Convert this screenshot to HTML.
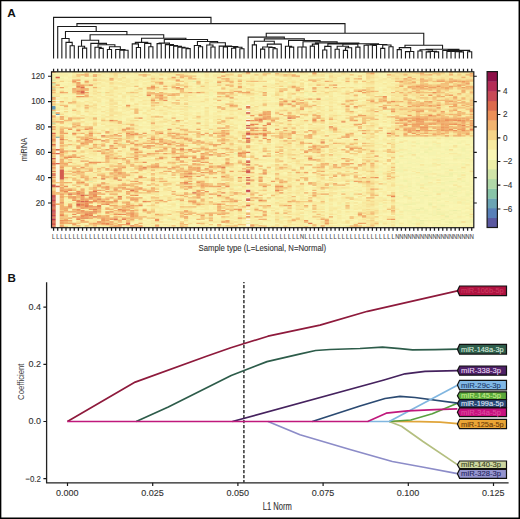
<!DOCTYPE html>
<html><head><meta charset="utf-8"><style>html,body{margin:0;padding:0;background:#fff;width:520px;height:519px;overflow:hidden}</style></head>
<body><svg width="520" height="519" viewBox="0 0 520 519" style="display:block"><rect x="0" y="0" width="520" height="519" fill="#fff"/><defs><filter id="bl" x="0" y="0" width="1" height="1"><feGaussianBlur stdDeviation="0.65" edgeMode="duplicate"/></filter></defs><g filter="url(#bl)"><g transform="translate(51.5 71.8) scale(4.14020 1.26748)"><rect x="0" y="0" width="102" height="123" fill="#f9eda5"/><path fill="#fcf9de" d="M1 20h1v1h-1zM1 22h1v1h-1zM1 24h1v1h-1zM47 26h1v1h-1zM47 29h1v1h-1zM1 31h1v1h-1zM47 31h1v1h-1zM1 34h1v1h-1zM47 35h1v1h-1zM47 37h1v1h-1zM47 39h1v1h-1zM47 40h1v1h-1zM47 45h1v1h-1zM47 50h1v1h-1zM47 51h1v1h-1zM1 52h1v1h-1zM1 53h1v1h-1zM1 54h1v1h-1zM1 55h1v1h-1zM1 56h1v1h-1zM1 57h1v1h-1zM1 58h1v1h-1zM1 59h1v1h-1zM1 60h1v1h-1zM1 62h1v1h-1zM1 63h1v1h-1zM1 65h1v1h-1zM47 65h1v1h-1zM1 66h1v1h-1zM1 67h1v1h-1zM1 68h1v1h-1zM47 68h1v1h-1zM1 69h1v1h-1zM47 69h1v1h-1zM1 70h1v1h-1zM1 71h1v1h-1zM1 73h1v1h-1zM1 74h1v1h-1zM1 75h1v1h-1zM1 76h1v1h-1zM1 77h1v1h-1zM1 78h1v1h-1zM1 79h1v1h-1zM1 80h1v1h-1zM47 80h1v1h-1zM1 81h1v1h-1zM1 82h1v1h-1zM1 83h1v1h-1zM1 84h1v1h-1zM1 85h1v1h-1zM1 86h1v1h-1zM1 88h1v1h-1zM1 89h1v1h-1zM1 91h1v1h-1zM1 92h1v1h-1zM47 92h1v1h-1zM1 93h1v1h-1zM1 94h1v1h-1zM47 95h1v1h-1zM1 97h1v1h-1zM1 98h1v1h-1zM1 99h1v1h-1zM47 99h1v1h-1zM1 100h1v1h-1zM1 101h1v1h-1zM1 102h1v1h-1zM47 102h1v1h-1zM1 103h1v1h-1zM1 105h1v1h-1zM1 106h1v1h-1zM1 107h1v1h-1zM47 107h1v1h-1zM1 108h1v1h-1zM1 109h1v1h-1zM47 109h1v1h-1zM1 110h1v1h-1zM47 110h1v1h-1zM1 111h1v1h-1zM1 112h1v1h-1zM1 113h1v1h-1zM47 113h1v1h-1zM1 114h1v1h-1zM1 115h1v1h-1zM1 116h1v1h-1zM47 116h1v1h-1zM1 117h1v1h-1zM1 118h1v1h-1zM47 118h1v1h-1zM1 119h1v1h-1zM1 120h1v1h-1zM47 120h1v1h-1zM1 121h1v1h-1zM47 121h1v1h-1zM1 122h1v1h-1z"/><path fill="#6497b5" d="M0 27h1v1h-1zM0 28h1v1h-1zM0 29h1v1h-1z"/><path fill="#6da8b3" d="M1 33h1v1h-1zM1 51h1v1h-1z"/><path fill="#a6d3a8" d="M0 40h1v1h-1z"/><path fill="#afd8a8" d="M0 9h1v1h-1zM0 13h1v1h-1z"/><path fill="#b7dba8" d="M0 32h1v1h-1z"/><path fill="#c6e0a8" d="M0 6h1v1h-1z"/><path fill="#dce9a8" d="M0 2h1v1h-1zM0 10h1v1h-1zM0 19h1v1h-1zM0 31h1v1h-1z"/><path fill="#e3eca8" d="M34 7h1v1h-1zM9 86h1v1h-1zM8 96h1v1h-1zM95 114h1v1h-1zM71 121h1v1h-1z"/><path fill="#eaeea8" d="M0 4h1v1h-1zM62 17h1v1h-1zM50 20h1v1h-1zM66 21h1v1h-1zM0 22h1v1h-1zM33 27h1v1h-1zM67 47h1v1h-1zM95 51h1v1h-1zM17 56h1v1h-1zM35 58h1v1h-1zM44 64h1v1h-1zM77 70h1v1h-1zM71 74h1v1h-1zM51 76h1v1h-1zM89 77h1v1h-1zM96 80h1v1h-1zM93 81h1v1h-1zM90 82h1v1h-1zM72 86h1v1h-1zM67 90h1v1h-1zM70 94h1v1h-1zM25 95h1v1h-1zM85 97h1v1h-1zM90 97h1v1h-1zM52 100h1v1h-1zM91 104h1v1h-1zM89 107h1v1h-1zM88 108h1v1h-1zM93 108h1v1h-1zM97 109h1v1h-1zM38 114h1v1h-1zM55 115h1v1h-1zM28 116h1v1h-1zM89 117h1v1h-1zM96 118h1v1h-1zM47 119h1v1h-1zM94 122h1v1h-1z"/><path fill="#eff1a9" d="M49 0h1v1h-1zM2 5h1v1h-1zM57 8h1v1h-1zM35 11h1v1h-1zM56 11h1v1h-1zM14 13h1v1h-1zM12 16h1v1h-1zM61 16h1v1h-1zM4 17h1v1h-1zM79 18h1v1h-1zM43 21h1v1h-1zM58 25h1v1h-1zM10 35h1v1h-1zM5 39h1v1h-1zM27 44h1v1h-1zM38 47h1v1h-1zM17 51h1v1h-1zM36 51h1v1h-1zM84 51h1v1h-1zM82 54h1v1h-1zM88 56h1v1h-1zM62 60h1v1h-1zM91 61h1v1h-1zM22 62h1v1h-1zM84 63h1v1h-1zM90 63h1v1h-1zM86 64h1v1h-1zM44 65h1v1h-1zM69 66h1v1h-1zM97 68h1v1h-1zM100 68h1v1h-1zM35 71h1v1h-1zM83 71h1v1h-1zM94 72h1v1h-1zM10 73h1v1h-1zM92 73h1v1h-1zM11 74h1v1h-1zM31 74h1v1h-1zM42 75h1v1h-1zM87 76h1v1h-1zM95 76h1v1h-1zM27 77h1v1h-1zM58 79h1v1h-1zM99 79h1v1h-1zM96 81h1v1h-1zM94 82h2v1h-2zM85 85h1v1h-1zM85 86h1v1h-1zM96 86h2v1h-2zM99 86h1v1h-1zM33 87h1v1h-1zM53 88h1v1h-1zM44 90h1v1h-1zM86 90h1v1h-1zM51 91h1v1h-1zM94 92h1v1h-1zM97 92h1v1h-1zM94 93h1v1h-1zM86 94h1v1h-1zM89 94h1v1h-1zM97 94h1v1h-1zM100 96h1v1h-1zM96 97h1v1h-1zM72 98h1v1h-1zM97 98h1v1h-1zM92 99h1v1h-1zM93 101h1v1h-1zM4 102h1v1h-1zM83 103h1v1h-1zM91 103h1v1h-1zM79 104h1v1h-1zM85 104h2v1h-2zM94 105h1v1h-1zM101 106h1v1h-1zM62 110h1v1h-1zM93 110h1v1h-1zM50 111h1v1h-1zM93 112h2v1h-2zM6 113h1v1h-1zM94 116h1v1h-1zM20 117h1v1h-1zM79 118h1v1h-1zM49 119h1v1h-1zM89 119h1v1h-1zM92 121h1v1h-1zM89 122h1v1h-1zM101 122h1v1h-1z"/><path fill="#f2f2ac" d="M59 0h1v1h-1zM36 1h1v1h-1zM56 1h1v1h-1zM2 3h1v1h-1zM10 4h1v1h-1zM39 5h1v1h-1zM36 6h1v1h-1zM0 7h1v1h-1zM46 9h1v1h-1zM73 10h1v1h-1zM8 12h1v1h-1zM79 14h1v1h-1zM38 16h1v1h-1zM38 18h1v1h-1zM41 18h1v1h-1zM62 18h2v1h-2zM22 19h1v1h-1zM49 19h1v1h-1zM61 19h1v1h-1zM39 20h1v1h-1zM41 24h1v1h-1zM47 24h1v1h-1zM66 29h1v1h-1zM72 30h1v1h-1zM81 30h1v1h-1zM3 32h1v1h-1zM69 33h1v1h-1zM81 34h1v1h-1zM12 35h1v1h-1zM30 36h1v1h-1zM56 36h1v1h-1zM16 37h1v1h-1zM62 37h1v1h-1zM71 37h1v1h-1zM35 38h1v1h-1zM35 39h2v1h-2zM17 40h1v1h-1zM4 41h1v1h-1zM70 45h1v1h-1zM38 46h1v1h-1zM43 48h1v1h-1zM4 49h1v1h-1zM37 51h1v1h-1zM58 51h1v1h-1zM85 51h1v1h-1zM87 51h1v1h-1zM90 51h1v1h-1zM66 52h1v1h-1zM75 52h1v1h-1zM91 52h1v1h-1zM96 52h1v1h-1zM61 53h1v1h-1zM96 53h1v1h-1zM62 54h1v1h-1zM76 54h1v1h-1zM99 54h1v1h-1zM4 55h1v1h-1zM90 55h1v1h-1zM78 56h1v1h-1zM90 56h1v1h-1zM98 56h1v1h-1zM47 57h1v1h-1zM92 57h2v1h-2zM13 58h1v1h-1zM83 58h1v1h-1zM89 59h1v1h-1zM91 59h1v1h-1zM93 59h1v1h-1zM84 60h1v1h-1zM91 60h1v1h-1zM99 60h1v1h-1zM95 61h1v1h-1zM99 61h1v1h-1zM13 62h1v1h-1zM32 62h1v1h-1zM86 62h1v1h-1zM90 62h1v1h-1zM96 62h1v1h-1zM99 62h1v1h-1zM52 63h1v1h-1zM94 64h1v1h-1zM85 65h1v1h-1zM97 66h2v1h-2zM40 67h1v1h-1zM53 67h1v1h-1zM88 67h1v1h-1zM84 68h2v1h-2zM88 68h1v1h-1zM93 68h1v1h-1zM98 68h1v1h-1zM34 69h1v1h-1zM3 70h1v1h-1zM83 70h1v1h-1zM30 72h1v1h-1zM86 72h1v1h-1zM99 72h1v1h-1zM84 73h1v1h-1zM95 73h1v1h-1zM99 73h1v1h-1zM91 74h1v1h-1zM79 75h1v1h-1zM84 75h1v1h-1zM86 75h1v1h-1zM98 76h1v1h-1zM7 77h1v1h-1zM83 77h2v1h-2zM93 77h1v1h-1zM19 78h1v1h-1zM53 78h1v1h-1zM72 78h1v1h-1zM79 78h1v1h-1zM83 78h2v1h-2zM91 78h1v1h-1zM95 78h1v1h-1zM42 79h1v1h-1zM79 79h1v1h-1zM89 79h2v1h-2zM96 79h2v1h-2zM87 80h1v1h-1zM89 80h1v1h-1zM79 81h1v1h-1zM85 81h1v1h-1zM90 81h1v1h-1zM94 81h1v1h-1zM98 81h1v1h-1zM44 82h1v1h-1zM96 82h1v1h-1zM98 82h1v1h-1zM88 83h1v1h-1zM90 83h3v1h-3zM63 84h1v1h-1zM90 84h1v1h-1zM95 84h1v1h-1zM98 85h1v1h-1zM61 86h1v1h-1zM80 87h1v1h-1zM94 87h1v1h-1zM86 88h1v1h-1zM88 88h1v1h-1zM90 88h1v1h-1zM92 88h1v1h-1zM94 88h1v1h-1zM88 89h1v1h-1zM90 89h2v1h-2zM100 89h1v1h-1zM84 90h1v1h-1zM89 90h1v1h-1zM74 91h1v1h-1zM93 91h1v1h-1zM98 91h1v1h-1zM96 92h1v1h-1zM99 92h1v1h-1zM85 93h1v1h-1zM88 93h1v1h-1zM96 93h1v1h-1zM98 93h1v1h-1zM101 93h1v1h-1zM74 94h1v1h-1zM84 94h1v1h-1zM92 94h3v1h-3zM85 95h1v1h-1zM93 95h1v1h-1zM97 95h1v1h-1zM23 96h1v1h-1zM89 96h1v1h-1zM101 96h1v1h-1zM66 97h1v1h-1zM69 97h1v1h-1zM86 97h1v1h-1zM91 97h1v1h-1zM100 97h1v1h-1zM66 98h1v1h-1zM83 98h1v1h-1zM86 98h1v1h-1zM80 99h1v1h-1zM84 99h1v1h-1zM88 99h1v1h-1zM96 99h1v1h-1zM101 99h1v1h-1zM39 100h1v1h-1zM83 100h1v1h-1zM94 100h1v1h-1zM98 100h2v1h-2zM54 101h1v1h-1zM100 101h1v1h-1zM30 102h1v1h-1zM101 102h1v1h-1zM31 103h1v1h-1zM87 103h2v1h-2zM99 103h1v1h-1zM70 104h1v1h-1zM87 104h1v1h-1zM22 105h1v1h-1zM91 105h1v1h-1zM35 106h1v1h-1zM56 107h1v1h-1zM87 108h1v1h-1zM89 108h1v1h-1zM85 109h2v1h-2zM90 109h1v1h-1zM96 109h1v1h-1zM98 109h1v1h-1zM87 110h2v1h-2zM95 110h1v1h-1zM101 110h1v1h-1zM79 111h1v1h-1zM93 111h2v1h-2zM97 111h1v1h-1zM100 111h1v1h-1zM83 112h1v1h-1zM87 112h1v1h-1zM91 112h1v1h-1zM96 112h1v1h-1zM4 113h1v1h-1zM61 113h1v1h-1zM83 113h1v1h-1zM92 113h1v1h-1zM95 113h1v1h-1zM100 113h2v1h-2zM84 114h1v1h-1zM84 115h1v1h-1zM90 115h1v1h-1zM88 116h1v1h-1zM96 116h1v1h-1zM101 116h1v1h-1zM83 117h1v1h-1zM88 117h1v1h-1zM90 117h4v1h-4zM101 117h1v1h-1zM38 118h1v1h-1zM86 118h1v1h-1zM89 118h1v1h-1zM95 118h1v1h-1zM98 118h1v1h-1zM100 118h2v1h-2zM87 119h1v1h-1zM92 119h2v1h-2zM96 119h1v1h-1zM95 120h1v1h-1zM3 121h1v1h-1zM84 121h1v1h-1zM89 121h1v1h-1zM33 122h1v1h-1zM90 122h1v1h-1zM100 122h1v1h-1z"/><path fill="#f5f3af" d="M3 0h1v1h-1zM52 0h1v1h-1zM40 1h1v1h-1zM45 1h1v1h-1zM75 1h1v1h-1zM79 1h1v1h-1zM16 2h1v1h-1zM38 2h1v1h-1zM47 3h1v1h-1zM66 3h1v1h-1zM81 3h1v1h-1zM7 4h1v1h-1zM44 4h1v1h-1zM70 4h1v1h-1zM5 5h1v1h-1zM63 5h1v1h-1zM52 6h1v1h-1zM23 7h1v1h-1zM46 7h1v1h-1zM33 8h1v1h-1zM38 8h2v1h-2zM40 9h1v1h-1zM53 9h1v1h-1zM4 10h1v1h-1zM11 10h1v1h-1zM51 10h1v1h-1zM4 13h1v1h-1zM35 13h1v1h-1zM22 14h1v1h-1zM39 14h1v1h-1zM61 14h1v1h-1zM63 14h1v1h-1zM4 15h1v1h-1zM18 15h1v1h-1zM51 15h1v1h-1zM70 15h1v1h-1zM21 16h1v1h-1zM19 17h1v1h-1zM38 17h1v1h-1zM53 17h1v1h-1zM56 17h1v1h-1zM2 18h1v1h-1zM58 18h1v1h-1zM4 19h1v1h-1zM18 19h1v1h-1zM35 19h1v1h-1zM52 20h1v1h-1zM40 21h1v1h-1zM72 21h1v1h-1zM33 22h1v1h-1zM39 22h1v1h-1zM61 22h1v1h-1zM78 22h1v1h-1zM25 23h1v1h-1zM74 23h1v1h-1zM12 24h1v1h-1zM12 25h1v1h-1zM36 25h1v1h-1zM5 26h1v1h-1zM54 26h1v1h-1zM73 26h1v1h-1zM38 27h1v1h-1zM2 28h1v1h-1zM74 28h1v1h-1zM22 29h1v1h-1zM33 29h1v1h-1zM51 29h1v1h-1zM61 29h1v1h-1zM73 29h1v1h-1zM4 31h1v1h-1zM13 31h1v1h-1zM33 31h1v1h-1zM53 31h1v1h-1zM80 31h2v1h-2zM28 32h1v1h-1zM79 34h1v1h-1zM22 35h1v1h-1zM49 35h1v1h-1zM78 35h1v1h-1zM28 36h1v1h-1zM46 37h1v1h-1zM23 38h1v1h-1zM51 38h1v1h-1zM4 39h1v1h-1zM8 39h1v1h-1zM74 39h1v1h-1zM81 39h1v1h-1zM21 40h1v1h-1zM51 40h1v1h-1zM0 42h1v1h-1zM40 42h1v1h-1zM66 42h1v1h-1zM11 43h1v1h-1zM19 43h1v1h-1zM38 43h1v1h-1zM81 43h1v1h-1zM38 44h1v1h-1zM53 44h1v1h-1zM30 45h1v1h-1zM52 45h1v1h-1zM66 45h1v1h-1zM4 47h1v1h-1zM66 47h1v1h-1zM21 48h1v1h-1zM23 48h1v1h-1zM62 48h1v1h-1zM10 49h1v1h-1zM70 49h1v1h-1zM50 50h1v1h-1zM75 50h1v1h-1zM86 51h1v1h-1zM92 51h1v1h-1zM96 51h2v1h-2zM101 51h1v1h-1zM83 52h1v1h-1zM87 52h1v1h-1zM90 52h1v1h-1zM92 52h1v1h-1zM94 52h1v1h-1zM98 52h1v1h-1zM100 52h1v1h-1zM53 53h1v1h-1zM58 53h1v1h-1zM84 53h1v1h-1zM93 53h1v1h-1zM95 53h1v1h-1zM84 54h1v1h-1zM88 54h1v1h-1zM86 55h1v1h-1zM91 55h1v1h-1zM95 55h1v1h-1zM98 55h1v1h-1zM52 56h1v1h-1zM66 56h1v1h-1zM79 56h1v1h-1zM86 56h2v1h-2zM92 56h1v1h-1zM96 56h1v1h-1zM13 57h1v1h-1zM84 57h1v1h-1zM88 57h1v1h-1zM90 57h1v1h-1zM4 58h1v1h-1zM50 58h1v1h-1zM70 58h1v1h-1zM72 58h1v1h-1zM84 58h1v1h-1zM86 58h1v1h-1zM4 59h1v1h-1zM83 59h1v1h-1zM92 59h1v1h-1zM94 59h2v1h-2zM98 59h2v1h-2zM101 59h1v1h-1zM22 60h1v1h-1zM50 60h1v1h-1zM59 60h1v1h-1zM83 60h1v1h-1zM86 60h1v1h-1zM89 60h1v1h-1zM92 60h2v1h-2zM95 60h1v1h-1zM100 60h1v1h-1zM40 61h1v1h-1zM78 61h1v1h-1zM88 61h1v1h-1zM90 61h1v1h-1zM98 61h1v1h-1zM85 62h1v1h-1zM88 62h1v1h-1zM92 62h2v1h-2zM100 62h1v1h-1zM19 63h1v1h-1zM86 63h3v1h-3zM91 63h2v1h-2zM95 63h1v1h-1zM97 63h1v1h-1zM100 63h1v1h-1zM80 64h1v1h-1zM83 64h1v1h-1zM87 64h1v1h-1zM89 64h1v1h-1zM91 64h2v1h-2zM98 64h1v1h-1zM100 64h1v1h-1zM17 65h1v1h-1zM83 65h1v1h-1zM89 65h1v1h-1zM91 65h3v1h-3zM99 65h1v1h-1zM58 66h1v1h-1zM83 66h1v1h-1zM87 66h1v1h-1zM99 66h2v1h-2zM51 67h1v1h-1zM70 67h1v1h-1zM84 67h1v1h-1zM94 67h1v1h-1zM97 67h3v1h-3zM86 68h1v1h-1zM89 68h1v1h-1zM92 68h1v1h-1zM99 68h1v1h-1zM83 69h1v1h-1zM87 69h1v1h-1zM89 69h1v1h-1zM94 69h2v1h-2zM86 70h1v1h-1zM88 70h1v1h-1zM93 70h2v1h-2zM99 70h3v1h-3zM63 71h1v1h-1zM86 71h2v1h-2zM89 71h1v1h-1zM92 71h2v1h-2zM85 72h1v1h-1zM88 72h1v1h-1zM95 72h3v1h-3zM52 73h1v1h-1zM63 73h1v1h-1zM73 73h1v1h-1zM87 73h2v1h-2zM90 73h2v1h-2zM101 73h1v1h-1zM32 74h1v1h-1zM83 74h2v1h-2zM94 74h1v1h-1zM97 74h2v1h-2zM100 74h1v1h-1zM13 75h1v1h-1zM61 75h1v1h-1zM85 75h1v1h-1zM89 75h2v1h-2zM94 75h1v1h-1zM96 75h2v1h-2zM61 76h1v1h-1zM83 76h3v1h-3zM88 76h1v1h-1zM94 76h1v1h-1zM96 76h2v1h-2zM101 76h1v1h-1zM5 77h1v1h-1zM72 77h1v1h-1zM86 77h1v1h-1zM88 77h1v1h-1zM90 77h1v1h-1zM92 77h1v1h-1zM97 77h3v1h-3zM101 77h1v1h-1zM85 78h1v1h-1zM90 78h1v1h-1zM78 79h1v1h-1zM84 79h1v1h-1zM91 79h1v1h-1zM98 79h1v1h-1zM101 79h1v1h-1zM85 80h2v1h-2zM95 80h1v1h-1zM98 80h1v1h-1zM100 80h1v1h-1zM84 81h1v1h-1zM88 81h2v1h-2zM91 82h1v1h-1zM93 82h1v1h-1zM99 82h1v1h-1zM30 83h1v1h-1zM35 83h1v1h-1zM93 83h1v1h-1zM22 84h1v1h-1zM35 84h1v1h-1zM79 84h1v1h-1zM83 84h1v1h-1zM91 84h2v1h-2zM94 84h1v1h-1zM96 84h1v1h-1zM84 85h1v1h-1zM89 85h2v1h-2zM94 85h1v1h-1zM99 85h1v1h-1zM12 86h1v1h-1zM63 86h1v1h-1zM83 86h2v1h-2zM86 86h1v1h-1zM89 86h2v1h-2zM95 86h1v1h-1zM73 87h1v1h-1zM83 87h1v1h-1zM86 87h1v1h-1zM88 87h3v1h-3zM95 87h2v1h-2zM98 87h1v1h-1zM100 87h1v1h-1zM5 88h1v1h-1zM74 88h1v1h-1zM91 88h1v1h-1zM95 88h2v1h-2zM100 88h1v1h-1zM86 89h1v1h-1zM93 89h2v1h-2zM7 90h1v1h-1zM24 90h1v1h-1zM41 90h1v1h-1zM61 90h1v1h-1zM95 90h1v1h-1zM101 90h1v1h-1zM83 91h1v1h-1zM85 91h1v1h-1zM87 91h1v1h-1zM91 91h1v1h-1zM95 91h3v1h-3zM99 91h2v1h-2zM11 92h1v1h-1zM50 92h1v1h-1zM70 92h1v1h-1zM73 92h1v1h-1zM83 92h2v1h-2zM86 92h1v1h-1zM92 92h1v1h-1zM100 92h2v1h-2zM38 93h1v1h-1zM92 93h1v1h-1zM95 93h1v1h-1zM52 94h1v1h-1zM90 94h1v1h-1zM95 94h1v1h-1zM100 94h1v1h-1zM72 95h1v1h-1zM83 95h1v1h-1zM87 95h1v1h-1zM100 95h2v1h-2zM13 96h1v1h-1zM72 96h1v1h-1zM85 96h1v1h-1zM88 96h1v1h-1zM90 96h1v1h-1zM95 96h3v1h-3zM46 97h1v1h-1zM72 97h1v1h-1zM87 97h2v1h-2zM93 97h1v1h-1zM89 98h2v1h-2zM93 98h1v1h-1zM96 98h1v1h-1zM99 98h2v1h-2zM53 99h1v1h-1zM81 99h1v1h-1zM91 99h1v1h-1zM95 99h1v1h-1zM3 100h1v1h-1zM51 100h1v1h-1zM89 100h1v1h-1zM93 100h1v1h-1zM95 100h1v1h-1zM97 100h1v1h-1zM35 101h1v1h-1zM66 101h1v1h-1zM87 101h1v1h-1zM89 101h1v1h-1zM91 101h1v1h-1zM96 101h3v1h-3zM49 102h1v1h-1zM72 102h1v1h-1zM89 102h1v1h-1zM97 102h1v1h-1zM99 102h1v1h-1zM19 103h1v1h-1zM30 103h1v1h-1zM40 103h1v1h-1zM50 103h1v1h-1zM86 103h1v1h-1zM89 103h1v1h-1zM97 103h1v1h-1zM100 103h1v1h-1zM80 104h1v1h-1zM84 104h1v1h-1zM93 104h2v1h-2zM99 104h1v1h-1zM30 105h1v1h-1zM53 105h1v1h-1zM62 105h1v1h-1zM66 105h1v1h-1zM69 105h1v1h-1zM83 105h3v1h-3zM93 105h1v1h-1zM95 105h1v1h-1zM101 105h1v1h-1zM23 106h1v1h-1zM50 106h1v1h-1zM79 106h1v1h-1zM85 106h1v1h-1zM94 106h1v1h-1zM79 107h1v1h-1zM83 107h1v1h-1zM86 107h1v1h-1zM92 107h2v1h-2zM62 108h1v1h-1zM72 108h1v1h-1zM85 108h1v1h-1zM90 108h1v1h-1zM99 108h1v1h-1zM36 109h1v1h-1zM84 109h1v1h-1zM88 109h1v1h-1zM92 109h1v1h-1zM101 109h1v1h-1zM46 110h1v1h-1zM86 110h1v1h-1zM90 110h1v1h-1zM92 110h1v1h-1zM94 110h1v1h-1zM52 111h1v1h-1zM73 111h1v1h-1zM87 111h1v1h-1zM89 111h2v1h-2zM92 111h1v1h-1zM95 111h1v1h-1zM99 111h1v1h-1zM86 112h1v1h-1zM92 112h1v1h-1zM98 112h1v1h-1zM50 113h1v1h-1zM89 113h1v1h-1zM98 113h1v1h-1zM30 114h1v1h-1zM68 114h1v1h-1zM93 114h1v1h-1zM83 115h1v1h-1zM87 115h1v1h-1zM97 115h2v1h-2zM5 116h1v1h-1zM23 116h1v1h-1zM55 116h1v1h-1zM62 116h1v1h-1zM87 116h1v1h-1zM33 117h1v1h-1zM53 117h1v1h-1zM86 117h2v1h-2zM100 117h1v1h-1zM83 118h1v1h-1zM88 118h1v1h-1zM61 119h1v1h-1zM83 119h1v1h-1zM86 119h1v1h-1zM98 119h1v1h-1zM4 120h1v1h-1zM33 120h1v1h-1zM61 120h1v1h-1zM69 120h1v1h-1zM87 120h1v1h-1zM89 120h2v1h-2zM93 120h1v1h-1zM97 120h1v1h-1zM17 121h1v1h-1zM62 121h1v1h-1zM81 121h1v1h-1zM86 121h1v1h-1zM94 121h1v1h-1zM97 121h1v1h-1zM101 121h1v1h-1zM4 122h1v1h-1zM93 122h1v1h-1zM97 122h1v1h-1zM99 122h1v1h-1z"/><path fill="#f8f5b2" d="M36 0h1v1h-1zM4 1h1v1h-1zM21 1h1v1h-1zM35 1h1v1h-1zM44 1h1v1h-1zM74 1h1v1h-1zM4 2h1v1h-1zM12 2h1v1h-1zM47 2h1v1h-1zM4 3h1v1h-1zM13 3h1v1h-1zM17 3h1v1h-1zM29 3h1v1h-1zM40 3h1v1h-1zM49 3h1v1h-1zM60 3h1v1h-1zM80 3h1v1h-1zM2 4h1v1h-1zM16 4h1v1h-1zM18 4h1v1h-1zM35 4h1v1h-1zM4 5h1v1h-1zM8 5h1v1h-1zM37 5h2v1h-2zM51 5h1v1h-1zM70 5h1v1h-1zM2 6h1v1h-1zM7 6h1v1h-1zM21 6h1v1h-1zM34 6h1v1h-1zM49 6h1v1h-1zM66 6h1v1h-1zM7 7h1v1h-1zM29 7h1v1h-1zM39 7h1v1h-1zM52 7h1v1h-1zM4 8h1v1h-1zM34 8h1v1h-1zM49 8h1v1h-1zM51 8h1v1h-1zM53 8h1v1h-1zM80 8h1v1h-1zM38 9h1v1h-1zM2 10h1v1h-1zM39 10h1v1h-1zM61 10h1v1h-1zM71 10h1v1h-1zM21 11h1v1h-1zM49 11h1v1h-1zM63 11h2v1h-2zM4 12h1v1h-1zM31 12h1v1h-1zM40 12h1v1h-1zM49 13h1v1h-1zM53 13h1v1h-1zM57 13h1v1h-1zM62 13h1v1h-1zM75 13h1v1h-1zM79 13h1v1h-1zM11 14h1v1h-1zM18 14h2v1h-2zM53 14h1v1h-1zM67 14h1v1h-1zM22 15h1v1h-1zM24 15h1v1h-1zM56 15h1v1h-1zM79 15h1v1h-1zM4 16h1v1h-1zM22 16h1v1h-1zM35 17h2v1h-2zM45 17h1v1h-1zM61 17h1v1h-1zM63 17h1v1h-1zM68 17h1v1h-1zM3 18h1v1h-1zM12 18h1v1h-1zM36 18h1v1h-1zM61 18h1v1h-1zM80 18h1v1h-1zM3 19h1v1h-1zM38 19h1v1h-1zM36 20h1v1h-1zM38 20h1v1h-1zM53 20h1v1h-1zM55 20h1v1h-1zM61 20h1v1h-1zM74 20h1v1h-1zM8 21h1v1h-1zM16 21h1v1h-1zM18 21h1v1h-1zM23 21h1v1h-1zM30 21h1v1h-1zM52 21h1v1h-1zM69 21h1v1h-1zM4 22h1v1h-1zM6 22h2v1h-2zM28 22h1v1h-1zM47 22h1v1h-1zM12 23h1v1h-1zM16 23h1v1h-1zM41 23h2v1h-2zM53 23h2v1h-2zM62 23h1v1h-1zM36 24h1v1h-1zM42 24h1v1h-1zM46 24h1v1h-1zM50 24h1v1h-1zM62 24h1v1h-1zM8 25h1v1h-1zM63 25h1v1h-1zM68 25h1v1h-1zM39 26h2v1h-2zM46 26h1v1h-1zM41 27h1v1h-1zM48 27h1v1h-1zM56 27h1v1h-1zM19 28h1v1h-1zM21 28h1v1h-1zM31 28h1v1h-1zM36 28h1v1h-1zM54 28h1v1h-1zM81 28h1v1h-1zM4 29h1v1h-1zM25 29h1v1h-1zM35 29h1v1h-1zM38 29h1v1h-1zM4 30h1v1h-1zM7 30h1v1h-1zM61 30h1v1h-1zM78 30h1v1h-1zM80 30h1v1h-1zM22 31h1v1h-1zM35 31h1v1h-1zM38 31h2v1h-2zM69 31h2v1h-2zM11 32h2v1h-2zM17 32h1v1h-1zM21 32h1v1h-1zM36 32h1v1h-1zM44 32h1v1h-1zM63 32h1v1h-1zM5 33h1v1h-1zM21 33h1v1h-1zM41 33h1v1h-1zM81 33h1v1h-1zM4 34h1v1h-1zM11 34h1v1h-1zM22 34h1v1h-1zM28 35h1v1h-1zM33 36h1v1h-1zM40 36h1v1h-1zM45 36h1v1h-1zM59 36h1v1h-1zM61 36h1v1h-1zM73 36h2v1h-2zM7 37h1v1h-1zM30 37h1v1h-1zM38 37h1v1h-1zM31 39h1v1h-1zM62 39h1v1h-1zM44 40h1v1h-1zM7 41h1v1h-1zM36 41h1v1h-1zM38 41h2v1h-2zM47 41h1v1h-1zM53 41h1v1h-1zM79 41h1v1h-1zM23 42h1v1h-1zM33 42h1v1h-1zM35 42h1v1h-1zM80 42h1v1h-1zM10 43h1v1h-1zM27 43h1v1h-1zM32 43h1v1h-1zM22 44h1v1h-1zM33 44h1v1h-1zM66 44h1v1h-1zM70 44h1v1h-1zM53 45h1v1h-1zM71 45h1v1h-1zM4 46h1v1h-1zM11 46h1v1h-1zM23 46h1v1h-1zM55 46h1v1h-1zM36 47h1v1h-1zM50 47h1v1h-1zM74 47h1v1h-1zM77 47h1v1h-1zM79 47h1v1h-1zM34 48h1v1h-1zM38 48h1v1h-1zM59 48h1v1h-1zM74 48h1v1h-1zM53 49h1v1h-1zM66 49h1v1h-1zM79 50h2v1h-2zM23 51h1v1h-1zM51 51h1v1h-1zM64 51h1v1h-1zM74 51h1v1h-1zM79 51h1v1h-1zM88 51h1v1h-1zM94 51h1v1h-1zM98 51h3v1h-3zM12 52h1v1h-1zM35 52h1v1h-1zM45 52h1v1h-1zM50 52h1v1h-1zM52 52h1v1h-1zM73 52h1v1h-1zM79 52h1v1h-1zM85 52h2v1h-2zM88 52h2v1h-2zM99 52h1v1h-1zM101 52h1v1h-1zM4 53h1v1h-1zM62 53h1v1h-1zM79 53h1v1h-1zM86 53h6v1h-6zM101 53h1v1h-1zM19 54h1v1h-1zM38 54h2v1h-2zM90 54h1v1h-1zM95 54h1v1h-1zM97 54h2v1h-2zM100 54h2v1h-2zM33 55h1v1h-1zM51 55h1v1h-1zM79 55h1v1h-1zM81 55h1v1h-1zM83 55h1v1h-1zM85 55h1v1h-1zM88 55h1v1h-1zM100 55h2v1h-2zM51 56h1v1h-1zM53 56h1v1h-1zM84 56h2v1h-2zM89 56h1v1h-1zM94 56h2v1h-2zM97 56h1v1h-1zM100 56h2v1h-2zM9 57h1v1h-1zM33 57h1v1h-1zM62 57h1v1h-1zM74 57h1v1h-1zM83 57h1v1h-1zM85 57h1v1h-1zM95 57h1v1h-1zM97 57h1v1h-1zM34 58h1v1h-1zM85 58h1v1h-1zM92 58h1v1h-1zM95 58h2v1h-2zM98 58h3v1h-3zM84 59h1v1h-1zM86 59h1v1h-1zM88 59h1v1h-1zM100 59h1v1h-1zM4 60h1v1h-1zM7 60h1v1h-1zM13 60h1v1h-1zM38 60h1v1h-1zM66 60h1v1h-1zM69 60h1v1h-1zM79 60h1v1h-1zM85 60h1v1h-1zM87 60h2v1h-2zM90 60h1v1h-1zM94 60h1v1h-1zM97 60h2v1h-2zM101 60h1v1h-1zM3 61h1v1h-1zM52 61h1v1h-1zM56 61h1v1h-1zM66 61h1v1h-1zM86 61h1v1h-1zM89 61h1v1h-1zM92 61h3v1h-3zM36 62h1v1h-1zM39 62h1v1h-1zM47 62h1v1h-1zM84 62h1v1h-1zM94 62h2v1h-2zM97 62h2v1h-2zM26 63h1v1h-1zM36 63h1v1h-1zM44 63h1v1h-1zM66 63h1v1h-1zM73 63h1v1h-1zM83 63h1v1h-1zM85 63h1v1h-1zM93 63h1v1h-1zM96 63h1v1h-1zM99 63h1v1h-1zM101 63h1v1h-1zM53 64h1v1h-1zM71 64h1v1h-1zM84 64h2v1h-2zM90 64h1v1h-1zM93 64h1v1h-1zM95 64h1v1h-1zM99 64h1v1h-1zM6 65h1v1h-1zM11 65h1v1h-1zM30 65h1v1h-1zM41 65h1v1h-1zM84 65h1v1h-1zM88 65h1v1h-1zM90 65h1v1h-1zM94 65h1v1h-1zM97 65h1v1h-1zM12 66h1v1h-1zM70 66h1v1h-1zM85 66h2v1h-2zM88 66h1v1h-1zM90 66h3v1h-3zM96 66h1v1h-1zM101 66h1v1h-1zM50 67h1v1h-1zM64 67h1v1h-1zM68 67h1v1h-1zM73 67h1v1h-1zM86 67h1v1h-1zM91 67h2v1h-2zM95 67h2v1h-2zM100 67h2v1h-2zM5 68h1v1h-1zM24 68h1v1h-1zM33 68h1v1h-1zM46 68h1v1h-1zM83 68h1v1h-1zM91 68h1v1h-1zM94 68h1v1h-1zM101 68h1v1h-1zM11 69h1v1h-1zM56 69h1v1h-1zM86 69h1v1h-1zM90 69h1v1h-1zM96 69h1v1h-1zM98 69h1v1h-1zM26 70h1v1h-1zM50 70h1v1h-1zM62 70h1v1h-1zM66 70h1v1h-1zM84 70h2v1h-2zM87 70h1v1h-1zM90 70h2v1h-2zM95 70h1v1h-1zM97 70h1v1h-1zM16 71h1v1h-1zM52 71h1v1h-1zM61 71h1v1h-1zM64 71h1v1h-1zM85 71h1v1h-1zM90 71h1v1h-1zM94 71h2v1h-2zM100 71h1v1h-1zM7 72h1v1h-1zM31 72h1v1h-1zM51 72h2v1h-2zM57 72h1v1h-1zM74 72h1v1h-1zM84 72h1v1h-1zM87 72h1v1h-1zM89 72h3v1h-3zM93 72h1v1h-1zM100 72h2v1h-2zM11 73h1v1h-1zM40 73h1v1h-1zM45 73h1v1h-1zM81 73h1v1h-1zM83 73h1v1h-1zM85 73h1v1h-1zM98 73h1v1h-1zM46 74h1v1h-1zM51 74h1v1h-1zM58 74h1v1h-1zM62 74h1v1h-1zM86 74h2v1h-2zM89 74h2v1h-2zM96 74h1v1h-1zM53 75h1v1h-1zM62 75h1v1h-1zM88 75h1v1h-1zM91 75h2v1h-2zM95 75h1v1h-1zM98 75h1v1h-1zM101 75h1v1h-1zM42 76h1v1h-1zM86 76h1v1h-1zM89 76h1v1h-1zM91 76h2v1h-2zM100 76h1v1h-1zM20 77h1v1h-1zM40 77h1v1h-1zM46 77h1v1h-1zM91 77h1v1h-1zM94 77h1v1h-1zM13 78h1v1h-1zM39 78h1v1h-1zM88 78h2v1h-2zM92 78h3v1h-3zM98 78h1v1h-1zM22 79h1v1h-1zM35 79h1v1h-1zM50 79h1v1h-1zM66 79h1v1h-1zM85 79h3v1h-3zM92 79h3v1h-3zM100 79h1v1h-1zM58 80h1v1h-1zM74 80h1v1h-1zM83 80h2v1h-2zM99 80h1v1h-1zM20 81h1v1h-1zM39 81h1v1h-1zM50 81h2v1h-2zM75 81h1v1h-1zM86 81h1v1h-1zM91 81h1v1h-1zM100 81h2v1h-2zM49 82h1v1h-1zM53 82h1v1h-1zM85 82h2v1h-2zM89 82h1v1h-1zM100 82h1v1h-1zM23 83h1v1h-1zM66 83h1v1h-1zM83 83h1v1h-1zM85 83h1v1h-1zM94 83h1v1h-1zM96 83h3v1h-3zM100 83h1v1h-1zM7 84h1v1h-1zM53 84h1v1h-1zM66 84h1v1h-1zM87 84h3v1h-3zM97 84h1v1h-1zM99 84h2v1h-2zM4 85h1v1h-1zM30 85h1v1h-1zM51 85h1v1h-1zM60 85h1v1h-1zM83 85h1v1h-1zM86 85h2v1h-2zM91 85h1v1h-1zM95 85h2v1h-2zM100 85h1v1h-1zM3 86h1v1h-1zM22 86h1v1h-1zM34 86h1v1h-1zM41 86h1v1h-1zM49 86h1v1h-1zM87 86h1v1h-1zM91 86h1v1h-1zM98 86h1v1h-1zM100 86h1v1h-1zM23 87h1v1h-1zM30 87h1v1h-1zM38 87h1v1h-1zM41 87h1v1h-1zM72 87h1v1h-1zM79 87h1v1h-1zM84 87h2v1h-2zM92 87h1v1h-1zM99 87h1v1h-1zM101 87h1v1h-1zM4 88h1v1h-1zM23 88h1v1h-1zM72 88h1v1h-1zM84 88h2v1h-2zM87 88h1v1h-1zM98 88h2v1h-2zM101 88h1v1h-1zM53 89h1v1h-1zM74 89h1v1h-1zM85 89h1v1h-1zM87 89h1v1h-1zM92 89h1v1h-1zM98 89h2v1h-2zM23 90h1v1h-1zM72 90h1v1h-1zM79 90h1v1h-1zM83 90h1v1h-1zM87 90h2v1h-2zM90 90h5v1h-5zM97 90h1v1h-1zM22 91h1v1h-1zM26 91h1v1h-1zM35 91h1v1h-1zM37 91h1v1h-1zM79 91h1v1h-1zM86 91h1v1h-1zM88 91h1v1h-1zM101 91h1v1h-1zM16 92h1v1h-1zM26 92h1v1h-1zM58 92h1v1h-1zM66 92h1v1h-1zM72 92h1v1h-1zM87 92h3v1h-3zM93 92h1v1h-1zM95 92h1v1h-1zM98 92h1v1h-1zM75 93h1v1h-1zM83 93h1v1h-1zM86 93h2v1h-2zM4 94h2v1h-2zM68 94h1v1h-1zM83 94h1v1h-1zM88 94h1v1h-1zM91 94h1v1h-1zM96 94h1v1h-1zM98 94h1v1h-1zM38 95h1v1h-1zM51 95h1v1h-1zM88 95h1v1h-1zM92 95h1v1h-1zM96 95h1v1h-1zM99 95h1v1h-1zM27 96h1v1h-1zM86 96h2v1h-2zM91 96h2v1h-2zM94 96h1v1h-1zM98 96h2v1h-2zM5 97h1v1h-1zM49 97h1v1h-1zM51 97h1v1h-1zM68 97h1v1h-1zM74 97h1v1h-1zM79 97h1v1h-1zM83 97h1v1h-1zM89 97h1v1h-1zM94 97h2v1h-2zM97 97h3v1h-3zM50 98h1v1h-1zM59 98h1v1h-1zM87 98h2v1h-2zM92 98h1v1h-1zM94 98h1v1h-1zM98 98h1v1h-1zM12 99h1v1h-1zM32 99h1v1h-1zM58 99h1v1h-1zM61 99h1v1h-1zM63 99h1v1h-1zM83 99h1v1h-1zM85 99h1v1h-1zM87 99h1v1h-1zM90 99h1v1h-1zM94 99h1v1h-1zM99 99h1v1h-1zM45 100h1v1h-1zM66 100h1v1h-1zM69 100h1v1h-1zM87 100h1v1h-1zM91 100h1v1h-1zM96 100h1v1h-1zM100 100h2v1h-2zM3 101h1v1h-1zM46 101h1v1h-1zM61 101h1v1h-1zM84 101h1v1h-1zM86 101h1v1h-1zM90 101h1v1h-1zM95 101h1v1h-1zM101 101h1v1h-1zM5 102h1v1h-1zM66 102h1v1h-1zM87 102h1v1h-1zM90 102h1v1h-1zM92 102h1v1h-1zM96 102h1v1h-1zM100 102h1v1h-1zM74 103h1v1h-1zM84 103h1v1h-1zM90 103h1v1h-1zM93 103h3v1h-3zM101 103h1v1h-1zM62 104h1v1h-1zM68 104h1v1h-1zM83 104h1v1h-1zM88 104h3v1h-3zM96 104h2v1h-2zM101 104h1v1h-1zM68 105h1v1h-1zM72 105h1v1h-1zM88 105h3v1h-3zM92 105h1v1h-1zM97 105h3v1h-3zM13 106h1v1h-1zM30 106h1v1h-1zM44 106h1v1h-1zM66 106h1v1h-1zM81 106h1v1h-1zM83 106h1v1h-1zM88 106h2v1h-2zM91 106h1v1h-1zM93 106h1v1h-1zM95 106h1v1h-1zM97 106h1v1h-1zM100 106h1v1h-1zM12 107h1v1h-1zM27 107h1v1h-1zM35 107h1v1h-1zM55 107h1v1h-1zM70 107h1v1h-1zM85 107h1v1h-1zM87 107h1v1h-1zM91 107h1v1h-1zM98 107h2v1h-2zM101 107h1v1h-1zM4 108h1v1h-1zM58 108h1v1h-1zM61 108h1v1h-1zM66 108h1v1h-1zM79 108h1v1h-1zM94 108h2v1h-2zM97 108h1v1h-1zM13 109h1v1h-1zM46 109h1v1h-1zM65 109h1v1h-1zM74 109h1v1h-1zM83 109h1v1h-1zM89 109h1v1h-1zM95 109h1v1h-1zM28 110h1v1h-1zM44 110h1v1h-1zM61 110h1v1h-1zM83 110h1v1h-1zM85 110h1v1h-1zM91 110h1v1h-1zM96 110h3v1h-3zM3 111h1v1h-1zM17 111h1v1h-1zM68 111h1v1h-1zM84 111h2v1h-2zM91 111h1v1h-1zM96 111h1v1h-1zM98 111h1v1h-1zM101 111h1v1h-1zM60 112h1v1h-1zM70 112h1v1h-1zM81 112h1v1h-1zM85 112h1v1h-1zM89 112h2v1h-2zM95 112h1v1h-1zM97 112h1v1h-1zM99 112h2v1h-2zM10 113h1v1h-1zM53 113h1v1h-1zM85 113h3v1h-3zM90 113h2v1h-2zM97 113h1v1h-1zM58 114h1v1h-1zM61 114h1v1h-1zM88 114h4v1h-4zM96 114h2v1h-2zM35 115h1v1h-1zM40 115h1v1h-1zM52 115h2v1h-2zM71 115h1v1h-1zM85 115h1v1h-1zM89 115h1v1h-1zM92 115h3v1h-3zM101 115h1v1h-1zM4 116h1v1h-1zM20 116h1v1h-1zM34 116h1v1h-1zM42 116h1v1h-1zM52 116h1v1h-1zM86 116h1v1h-1zM91 116h1v1h-1zM95 116h1v1h-1zM97 116h4v1h-4zM27 117h2v1h-2zM46 117h1v1h-1zM78 117h1v1h-1zM80 117h1v1h-1zM85 117h1v1h-1zM94 117h6v1h-6zM22 118h1v1h-1zM35 118h1v1h-1zM52 118h2v1h-2zM62 118h3v1h-3zM85 118h1v1h-1zM90 118h1v1h-1zM93 118h1v1h-1zM97 118h1v1h-1zM8 119h1v1h-1zM27 119h1v1h-1zM29 119h1v1h-1zM38 119h1v1h-1zM79 119h1v1h-1zM85 119h1v1h-1zM90 119h1v1h-1zM97 119h1v1h-1zM99 119h2v1h-2zM34 120h2v1h-2zM50 120h1v1h-1zM53 120h1v1h-1zM79 120h1v1h-1zM83 120h1v1h-1zM92 120h1v1h-1zM34 121h1v1h-1zM61 121h1v1h-1zM83 121h1v1h-1zM85 121h1v1h-1zM88 121h1v1h-1zM90 121h1v1h-1zM93 121h1v1h-1zM99 121h1v1h-1zM27 122h1v1h-1zM62 122h1v1h-1zM80 122h2v1h-2zM84 122h1v1h-1zM86 122h2v1h-2zM92 122h1v1h-1zM98 122h1v1h-1z"/><path fill="#faf6b3" d="M4 0h1v1h-1zM25 0h2v1h-2zM31 0h1v1h-1zM46 0h1v1h-1zM54 0h1v1h-1zM68 0h1v1h-1zM71 0h2v1h-2zM10 1h1v1h-1zM23 1h1v1h-1zM39 1h1v1h-1zM53 1h1v1h-1zM62 1h1v1h-1zM73 1h1v1h-1zM34 2h3v1h-3zM62 2h1v1h-1zM66 2h1v1h-1zM80 2h1v1h-1zM7 3h1v1h-1zM18 3h2v1h-2zM23 3h1v1h-1zM30 3h1v1h-1zM52 3h2v1h-2zM61 3h1v1h-1zM72 3h1v1h-1zM79 3h1v1h-1zM3 4h1v1h-1zM8 4h1v1h-1zM27 4h1v1h-1zM36 4h1v1h-1zM47 4h1v1h-1zM63 4h1v1h-1zM65 4h2v1h-2zM69 4h1v1h-1zM80 4h1v1h-1zM3 5h1v1h-1zM9 5h1v1h-1zM13 5h1v1h-1zM36 5h1v1h-1zM61 5h1v1h-1zM75 5h1v1h-1zM81 5h1v1h-1zM4 6h1v1h-1zM15 6h1v1h-1zM51 6h1v1h-1zM53 6h1v1h-1zM61 6h1v1h-1zM73 6h1v1h-1zM16 7h1v1h-1zM22 7h1v1h-1zM28 7h1v1h-1zM53 7h1v1h-1zM56 7h1v1h-1zM60 7h1v1h-1zM3 8h1v1h-1zM36 8h1v1h-1zM52 8h1v1h-1zM61 8h1v1h-1zM74 8h1v1h-1zM21 9h1v1h-1zM61 9h1v1h-1zM15 10h1v1h-1zM21 10h1v1h-1zM34 10h1v1h-1zM46 10h1v1h-1zM59 10h1v1h-1zM74 10h1v1h-1zM2 11h1v1h-1zM5 11h1v1h-1zM16 11h1v1h-1zM30 11h1v1h-1zM61 11h1v1h-1zM69 11h2v1h-2zM12 12h1v1h-1zM19 12h1v1h-1zM28 12h1v1h-1zM34 12h1v1h-1zM47 12h1v1h-1zM55 12h1v1h-1zM61 12h1v1h-1zM79 12h1v1h-1zM18 13h1v1h-1zM22 13h1v1h-1zM38 13h1v1h-1zM68 13h1v1h-1zM72 13h1v1h-1zM12 14h1v1h-1zM28 14h1v1h-1zM40 14h1v1h-1zM44 14h3v1h-3zM50 14h1v1h-1zM52 14h1v1h-1zM62 14h1v1h-1zM66 14h1v1h-1zM72 14h1v1h-1zM78 14h1v1h-1zM26 15h1v1h-1zM34 15h1v1h-1zM60 15h1v1h-1zM72 15h1v1h-1zM28 16h2v1h-2zM52 16h2v1h-2zM56 16h1v1h-1zM22 17h1v1h-1zM50 17h1v1h-1zM74 17h1v1h-1zM7 18h1v1h-1zM16 18h1v1h-1zM35 18h1v1h-1zM39 18h1v1h-1zM45 18h1v1h-1zM52 18h1v1h-1zM56 18h1v1h-1zM78 18h1v1h-1zM2 19h1v1h-1zM16 19h1v1h-1zM21 19h1v1h-1zM28 19h1v1h-1zM30 19h2v1h-2zM52 19h1v1h-1zM62 19h1v1h-1zM66 19h1v1h-1zM75 19h1v1h-1zM81 19h1v1h-1zM4 20h1v1h-1zM11 20h1v1h-1zM18 20h1v1h-1zM20 20h1v1h-1zM37 20h1v1h-1zM46 20h2v1h-2zM56 20h1v1h-1zM58 20h1v1h-1zM63 20h1v1h-1zM81 20h1v1h-1zM12 21h1v1h-1zM15 21h1v1h-1zM35 21h1v1h-1zM50 21h1v1h-1zM70 21h1v1h-1zM21 22h1v1h-1zM74 22h2v1h-2zM89 22h1v1h-1zM7 23h1v1h-1zM18 23h1v1h-1zM29 23h1v1h-1zM32 23h1v1h-1zM39 23h1v1h-1zM44 23h1v1h-1zM46 23h1v1h-1zM52 23h1v1h-1zM69 23h1v1h-1zM10 24h1v1h-1zM16 24h1v1h-1zM19 24h1v1h-1zM33 24h1v1h-1zM38 24h1v1h-1zM40 24h1v1h-1zM80 24h1v1h-1zM3 25h1v1h-1zM9 25h1v1h-1zM16 25h1v1h-1zM18 25h2v1h-2zM34 25h2v1h-2zM39 25h1v1h-1zM45 25h1v1h-1zM66 25h1v1h-1zM4 26h1v1h-1zM12 26h1v1h-1zM15 26h1v1h-1zM17 26h1v1h-1zM21 26h3v1h-3zM28 26h1v1h-1zM65 26h1v1h-1zM13 27h1v1h-1zM16 27h1v1h-1zM26 27h1v1h-1zM34 27h1v1h-1zM36 27h1v1h-1zM11 28h1v1h-1zM39 28h1v1h-1zM51 28h2v1h-2zM55 28h1v1h-1zM66 28h1v1h-1zM69 28h1v1h-1zM7 29h1v1h-1zM16 29h1v1h-1zM50 29h1v1h-1zM53 29h1v1h-1zM72 29h1v1h-1zM74 29h1v1h-1zM2 30h2v1h-2zM16 30h1v1h-1zM19 30h1v1h-1zM30 30h1v1h-1zM36 30h1v1h-1zM49 30h1v1h-1zM69 30h1v1h-1zM73 30h1v1h-1zM7 31h1v1h-1zM21 31h1v1h-1zM34 31h1v1h-1zM50 31h1v1h-1zM74 31h1v1h-1zM4 32h1v1h-1zM10 32h1v1h-1zM23 32h1v1h-1zM31 32h1v1h-1zM38 32h1v1h-1zM55 32h1v1h-1zM69 32h1v1h-1zM74 32h1v1h-1zM78 32h1v1h-1zM20 33h1v1h-1zM25 33h1v1h-1zM30 33h1v1h-1zM34 33h1v1h-1zM56 33h1v1h-1zM73 33h1v1h-1zM6 34h1v1h-1zM15 34h1v1h-1zM19 34h1v1h-1zM28 34h1v1h-1zM30 34h2v1h-2zM53 34h1v1h-1zM59 34h1v1h-1zM82 34h1v1h-1zM18 35h2v1h-2zM21 35h1v1h-1zM45 35h1v1h-1zM62 35h1v1h-1zM70 35h2v1h-2zM3 36h1v1h-1zM11 36h1v1h-1zM13 36h1v1h-1zM17 36h1v1h-1zM25 36h1v1h-1zM31 36h1v1h-1zM21 37h1v1h-1zM33 37h2v1h-2zM64 37h1v1h-1zM11 38h1v1h-1zM17 38h1v1h-1zM32 38h1v1h-1zM38 38h1v1h-1zM54 38h1v1h-1zM66 38h1v1h-1zM80 38h1v1h-1zM9 39h1v1h-1zM11 39h1v1h-1zM22 39h1v1h-1zM32 39h1v1h-1zM38 39h1v1h-1zM45 39h2v1h-2zM52 39h1v1h-1zM55 39h1v1h-1zM72 39h1v1h-1zM83 39h1v1h-1zM22 40h1v1h-1zM27 40h1v1h-1zM50 40h1v1h-1zM58 40h1v1h-1zM62 40h1v1h-1zM66 40h1v1h-1zM73 40h1v1h-1zM79 40h2v1h-2zM11 41h1v1h-1zM27 41h1v1h-1zM32 41h1v1h-1zM63 41h1v1h-1zM76 41h1v1h-1zM2 42h1v1h-1zM4 42h1v1h-1zM12 42h1v1h-1zM21 42h1v1h-1zM43 42h1v1h-1zM45 42h1v1h-1zM55 42h1v1h-1zM58 42h1v1h-1zM79 42h1v1h-1zM81 42h1v1h-1zM4 43h1v1h-1zM36 43h1v1h-1zM41 43h1v1h-1zM45 43h1v1h-1zM61 43h1v1h-1zM32 44h1v1h-1zM45 44h2v1h-2zM72 44h2v1h-2zM78 44h1v1h-1zM13 45h1v1h-1zM23 45h1v1h-1zM27 45h1v1h-1zM36 45h2v1h-2zM61 45h1v1h-1zM73 45h1v1h-1zM78 45h1v1h-1zM29 46h1v1h-1zM35 46h1v1h-1zM46 46h1v1h-1zM53 46h1v1h-1zM61 46h1v1h-1zM65 46h1v1h-1zM80 46h1v1h-1zM53 47h1v1h-1zM62 47h1v1h-1zM71 47h1v1h-1zM80 47h1v1h-1zM4 48h1v1h-1zM12 48h1v1h-1zM7 49h1v1h-1zM12 49h1v1h-1zM16 49h1v1h-1zM78 49h1v1h-1zM4 50h1v1h-1zM7 50h1v1h-1zM10 50h1v1h-1zM44 50h1v1h-1zM58 50h1v1h-1zM64 50h1v1h-1zM69 50h1v1h-1zM11 51h1v1h-1zM52 51h1v1h-1zM83 51h1v1h-1zM89 51h1v1h-1zM91 51h1v1h-1zM5 52h1v1h-1zM20 52h1v1h-1zM22 52h1v1h-1zM36 52h1v1h-1zM38 52h1v1h-1zM56 52h1v1h-1zM70 52h1v1h-1zM72 52h1v1h-1zM81 52h1v1h-1zM84 52h1v1h-1zM97 52h1v1h-1zM20 53h1v1h-1zM36 53h1v1h-1zM45 53h1v1h-1zM68 53h1v1h-1zM83 53h1v1h-1zM85 53h1v1h-1zM92 53h1v1h-1zM94 53h1v1h-1zM98 53h3v1h-3zM7 54h1v1h-1zM17 54h1v1h-1zM51 54h1v1h-1zM61 54h1v1h-1zM66 54h1v1h-1zM72 54h1v1h-1zM83 54h1v1h-1zM86 54h2v1h-2zM89 54h1v1h-1zM91 54h1v1h-1zM93 54h2v1h-2zM96 54h1v1h-1zM48 55h1v1h-1zM53 55h1v1h-1zM58 55h1v1h-1zM63 55h1v1h-1zM67 55h1v1h-1zM76 55h1v1h-1zM89 55h1v1h-1zM93 55h2v1h-2zM96 55h2v1h-2zM6 56h1v1h-1zM13 56h1v1h-1zM44 56h1v1h-1zM74 56h1v1h-1zM80 56h1v1h-1zM99 56h1v1h-1zM34 57h1v1h-1zM48 57h1v1h-1zM61 57h1v1h-1zM80 57h1v1h-1zM87 57h1v1h-1zM89 57h1v1h-1zM91 57h1v1h-1zM94 57h1v1h-1zM96 57h1v1h-1zM98 57h2v1h-2zM101 57h1v1h-1zM19 58h1v1h-1zM27 58h1v1h-1zM58 58h1v1h-1zM61 58h1v1h-1zM78 58h1v1h-1zM81 58h1v1h-1zM88 58h1v1h-1zM90 58h2v1h-2zM94 58h1v1h-1zM101 58h1v1h-1zM7 59h1v1h-1zM13 59h1v1h-1zM34 59h2v1h-2zM38 59h1v1h-1zM50 59h1v1h-1zM61 59h1v1h-1zM85 59h1v1h-1zM87 59h1v1h-1zM80 60h1v1h-1zM96 60h1v1h-1zM5 61h1v1h-1zM16 61h1v1h-1zM24 61h1v1h-1zM47 61h1v1h-1zM79 61h1v1h-1zM97 61h1v1h-1zM100 61h2v1h-2zM15 62h1v1h-1zM41 62h2v1h-2zM48 62h2v1h-2zM69 62h1v1h-1zM87 62h1v1h-1zM89 62h1v1h-1zM91 62h1v1h-1zM40 63h1v1h-1zM55 63h1v1h-1zM60 63h1v1h-1zM80 63h1v1h-1zM89 63h1v1h-1zM98 63h1v1h-1zM8 64h1v1h-1zM22 64h1v1h-1zM34 64h1v1h-1zM47 64h1v1h-1zM51 64h1v1h-1zM54 64h1v1h-1zM67 64h1v1h-1zM70 64h1v1h-1zM75 64h1v1h-1zM88 64h1v1h-1zM101 64h1v1h-1zM16 65h1v1h-1zM33 65h1v1h-1zM50 65h1v1h-1zM53 65h1v1h-1zM61 65h1v1h-1zM72 65h1v1h-1zM79 65h1v1h-1zM96 65h1v1h-1zM100 65h1v1h-1zM8 66h1v1h-1zM44 66h1v1h-1zM49 66h1v1h-1zM72 66h1v1h-1zM79 66h1v1h-1zM89 66h1v1h-1zM94 66h1v1h-1zM9 67h1v1h-1zM35 67h1v1h-1zM38 67h1v1h-1zM71 67h1v1h-1zM80 67h1v1h-1zM83 67h1v1h-1zM85 67h1v1h-1zM87 67h1v1h-1zM89 67h2v1h-2zM93 67h1v1h-1zM51 68h1v1h-1zM74 68h1v1h-1zM81 68h1v1h-1zM87 68h1v1h-1zM90 68h1v1h-1zM95 68h2v1h-2zM9 69h1v1h-1zM74 69h1v1h-1zM79 69h2v1h-2zM84 69h2v1h-2zM88 69h1v1h-1zM91 69h1v1h-1zM99 69h1v1h-1zM4 70h1v1h-1zM11 70h2v1h-2zM38 70h1v1h-1zM41 70h1v1h-1zM44 70h1v1h-1zM69 70h2v1h-2zM74 70h1v1h-1zM82 70h1v1h-1zM92 70h1v1h-1zM96 70h1v1h-1zM98 70h1v1h-1zM27 71h1v1h-1zM34 71h1v1h-1zM56 71h1v1h-1zM72 71h1v1h-1zM80 71h2v1h-2zM84 71h1v1h-1zM91 71h1v1h-1zM96 71h4v1h-4zM12 72h1v1h-1zM36 72h1v1h-1zM50 72h1v1h-1zM53 72h1v1h-1zM62 72h1v1h-1zM79 72h1v1h-1zM81 72h1v1h-1zM83 72h1v1h-1zM23 73h1v1h-1zM51 73h1v1h-1zM72 73h1v1h-1zM79 73h1v1h-1zM86 73h1v1h-1zM94 73h1v1h-1zM96 73h1v1h-1zM12 74h1v1h-1zM45 74h1v1h-1zM49 74h1v1h-1zM66 74h1v1h-1zM80 74h1v1h-1zM85 74h1v1h-1zM88 74h1v1h-1zM93 74h1v1h-1zM95 74h1v1h-1zM99 74h1v1h-1zM101 74h1v1h-1zM19 75h1v1h-1zM83 75h1v1h-1zM87 75h1v1h-1zM93 75h1v1h-1zM3 76h2v1h-2zM36 76h1v1h-1zM38 76h1v1h-1zM53 76h1v1h-1zM59 76h1v1h-1zM62 76h1v1h-1zM66 76h1v1h-1zM90 76h1v1h-1zM93 76h1v1h-1zM50 77h1v1h-1zM60 77h2v1h-2zM63 77h1v1h-1zM67 77h1v1h-1zM78 77h1v1h-1zM80 77h1v1h-1zM87 77h1v1h-1zM95 77h1v1h-1zM100 77h1v1h-1zM18 78h1v1h-1zM29 78h1v1h-1zM86 78h1v1h-1zM97 78h1v1h-1zM99 78h1v1h-1zM49 79h1v1h-1zM56 79h1v1h-1zM83 79h1v1h-1zM23 80h1v1h-1zM56 80h1v1h-1zM62 80h1v1h-1zM88 80h1v1h-1zM94 80h1v1h-1zM101 80h1v1h-1zM35 81h1v1h-1zM52 81h2v1h-2zM61 81h3v1h-3zM69 81h1v1h-1zM87 81h1v1h-1zM92 81h1v1h-1zM97 81h1v1h-1zM5 82h1v1h-1zM23 82h1v1h-1zM29 82h2v1h-2zM52 82h1v1h-1zM66 82h1v1h-1zM74 82h2v1h-2zM79 82h1v1h-1zM84 82h1v1h-1zM87 82h2v1h-2zM92 82h1v1h-1zM97 82h1v1h-1zM101 82h1v1h-1zM27 83h1v1h-1zM53 83h1v1h-1zM68 83h1v1h-1zM72 83h1v1h-1zM79 83h1v1h-1zM84 83h1v1h-1zM86 83h1v1h-1zM89 83h1v1h-1zM95 83h1v1h-1zM101 83h1v1h-1zM13 84h1v1h-1zM17 84h1v1h-1zM28 84h1v1h-1zM30 84h1v1h-1zM38 84h1v1h-1zM46 84h1v1h-1zM51 84h2v1h-2zM62 84h1v1h-1zM72 84h1v1h-1zM84 84h1v1h-1zM93 84h1v1h-1zM101 84h1v1h-1zM19 85h1v1h-1zM29 85h1v1h-1zM38 85h1v1h-1zM56 85h1v1h-1zM62 85h2v1h-2zM78 85h1v1h-1zM81 85h1v1h-1zM88 85h1v1h-1zM97 85h1v1h-1zM101 85h1v1h-1zM4 86h2v1h-2zM38 86h1v1h-1zM42 86h1v1h-1zM44 86h1v1h-1zM52 86h1v1h-1zM62 86h1v1h-1zM92 86h3v1h-3zM46 87h1v1h-1zM51 87h1v1h-1zM54 87h1v1h-1zM61 87h1v1h-1zM69 87h2v1h-2zM87 87h1v1h-1zM83 88h1v1h-1zM89 88h1v1h-1zM93 88h1v1h-1zM97 88h1v1h-1zM6 89h1v1h-1zM20 89h1v1h-1zM22 89h1v1h-1zM26 89h1v1h-1zM34 89h1v1h-1zM47 89h1v1h-1zM67 89h1v1h-1zM72 89h2v1h-2zM79 89h1v1h-1zM95 89h2v1h-2zM101 89h1v1h-1zM4 90h1v1h-1zM28 90h1v1h-1zM62 90h2v1h-2zM96 90h1v1h-1zM99 90h2v1h-2zM38 91h1v1h-1zM40 91h1v1h-1zM42 91h1v1h-1zM45 91h1v1h-1zM53 91h1v1h-1zM61 91h1v1h-1zM73 91h1v1h-1zM75 91h1v1h-1zM82 91h1v1h-1zM90 91h1v1h-1zM94 91h1v1h-1zM6 92h1v1h-1zM33 92h1v1h-1zM85 92h1v1h-1zM91 92h1v1h-1zM25 93h1v1h-1zM30 93h1v1h-1zM46 93h1v1h-1zM53 93h1v1h-1zM56 93h1v1h-1zM62 93h1v1h-1zM66 93h1v1h-1zM70 93h1v1h-1zM72 93h1v1h-1zM89 93h2v1h-2zM100 93h1v1h-1zM30 94h1v1h-1zM33 94h1v1h-1zM36 94h1v1h-1zM45 94h1v1h-1zM49 94h1v1h-1zM61 94h2v1h-2zM81 94h1v1h-1zM85 94h1v1h-1zM87 94h1v1h-1zM99 94h1v1h-1zM101 94h1v1h-1zM8 95h1v1h-1zM66 95h1v1h-1zM74 95h1v1h-1zM79 95h1v1h-1zM86 95h1v1h-1zM89 95h1v1h-1zM16 96h1v1h-1zM28 96h1v1h-1zM41 96h1v1h-1zM49 96h1v1h-1zM52 96h1v1h-1zM69 96h1v1h-1zM79 96h1v1h-1zM83 96h1v1h-1zM12 97h2v1h-2zM24 97h1v1h-1zM26 97h1v1h-1zM52 97h1v1h-1zM61 97h1v1h-1zM84 97h1v1h-1zM92 97h1v1h-1zM101 97h1v1h-1zM20 98h2v1h-2zM38 98h1v1h-1zM51 98h2v1h-2zM69 98h1v1h-1zM73 98h1v1h-1zM76 98h1v1h-1zM80 98h1v1h-1zM84 98h1v1h-1zM91 98h1v1h-1zM95 98h1v1h-1zM101 98h1v1h-1zM22 99h1v1h-1zM30 99h1v1h-1zM46 99h1v1h-1zM73 99h1v1h-1zM75 99h1v1h-1zM93 99h1v1h-1zM97 99h1v1h-1zM100 99h1v1h-1zM23 100h1v1h-1zM35 100h1v1h-1zM38 100h1v1h-1zM46 100h1v1h-1zM53 100h1v1h-1zM81 100h1v1h-1zM84 100h2v1h-2zM88 100h1v1h-1zM90 100h1v1h-1zM4 101h1v1h-1zM32 101h1v1h-1zM52 101h1v1h-1zM63 101h1v1h-1zM72 101h1v1h-1zM83 101h1v1h-1zM85 101h1v1h-1zM88 101h1v1h-1zM94 101h1v1h-1zM29 102h1v1h-1zM45 102h1v1h-1zM52 102h1v1h-1zM71 102h1v1h-1zM73 102h2v1h-2zM83 102h3v1h-3zM91 102h1v1h-1zM93 102h2v1h-2zM4 103h1v1h-1zM21 103h1v1h-1zM23 103h1v1h-1zM32 103h1v1h-1zM68 103h1v1h-1zM79 103h1v1h-1zM85 103h1v1h-1zM96 103h1v1h-1zM10 104h1v1h-1zM22 104h2v1h-2zM27 104h1v1h-1zM30 104h1v1h-1zM52 104h1v1h-1zM61 104h1v1h-1zM73 104h1v1h-1zM92 104h1v1h-1zM95 104h1v1h-1zM98 104h1v1h-1zM12 105h2v1h-2zM26 105h1v1h-1zM28 105h1v1h-1zM79 105h1v1h-1zM86 105h2v1h-2zM96 105h1v1h-1zM100 105h1v1h-1zM5 106h1v1h-1zM22 106h1v1h-1zM53 106h2v1h-2zM58 106h1v1h-1zM62 106h1v1h-1zM84 106h1v1h-1zM87 106h1v1h-1zM90 106h1v1h-1zM96 106h1v1h-1zM98 106h2v1h-2zM21 107h3v1h-3zM30 107h1v1h-1zM36 107h1v1h-1zM38 107h1v1h-1zM50 107h1v1h-1zM62 107h1v1h-1zM76 107h1v1h-1zM84 107h1v1h-1zM88 107h1v1h-1zM90 107h1v1h-1zM94 107h4v1h-4zM28 108h1v1h-1zM84 108h1v1h-1zM86 108h1v1h-1zM91 108h1v1h-1zM98 108h1v1h-1zM100 108h1v1h-1zM30 109h1v1h-1zM35 109h1v1h-1zM39 109h1v1h-1zM52 109h1v1h-1zM55 109h1v1h-1zM60 109h1v1h-1zM70 109h1v1h-1zM73 109h1v1h-1zM91 109h1v1h-1zM99 109h2v1h-2zM21 110h1v1h-1zM27 110h1v1h-1zM49 110h2v1h-2zM52 110h1v1h-1zM68 110h1v1h-1zM99 110h1v1h-1zM5 111h1v1h-1zM72 111h1v1h-1zM81 111h1v1h-1zM83 111h1v1h-1zM86 111h1v1h-1zM6 112h1v1h-1zM34 112h1v1h-1zM46 112h1v1h-1zM49 112h1v1h-1zM52 112h1v1h-1zM61 112h1v1h-1zM80 112h1v1h-1zM88 112h1v1h-1zM28 113h1v1h-1zM44 113h1v1h-1zM57 113h1v1h-1zM71 113h3v1h-3zM78 113h1v1h-1zM82 113h1v1h-1zM88 113h1v1h-1zM93 113h1v1h-1zM99 113h1v1h-1zM4 114h1v1h-1zM39 114h2v1h-2zM62 114h1v1h-1zM70 114h1v1h-1zM83 114h1v1h-1zM85 114h2v1h-2zM92 114h1v1h-1zM100 114h1v1h-1zM49 115h2v1h-2zM61 115h1v1h-1zM68 115h1v1h-1zM86 115h1v1h-1zM91 115h1v1h-1zM96 115h1v1h-1zM99 115h2v1h-2zM22 116h1v1h-1zM24 116h1v1h-1zM27 116h1v1h-1zM56 116h1v1h-1zM70 116h1v1h-1zM79 116h1v1h-1zM84 116h2v1h-2zM89 116h2v1h-2zM92 116h2v1h-2zM5 117h1v1h-1zM23 117h1v1h-1zM31 117h1v1h-1zM36 117h1v1h-1zM50 117h1v1h-1zM63 117h1v1h-1zM70 117h1v1h-1zM73 117h1v1h-1zM81 117h1v1h-1zM84 117h1v1h-1zM5 118h1v1h-1zM30 118h1v1h-1zM46 118h1v1h-1zM51 118h1v1h-1zM72 118h1v1h-1zM84 118h1v1h-1zM87 118h1v1h-1zM92 118h1v1h-1zM94 118h1v1h-1zM32 119h1v1h-1zM41 119h1v1h-1zM51 119h1v1h-1zM91 119h1v1h-1zM94 119h2v1h-2zM101 119h1v1h-1zM19 120h1v1h-1zM39 120h1v1h-1zM41 120h1v1h-1zM52 120h1v1h-1zM68 120h1v1h-1zM70 120h3v1h-3zM75 120h1v1h-1zM91 120h1v1h-1zM96 120h1v1h-1zM98 120h2v1h-2zM101 120h1v1h-1zM4 121h1v1h-1zM11 121h1v1h-1zM23 121h1v1h-1zM33 121h1v1h-1zM45 121h1v1h-1zM79 121h2v1h-2zM87 121h1v1h-1zM91 121h1v1h-1zM95 121h1v1h-1zM98 121h1v1h-1zM7 122h1v1h-1zM39 122h1v1h-1zM42 122h1v1h-1zM64 122h1v1h-1zM66 122h1v1h-1zM79 122h1v1h-1zM82 122h2v1h-2zM91 122h1v1h-1z"/><path fill="#f9f3af" d="M9 0h1v1h-1zM13 0h1v1h-1zM38 0h1v1h-1zM48 0h1v1h-1zM50 0h1v1h-1zM53 0h1v1h-1zM58 0h1v1h-1zM62 0h1v1h-1zM66 0h2v1h-2zM73 0h1v1h-1zM95 0h1v1h-1zM1 1h1v1h-1zM3 1h1v1h-1zM7 1h1v1h-1zM11 1h1v1h-1zM38 1h1v1h-1zM41 1h1v1h-1zM48 1h1v1h-1zM58 1h2v1h-2zM64 1h1v1h-1zM68 1h1v1h-1zM72 1h1v1h-1zM80 1h1v1h-1zM97 1h1v1h-1zM9 2h1v1h-1zM20 2h1v1h-1zM24 2h1v1h-1zM44 2h1v1h-1zM74 2h1v1h-1zM79 2h1v1h-1zM87 2h1v1h-1zM3 3h1v1h-1zM35 3h2v1h-2zM38 3h1v1h-1zM70 3h1v1h-1zM75 3h1v1h-1zM9 4h1v1h-1zM21 4h3v1h-3zM45 4h2v1h-2zM51 4h2v1h-2zM54 4h3v1h-3zM60 4h1v1h-1zM64 4h1v1h-1zM75 4h1v1h-1zM12 5h1v1h-1zM19 5h1v1h-1zM22 5h1v1h-1zM27 5h1v1h-1zM31 5h1v1h-1zM46 5h1v1h-1zM55 5h1v1h-1zM58 5h1v1h-1zM60 5h1v1h-1zM66 5h1v1h-1zM69 5h1v1h-1zM78 5h1v1h-1zM1 6h1v1h-1zM3 6h1v1h-1zM17 6h1v1h-1zM26 6h1v1h-1zM31 6h1v1h-1zM33 6h1v1h-1zM35 6h1v1h-1zM39 6h1v1h-1zM44 6h1v1h-1zM59 6h1v1h-1zM65 6h1v1h-1zM69 6h1v1h-1zM72 6h1v1h-1zM74 6h2v1h-2zM78 6h1v1h-1zM11 7h1v1h-1zM27 7h1v1h-1zM36 7h1v1h-1zM68 7h3v1h-3zM2 8h1v1h-1zM7 8h1v1h-1zM12 8h1v1h-1zM19 8h1v1h-1zM21 8h1v1h-1zM30 8h2v1h-2zM44 8h1v1h-1zM50 8h1v1h-1zM62 8h1v1h-1zM72 8h1v1h-1zM82 8h1v1h-1zM2 9h2v1h-2zM13 9h1v1h-1zM18 9h1v1h-1zM24 9h1v1h-1zM31 9h1v1h-1zM33 9h1v1h-1zM36 9h1v1h-1zM57 9h1v1h-1zM59 9h1v1h-1zM68 9h1v1h-1zM70 9h1v1h-1zM72 9h1v1h-1zM79 9h1v1h-1zM3 10h1v1h-1zM16 10h1v1h-1zM19 10h2v1h-2zM22 10h1v1h-1zM25 10h1v1h-1zM33 10h1v1h-1zM38 10h1v1h-1zM45 10h1v1h-1zM49 10h2v1h-2zM66 10h1v1h-1zM69 10h1v1h-1zM72 10h1v1h-1zM78 10h1v1h-1zM80 10h1v1h-1zM82 10h1v1h-1zM50 11h1v1h-1zM62 11h1v1h-1zM65 11h1v1h-1zM68 11h1v1h-1zM72 11h3v1h-3zM5 12h1v1h-1zM18 12h1v1h-1zM20 12h1v1h-1zM26 12h1v1h-1zM38 12h2v1h-2zM54 12h1v1h-1zM56 12h1v1h-1zM74 12h1v1h-1zM80 12h1v1h-1zM2 13h2v1h-2zM12 13h1v1h-1zM19 13h2v1h-2zM32 13h1v1h-1zM39 13h1v1h-1zM52 13h1v1h-1zM61 13h1v1h-1zM64 13h1v1h-1zM70 13h2v1h-2zM78 13h1v1h-1zM81 13h1v1h-1zM3 14h2v1h-2zM15 14h1v1h-1zM21 14h1v1h-1zM23 14h1v1h-1zM29 14h1v1h-1zM36 14h1v1h-1zM41 14h1v1h-1zM47 14h1v1h-1zM49 14h1v1h-1zM58 14h1v1h-1zM70 14h1v1h-1zM12 15h1v1h-1zM27 15h2v1h-2zM30 15h1v1h-1zM80 15h1v1h-1zM82 15h1v1h-1zM17 16h1v1h-1zM25 16h1v1h-1zM30 16h1v1h-1zM49 16h1v1h-1zM68 16h1v1h-1zM73 16h1v1h-1zM79 16h1v1h-1zM11 17h2v1h-2zM17 17h1v1h-1zM33 17h1v1h-1zM39 17h1v1h-1zM52 17h1v1h-1zM59 17h1v1h-1zM72 17h1v1h-1zM80 17h1v1h-1zM82 17h1v1h-1zM4 18h2v1h-2zM9 18h1v1h-1zM20 18h1v1h-1zM22 18h1v1h-1zM31 18h1v1h-1zM37 18h1v1h-1zM59 18h1v1h-1zM68 18h3v1h-3zM75 18h1v1h-1zM13 19h1v1h-1zM33 19h1v1h-1zM39 19h1v1h-1zM44 19h1v1h-1zM48 19h1v1h-1zM51 19h1v1h-1zM56 19h1v1h-1zM68 19h1v1h-1zM74 19h1v1h-1zM7 20h1v1h-1zM16 20h1v1h-1zM19 20h1v1h-1zM44 20h2v1h-2zM49 20h1v1h-1zM65 20h1v1h-1zM69 20h1v1h-1zM72 20h2v1h-2zM76 20h1v1h-1zM2 21h1v1h-1zM4 21h1v1h-1zM6 21h1v1h-1zM17 21h1v1h-1zM20 21h3v1h-3zM25 21h1v1h-1zM34 21h1v1h-1zM36 21h1v1h-1zM38 21h1v1h-1zM42 21h1v1h-1zM47 21h1v1h-1zM49 21h1v1h-1zM51 21h1v1h-1zM53 21h1v1h-1zM57 21h2v1h-2zM2 22h1v1h-1zM8 22h1v1h-1zM12 22h2v1h-2zM18 22h1v1h-1zM20 22h1v1h-1zM38 22h1v1h-1zM44 22h1v1h-1zM46 22h1v1h-1zM53 22h1v1h-1zM63 22h1v1h-1zM10 23h1v1h-1zM20 23h1v1h-1zM30 23h1v1h-1zM38 23h1v1h-1zM45 23h1v1h-1zM49 23h1v1h-1zM73 23h1v1h-1zM3 24h1v1h-1zM8 24h1v1h-1zM18 24h1v1h-1zM20 24h1v1h-1zM27 24h1v1h-1zM31 24h1v1h-1zM48 24h1v1h-1zM69 24h2v1h-2zM13 25h1v1h-1zM17 25h1v1h-1zM21 25h1v1h-1zM37 25h2v1h-2zM47 25h1v1h-1zM74 25h1v1h-1zM80 25h1v1h-1zM30 26h1v1h-1zM32 26h1v1h-1zM37 26h1v1h-1zM49 26h1v1h-1zM52 26h1v1h-1zM59 26h1v1h-1zM64 26h1v1h-1zM72 26h1v1h-1zM79 26h1v1h-1zM1 27h2v1h-2zM4 27h2v1h-2zM11 27h1v1h-1zM23 27h1v1h-1zM37 27h1v1h-1zM46 27h1v1h-1zM66 27h1v1h-1zM69 27h1v1h-1zM72 27h1v1h-1zM81 27h1v1h-1zM3 28h3v1h-3zM7 28h1v1h-1zM12 28h1v1h-1zM27 28h1v1h-1zM29 28h2v1h-2zM38 28h1v1h-1zM46 28h1v1h-1zM50 28h1v1h-1zM53 28h1v1h-1zM63 28h1v1h-1zM68 28h1v1h-1zM78 28h1v1h-1zM95 28h1v1h-1zM12 29h2v1h-2zM36 29h1v1h-1zM39 29h2v1h-2zM44 29h1v1h-1zM46 29h1v1h-1zM52 29h1v1h-1zM58 29h1v1h-1zM63 29h1v1h-1zM75 29h1v1h-1zM12 30h1v1h-1zM22 30h1v1h-1zM24 30h1v1h-1zM28 30h2v1h-2zM31 30h1v1h-1zM33 30h3v1h-3zM38 30h1v1h-1zM53 30h1v1h-1zM64 30h1v1h-1zM66 30h1v1h-1zM68 30h1v1h-1zM70 30h1v1h-1zM2 31h1v1h-1zM11 31h1v1h-1zM18 31h2v1h-2zM29 31h2v1h-2zM36 31h1v1h-1zM64 31h1v1h-1zM90 31h1v1h-1zM7 32h2v1h-2zM18 32h1v1h-1zM25 32h1v1h-1zM34 32h1v1h-1zM42 32h1v1h-1zM53 32h1v1h-1zM56 32h1v1h-1zM67 32h1v1h-1zM0 33h1v1h-1zM3 33h2v1h-2zM7 33h2v1h-2zM24 33h1v1h-1zM36 33h1v1h-1zM38 33h1v1h-1zM40 33h1v1h-1zM42 33h1v1h-1zM53 33h1v1h-1zM66 33h1v1h-1zM70 33h1v1h-1zM79 33h1v1h-1zM2 34h1v1h-1zM8 34h1v1h-1zM10 34h1v1h-1zM13 34h1v1h-1zM20 34h2v1h-2zM26 34h2v1h-2zM45 34h1v1h-1zM47 34h1v1h-1zM49 34h1v1h-1zM62 34h1v1h-1zM66 34h1v1h-1zM4 35h1v1h-1zM7 35h1v1h-1zM17 35h1v1h-1zM27 35h1v1h-1zM32 35h2v1h-2zM46 35h1v1h-1zM53 35h1v1h-1zM56 35h1v1h-1zM61 35h1v1h-1zM65 35h1v1h-1zM69 35h1v1h-1zM15 36h1v1h-1zM36 36h2v1h-2zM39 36h1v1h-1zM41 36h1v1h-1zM46 36h1v1h-1zM78 36h2v1h-2zM17 37h1v1h-1zM20 37h1v1h-1zM26 37h1v1h-1zM60 37h1v1h-1zM81 37h1v1h-1zM2 38h1v1h-1zM5 38h1v1h-1zM7 38h1v1h-1zM25 38h1v1h-1zM29 38h1v1h-1zM36 38h1v1h-1zM40 38h1v1h-1zM43 38h1v1h-1zM56 38h1v1h-1zM68 38h1v1h-1zM71 38h1v1h-1zM18 39h1v1h-1zM20 39h1v1h-1zM28 39h1v1h-1zM44 39h1v1h-1zM49 39h1v1h-1zM51 39h1v1h-1zM58 39h1v1h-1zM66 39h1v1h-1zM68 39h1v1h-1zM73 39h1v1h-1zM77 39h1v1h-1zM23 40h1v1h-1zM30 40h1v1h-1zM36 40h1v1h-1zM45 40h2v1h-2zM53 40h1v1h-1zM72 40h1v1h-1zM74 40h1v1h-1zM1 41h1v1h-1zM9 41h1v1h-1zM21 41h1v1h-1zM28 41h1v1h-1zM31 41h1v1h-1zM42 41h1v1h-1zM61 41h1v1h-1zM65 41h1v1h-1zM68 41h1v1h-1zM71 41h1v1h-1zM75 41h1v1h-1zM81 41h2v1h-2zM7 42h1v1h-1zM11 42h1v1h-1zM18 42h1v1h-1zM22 42h1v1h-1zM38 42h1v1h-1zM41 42h1v1h-1zM49 42h2v1h-2zM60 42h2v1h-2zM67 42h1v1h-1zM69 42h1v1h-1zM72 42h1v1h-1zM44 43h1v1h-1zM50 43h2v1h-2zM59 43h1v1h-1zM63 43h1v1h-1zM73 43h1v1h-1zM7 44h1v1h-1zM10 44h1v1h-1zM13 44h1v1h-1zM20 44h1v1h-1zM26 44h1v1h-1zM28 44h1v1h-1zM54 44h1v1h-1zM69 44h1v1h-1zM3 45h1v1h-1zM5 45h1v1h-1zM15 45h1v1h-1zM21 45h2v1h-2zM41 45h1v1h-1zM44 45h2v1h-2zM50 45h1v1h-1zM60 45h1v1h-1zM75 45h1v1h-1zM80 45h1v1h-1zM13 46h1v1h-1zM22 46h1v1h-1zM47 46h1v1h-1zM52 46h1v1h-1zM59 46h1v1h-1zM20 47h1v1h-1zM23 47h1v1h-1zM27 47h1v1h-1zM72 47h1v1h-1zM27 48h1v1h-1zM33 48h1v1h-1zM36 48h1v1h-1zM61 48h1v1h-1zM68 48h2v1h-2zM73 48h1v1h-1zM78 48h1v1h-1zM13 49h1v1h-1zM33 49h1v1h-1zM61 49h1v1h-1zM74 49h1v1h-1zM79 49h2v1h-2zM17 50h1v1h-1zM26 50h1v1h-1zM39 50h1v1h-1zM63 50h1v1h-1zM15 51h2v1h-2zM38 51h1v1h-1zM50 51h1v1h-1zM63 51h1v1h-1zM66 51h1v1h-1zM68 51h1v1h-1zM72 51h1v1h-1zM80 51h1v1h-1zM93 51h1v1h-1zM3 52h1v1h-1zM13 52h1v1h-1zM27 52h1v1h-1zM34 52h1v1h-1zM40 52h1v1h-1zM65 52h1v1h-1zM71 52h1v1h-1zM74 52h1v1h-1zM5 53h1v1h-1zM55 53h1v1h-1zM69 53h1v1h-1zM74 53h1v1h-1zM77 53h1v1h-1zM81 53h1v1h-1zM97 53h1v1h-1zM3 54h1v1h-1zM5 54h1v1h-1zM11 54h1v1h-1zM22 54h1v1h-1zM46 54h1v1h-1zM63 54h1v1h-1zM69 54h2v1h-2zM78 54h1v1h-1zM92 54h1v1h-1zM14 55h1v1h-1zM20 55h1v1h-1zM25 55h1v1h-1zM30 55h1v1h-1zM49 55h2v1h-2zM62 55h1v1h-1zM72 55h1v1h-1zM99 55h1v1h-1zM3 56h1v1h-1zM18 56h1v1h-1zM40 56h1v1h-1zM45 56h1v1h-1zM48 56h1v1h-1zM64 56h1v1h-1zM91 56h1v1h-1zM22 57h1v1h-1zM27 57h1v1h-1zM36 57h1v1h-1zM49 57h1v1h-1zM66 57h1v1h-1zM86 57h1v1h-1zM33 58h1v1h-1zM44 58h1v1h-1zM53 58h1v1h-1zM55 58h1v1h-1zM79 58h1v1h-1zM89 58h1v1h-1zM5 59h1v1h-1zM18 59h1v1h-1zM32 59h1v1h-1zM70 59h1v1h-1zM81 59h1v1h-1zM96 59h1v1h-1zM18 60h1v1h-1zM32 60h1v1h-1zM44 60h1v1h-1zM54 60h1v1h-1zM70 60h2v1h-2zM81 60h1v1h-1zM7 61h1v1h-1zM11 61h1v1h-1zM15 61h1v1h-1zM18 61h1v1h-1zM22 61h1v1h-1zM25 61h1v1h-1zM28 61h1v1h-1zM34 61h1v1h-1zM53 61h1v1h-1zM61 61h1v1h-1zM71 61h1v1h-1zM73 61h1v1h-1zM83 61h1v1h-1zM87 61h1v1h-1zM6 62h1v1h-1zM30 62h1v1h-1zM45 62h1v1h-1zM66 62h1v1h-1zM70 62h1v1h-1zM72 62h1v1h-1zM11 63h1v1h-1zM27 63h1v1h-1zM35 63h1v1h-1zM41 63h1v1h-1zM49 63h1v1h-1zM53 63h1v1h-1zM62 63h1v1h-1zM72 63h1v1h-1zM94 63h1v1h-1zM4 64h1v1h-1zM17 64h1v1h-1zM38 64h1v1h-1zM42 64h1v1h-1zM49 64h1v1h-1zM62 64h1v1h-1zM81 64h1v1h-1zM34 65h1v1h-1zM51 65h1v1h-1zM60 65h1v1h-1zM62 65h3v1h-3zM71 65h1v1h-1zM77 65h2v1h-2zM80 65h1v1h-1zM86 65h1v1h-1zM95 65h1v1h-1zM101 65h1v1h-1zM17 66h1v1h-1zM39 66h1v1h-1zM43 66h1v1h-1zM50 66h1v1h-1zM56 66h1v1h-1zM74 66h1v1h-1zM80 66h1v1h-1zM93 66h1v1h-1zM95 66h1v1h-1zM11 67h1v1h-1zM24 67h1v1h-1zM41 67h2v1h-2zM52 67h1v1h-1zM56 67h1v1h-1zM61 67h1v1h-1zM81 67h1v1h-1zM11 68h1v1h-1zM18 68h1v1h-1zM21 68h3v1h-3zM38 68h1v1h-1zM40 68h1v1h-1zM45 68h1v1h-1zM50 68h1v1h-1zM53 68h1v1h-1zM59 68h2v1h-2zM73 68h1v1h-1zM79 68h1v1h-1zM3 69h1v1h-1zM7 69h1v1h-1zM28 69h1v1h-1zM31 69h1v1h-1zM44 69h1v1h-1zM46 69h1v1h-1zM68 69h1v1h-1zM73 69h1v1h-1zM100 69h1v1h-1zM5 70h1v1h-1zM19 70h1v1h-1zM30 70h1v1h-1zM36 70h1v1h-1zM56 70h1v1h-1zM63 70h1v1h-1zM72 70h1v1h-1zM89 70h1v1h-1zM8 71h1v1h-1zM24 71h1v1h-1zM33 71h1v1h-1zM43 71h1v1h-1zM53 71h1v1h-1zM58 71h1v1h-1zM74 71h1v1h-1zM88 71h1v1h-1zM101 71h1v1h-1zM22 72h1v1h-1zM32 72h1v1h-1zM54 72h2v1h-2zM63 72h1v1h-1zM68 72h1v1h-1zM98 72h1v1h-1zM4 73h1v1h-1zM27 73h2v1h-2zM39 73h1v1h-1zM58 73h1v1h-1zM97 73h1v1h-1zM56 74h1v1h-1zM61 74h1v1h-1zM73 74h1v1h-1zM4 75h1v1h-1zM6 75h1v1h-1zM50 75h2v1h-2zM59 75h1v1h-1zM66 75h1v1h-1zM74 75h1v1h-1zM80 75h1v1h-1zM100 75h1v1h-1zM43 76h1v1h-1zM45 76h1v1h-1zM49 76h1v1h-1zM72 76h1v1h-1zM79 76h1v1h-1zM99 76h1v1h-1zM3 77h1v1h-1zM29 77h1v1h-1zM39 77h1v1h-1zM49 77h1v1h-1zM52 77h1v1h-1zM55 77h1v1h-1zM57 77h1v1h-1zM68 77h1v1h-1zM71 77h1v1h-1zM73 77h1v1h-1zM79 77h1v1h-1zM81 77h1v1h-1zM10 78h1v1h-1zM12 78h1v1h-1zM36 78h1v1h-1zM49 78h2v1h-2zM62 78h2v1h-2zM70 78h1v1h-1zM73 78h1v1h-1zM82 78h1v1h-1zM96 78h1v1h-1zM100 78h1v1h-1zM8 79h2v1h-2zM24 79h1v1h-1zM28 79h1v1h-1zM53 79h1v1h-1zM62 79h1v1h-1zM74 79h1v1h-1zM10 80h1v1h-1zM20 80h1v1h-1zM28 80h1v1h-1zM36 80h1v1h-1zM52 80h1v1h-1zM55 80h1v1h-1zM73 80h1v1h-1zM76 80h1v1h-1zM79 80h1v1h-1zM90 80h1v1h-1zM93 80h1v1h-1zM97 80h1v1h-1zM13 81h1v1h-1zM26 81h2v1h-2zM37 81h1v1h-1zM40 81h1v1h-1zM56 81h1v1h-1zM72 81h1v1h-1zM80 81h1v1h-1zM82 81h2v1h-2zM95 81h1v1h-1zM20 82h1v1h-1zM22 82h1v1h-1zM39 82h1v1h-1zM46 82h2v1h-2zM60 82h1v1h-1zM69 82h1v1h-1zM72 82h1v1h-1zM11 83h1v1h-1zM18 83h1v1h-1zM25 83h1v1h-1zM34 83h1v1h-1zM36 83h1v1h-1zM40 83h1v1h-1zM44 83h1v1h-1zM63 83h1v1h-1zM69 83h1v1h-1zM87 83h1v1h-1zM4 84h1v1h-1zM19 84h1v1h-1zM29 84h1v1h-1zM32 84h1v1h-1zM39 84h1v1h-1zM56 84h1v1h-1zM78 84h1v1h-1zM85 84h2v1h-2zM7 85h1v1h-1zM11 85h2v1h-2zM28 85h1v1h-1zM35 85h1v1h-1zM39 85h1v1h-1zM53 85h1v1h-1zM79 85h1v1h-1zM92 85h1v1h-1zM11 86h1v1h-1zM23 86h1v1h-1zM51 86h1v1h-1zM58 86h1v1h-1zM66 86h2v1h-2zM80 86h1v1h-1zM88 86h1v1h-1zM101 86h1v1h-1zM10 87h2v1h-2zM18 87h1v1h-1zM34 87h1v1h-1zM45 87h1v1h-1zM66 87h1v1h-1zM68 87h1v1h-1zM71 87h1v1h-1zM97 87h1v1h-1zM9 88h1v1h-1zM30 88h1v1h-1zM59 88h1v1h-1zM69 88h1v1h-1zM73 88h1v1h-1zM81 88h1v1h-1zM4 89h1v1h-1zM9 89h1v1h-1zM12 89h1v1h-1zM21 89h1v1h-1zM46 89h1v1h-1zM49 89h1v1h-1zM62 89h1v1h-1zM71 89h1v1h-1zM78 89h1v1h-1zM5 90h1v1h-1zM21 90h1v1h-1zM30 90h1v1h-1zM45 90h1v1h-1zM49 90h1v1h-1zM70 90h1v1h-1zM74 90h1v1h-1zM80 90h1v1h-1zM3 91h1v1h-1zM6 91h1v1h-1zM30 91h1v1h-1zM34 91h1v1h-1zM44 91h1v1h-1zM50 91h1v1h-1zM58 91h1v1h-1zM62 91h1v1h-1zM80 91h1v1h-1zM92 91h1v1h-1zM35 92h1v1h-1zM52 92h2v1h-2zM61 92h3v1h-3zM71 92h1v1h-1zM74 92h2v1h-2zM80 92h1v1h-1zM18 93h1v1h-1zM26 93h1v1h-1zM31 93h2v1h-2zM37 93h1v1h-1zM42 93h1v1h-1zM65 93h1v1h-1zM69 93h1v1h-1zM71 93h1v1h-1zM78 93h3v1h-3zM84 93h1v1h-1zM91 93h1v1h-1zM93 93h1v1h-1zM97 93h1v1h-1zM99 93h1v1h-1zM11 94h1v1h-1zM21 94h1v1h-1zM28 94h1v1h-1zM31 94h2v1h-2zM38 94h2v1h-2zM42 94h1v1h-1zM55 94h1v1h-1zM63 94h1v1h-1zM73 94h1v1h-1zM78 94h1v1h-1zM50 95h1v1h-1zM65 95h1v1h-1zM81 95h1v1h-1zM84 95h1v1h-1zM90 95h2v1h-2zM94 95h2v1h-2zM98 95h1v1h-1zM17 96h1v1h-1zM21 96h1v1h-1zM26 96h1v1h-1zM57 96h2v1h-2zM61 96h2v1h-2zM75 96h1v1h-1zM81 96h1v1h-1zM84 96h1v1h-1zM3 97h1v1h-1zM11 97h1v1h-1zM18 97h1v1h-1zM21 97h1v1h-1zM23 97h1v1h-1zM34 97h1v1h-1zM38 97h1v1h-1zM55 97h2v1h-2zM58 97h1v1h-1zM65 97h1v1h-1zM70 97h1v1h-1zM76 97h1v1h-1zM80 97h1v1h-1zM22 98h1v1h-1zM30 98h1v1h-1zM33 98h1v1h-1zM43 98h2v1h-2zM46 98h1v1h-1zM49 98h1v1h-1zM62 98h1v1h-1zM68 98h1v1h-1zM79 98h1v1h-1zM29 99h1v1h-1zM39 99h1v1h-1zM59 99h1v1h-1zM66 99h3v1h-3zM82 99h1v1h-1zM89 99h1v1h-1zM98 99h1v1h-1zM33 100h1v1h-1zM55 100h1v1h-1zM59 100h1v1h-1zM63 100h1v1h-1zM92 100h1v1h-1zM9 101h1v1h-1zM14 101h1v1h-1zM16 101h1v1h-1zM27 101h1v1h-1zM38 101h1v1h-1zM40 101h1v1h-1zM49 101h1v1h-1zM64 101h1v1h-1zM92 101h1v1h-1zM3 102h1v1h-1zM28 102h1v1h-1zM39 102h1v1h-1zM64 102h1v1h-1zM80 102h2v1h-2zM86 102h1v1h-1zM88 102h1v1h-1zM16 103h1v1h-1zM24 103h1v1h-1zM28 103h1v1h-1zM42 103h1v1h-1zM51 103h1v1h-1zM58 103h1v1h-1zM62 103h1v1h-1zM67 103h1v1h-1zM70 103h1v1h-1zM92 103h1v1h-1zM9 104h1v1h-1zM26 104h1v1h-1zM42 104h1v1h-1zM46 104h1v1h-1zM66 104h1v1h-1zM72 104h1v1h-1zM81 104h1v1h-1zM27 105h1v1h-1zM32 105h1v1h-1zM38 105h2v1h-2zM58 105h1v1h-1zM65 105h1v1h-1zM81 105h1v1h-1zM12 106h1v1h-1zM21 106h1v1h-1zM26 106h1v1h-1zM38 106h1v1h-1zM47 106h2v1h-2zM56 106h1v1h-1zM68 106h1v1h-1zM70 106h1v1h-1zM72 106h1v1h-1zM78 106h1v1h-1zM86 106h1v1h-1zM5 107h2v1h-2zM29 107h1v1h-1zM66 107h1v1h-1zM80 107h1v1h-1zM15 108h1v1h-1zM25 108h1v1h-1zM34 108h1v1h-1zM41 108h1v1h-1zM51 108h3v1h-3zM55 108h1v1h-1zM69 108h1v1h-1zM80 108h1v1h-1zM92 108h1v1h-1zM96 108h1v1h-1zM4 109h1v1h-1zM12 109h1v1h-1zM25 109h1v1h-1zM34 109h1v1h-1zM42 109h1v1h-1zM54 109h1v1h-1zM58 109h1v1h-1zM63 109h1v1h-1zM66 109h1v1h-1zM71 109h2v1h-2zM81 109h1v1h-1zM87 109h1v1h-1zM93 109h2v1h-2zM35 110h4v1h-4zM53 110h1v1h-1zM55 110h1v1h-1zM58 110h1v1h-1zM66 110h1v1h-1zM70 110h1v1h-1zM89 110h1v1h-1zM100 110h1v1h-1zM4 111h1v1h-1zM12 111h1v1h-1zM22 111h1v1h-1zM55 111h1v1h-1zM57 111h1v1h-1zM61 111h1v1h-1zM65 111h1v1h-1zM70 111h2v1h-2zM80 111h1v1h-1zM88 111h1v1h-1zM12 112h1v1h-1zM50 112h1v1h-1zM66 112h1v1h-1zM69 112h1v1h-1zM72 112h1v1h-1zM79 112h1v1h-1zM17 113h1v1h-1zM39 113h1v1h-1zM41 113h2v1h-2zM56 113h1v1h-1zM62 113h1v1h-1zM66 113h3v1h-3zM70 113h1v1h-1zM81 113h1v1h-1zM84 113h1v1h-1zM96 113h1v1h-1zM14 114h1v1h-1zM33 114h1v1h-1zM59 114h1v1h-1zM65 114h2v1h-2zM71 114h1v1h-1zM79 114h1v1h-1zM94 114h1v1h-1zM99 114h1v1h-1zM5 115h1v1h-1zM22 115h1v1h-1zM58 115h1v1h-1zM64 115h1v1h-1zM74 115h1v1h-1zM79 115h1v1h-1zM95 115h1v1h-1zM31 116h1v1h-1zM33 116h1v1h-1zM37 116h1v1h-1zM53 116h1v1h-1zM61 116h1v1h-1zM67 116h2v1h-2zM71 116h3v1h-3zM83 116h1v1h-1zM11 117h1v1h-1zM14 117h1v1h-1zM26 117h1v1h-1zM34 117h2v1h-2zM37 117h1v1h-1zM44 117h1v1h-1zM62 117h1v1h-1zM64 117h1v1h-1zM68 117h1v1h-1zM20 118h1v1h-1zM33 118h1v1h-1zM56 118h1v1h-1zM58 118h1v1h-1zM73 118h1v1h-1zM81 118h1v1h-1zM91 118h1v1h-1zM17 119h1v1h-1zM19 119h1v1h-1zM22 119h1v1h-1zM26 119h1v1h-1zM28 119h1v1h-1zM34 119h1v1h-1zM39 119h2v1h-2zM44 119h1v1h-1zM46 119h1v1h-1zM52 119h3v1h-3zM58 119h1v1h-1zM69 119h1v1h-1zM29 120h1v1h-1zM37 120h1v1h-1zM42 120h1v1h-1zM51 120h1v1h-1zM55 120h2v1h-2zM67 120h1v1h-1zM81 120h1v1h-1zM84 120h3v1h-3zM94 120h1v1h-1zM100 120h1v1h-1zM26 121h1v1h-1zM38 121h2v1h-2zM52 121h1v1h-1zM58 121h1v1h-1zM64 121h1v1h-1zM66 121h1v1h-1zM78 121h1v1h-1zM96 121h1v1h-1zM100 121h1v1h-1zM6 122h1v1h-1zM18 122h1v1h-1zM29 122h1v1h-1zM34 122h1v1h-1zM38 122h1v1h-1zM50 122h1v1h-1zM58 122h1v1h-1zM63 122h1v1h-1zM68 122h1v1h-1zM78 122h1v1h-1zM85 122h1v1h-1zM95 122h2v1h-2z"/><path fill="#f9f0aa" d="M2 0h1v1h-1zM6 0h2v1h-2zM19 0h2v1h-2zM27 0h1v1h-1zM35 0h1v1h-1zM42 0h1v1h-1zM44 0h2v1h-2zM51 0h1v1h-1zM56 0h1v1h-1zM78 0h3v1h-3zM0 1h1v1h-1zM2 1h1v1h-1zM6 1h1v1h-1zM17 1h1v1h-1zM19 1h1v1h-1zM22 1h1v1h-1zM30 1h1v1h-1zM37 1h1v1h-1zM49 1h2v1h-2zM69 1h1v1h-1zM1 2h2v1h-2zM19 2h1v1h-1zM25 2h1v1h-1zM28 2h1v1h-1zM33 2h1v1h-1zM41 2h1v1h-1zM46 2h1v1h-1zM53 2h1v1h-1zM60 2h1v1h-1zM78 2h1v1h-1zM99 2h1v1h-1zM1 3h1v1h-1zM14 3h1v1h-1zM20 3h1v1h-1zM26 3h1v1h-1zM43 3h1v1h-1zM46 3h1v1h-1zM54 3h1v1h-1zM71 3h1v1h-1zM73 3h1v1h-1zM4 4h1v1h-1zM12 4h1v1h-1zM19 4h2v1h-2zM26 4h1v1h-1zM38 4h2v1h-2zM49 4h1v1h-1zM58 4h1v1h-1zM61 4h2v1h-2zM73 4h1v1h-1zM79 4h1v1h-1zM85 4h1v1h-1zM92 4h1v1h-1zM7 5h1v1h-1zM18 5h1v1h-1zM20 5h1v1h-1zM30 5h1v1h-1zM47 5h1v1h-1zM49 5h1v1h-1zM52 5h2v1h-2zM56 5h1v1h-1zM59 5h1v1h-1zM72 5h1v1h-1zM79 5h1v1h-1zM19 6h1v1h-1zM23 6h1v1h-1zM25 6h1v1h-1zM38 6h1v1h-1zM40 6h1v1h-1zM50 6h1v1h-1zM57 6h1v1h-1zM77 6h1v1h-1zM82 6h1v1h-1zM3 7h1v1h-1zM14 7h1v1h-1zM19 7h1v1h-1zM21 7h1v1h-1zM64 7h1v1h-1zM74 7h1v1h-1zM80 7h1v1h-1zM17 8h1v1h-1zM41 8h1v1h-1zM46 8h2v1h-2zM54 8h1v1h-1zM65 8h2v1h-2zM70 8h1v1h-1zM78 8h1v1h-1zM83 8h1v1h-1zM101 8h1v1h-1zM4 9h2v1h-2zM9 9h1v1h-1zM12 9h1v1h-1zM23 9h1v1h-1zM28 9h1v1h-1zM34 9h1v1h-1zM39 9h1v1h-1zM42 9h3v1h-3zM49 9h1v1h-1zM58 9h1v1h-1zM67 9h1v1h-1zM74 9h1v1h-1zM78 9h1v1h-1zM81 9h1v1h-1zM13 10h2v1h-2zM23 10h1v1h-1zM26 10h1v1h-1zM35 10h1v1h-1zM41 10h1v1h-1zM44 10h1v1h-1zM47 10h1v1h-1zM52 10h1v1h-1zM54 10h1v1h-1zM56 10h1v1h-1zM70 10h1v1h-1zM75 10h1v1h-1zM79 10h1v1h-1zM81 10h1v1h-1zM1 11h1v1h-1zM4 11h1v1h-1zM11 11h1v1h-1zM13 11h1v1h-1zM17 11h1v1h-1zM26 11h1v1h-1zM34 11h1v1h-1zM40 11h1v1h-1zM42 11h1v1h-1zM44 11h1v1h-1zM47 11h1v1h-1zM53 11h1v1h-1zM71 11h1v1h-1zM78 11h3v1h-3zM9 12h1v1h-1zM13 12h1v1h-1zM33 12h1v1h-1zM42 12h1v1h-1zM44 12h1v1h-1zM48 12h3v1h-3zM62 12h1v1h-1zM78 12h1v1h-1zM1 13h1v1h-1zM13 13h1v1h-1zM17 13h1v1h-1zM34 13h1v1h-1zM40 13h1v1h-1zM45 13h1v1h-1zM58 13h1v1h-1zM66 13h1v1h-1zM74 13h1v1h-1zM80 13h1v1h-1zM1 14h2v1h-2zM9 14h1v1h-1zM16 14h2v1h-2zM27 14h1v1h-1zM32 14h1v1h-1zM34 14h2v1h-2zM37 14h1v1h-1zM42 14h1v1h-1zM57 14h1v1h-1zM65 14h1v1h-1zM69 14h1v1h-1zM81 14h1v1h-1zM96 14h2v1h-2zM1 15h1v1h-1zM3 15h1v1h-1zM8 15h2v1h-2zM11 15h1v1h-1zM13 15h1v1h-1zM16 15h1v1h-1zM33 15h1v1h-1zM38 15h1v1h-1zM42 15h1v1h-1zM46 15h1v1h-1zM52 15h2v1h-2zM58 15h1v1h-1zM81 15h1v1h-1zM91 15h1v1h-1zM1 16h1v1h-1zM16 16h1v1h-1zM44 16h1v1h-1zM62 16h1v1h-1zM64 16h2v1h-2zM74 16h1v1h-1zM81 16h1v1h-1zM100 16h1v1h-1zM2 17h2v1h-2zM13 17h1v1h-1zM15 17h1v1h-1zM21 17h1v1h-1zM34 17h1v1h-1zM42 17h1v1h-1zM55 17h1v1h-1zM69 17h1v1h-1zM73 17h1v1h-1zM79 17h1v1h-1zM99 17h1v1h-1zM6 18h1v1h-1zM10 18h1v1h-1zM15 18h1v1h-1zM18 18h1v1h-1zM40 18h1v1h-1zM46 18h1v1h-1zM49 18h1v1h-1zM60 18h1v1h-1zM66 18h1v1h-1zM71 18h1v1h-1zM74 18h1v1h-1zM81 18h1v1h-1zM14 19h1v1h-1zM36 19h1v1h-1zM46 19h1v1h-1zM50 19h1v1h-1zM54 19h2v1h-2zM58 19h1v1h-1zM60 19h1v1h-1zM64 19h1v1h-1zM70 19h1v1h-1zM91 19h1v1h-1zM12 20h1v1h-1zM14 20h1v1h-1zM28 20h1v1h-1zM35 20h1v1h-1zM62 20h1v1h-1zM66 20h2v1h-2zM70 20h1v1h-1zM78 20h2v1h-2zM86 20h2v1h-2zM1 21h1v1h-1zM9 21h1v1h-1zM28 21h1v1h-1zM33 21h1v1h-1zM45 21h2v1h-2zM54 21h1v1h-1zM60 21h1v1h-1zM65 21h1v1h-1zM68 21h1v1h-1zM75 21h1v1h-1zM81 21h1v1h-1zM3 22h1v1h-1zM29 22h1v1h-1zM34 22h3v1h-3zM41 22h1v1h-1zM45 22h1v1h-1zM50 22h1v1h-1zM54 22h1v1h-1zM62 22h1v1h-1zM69 22h2v1h-2zM81 22h1v1h-1zM4 23h1v1h-1zM13 23h1v1h-1zM23 23h1v1h-1zM31 23h1v1h-1zM37 23h1v1h-1zM40 23h1v1h-1zM50 23h2v1h-2zM60 23h1v1h-1zM65 23h2v1h-2zM68 23h1v1h-1zM94 23h1v1h-1zM98 23h1v1h-1zM11 24h1v1h-1zM21 24h3v1h-3zM34 24h1v1h-1zM37 24h1v1h-1zM49 24h1v1h-1zM53 24h1v1h-1zM65 24h2v1h-2zM72 24h1v1h-1zM74 24h1v1h-1zM11 25h1v1h-1zM33 25h1v1h-1zM41 25h1v1h-1zM46 25h1v1h-1zM49 25h2v1h-2zM62 25h1v1h-1zM71 25h1v1h-1zM73 25h1v1h-1zM81 25h1v1h-1zM84 25h1v1h-1zM11 26h1v1h-1zM20 26h1v1h-1zM33 26h4v1h-4zM53 26h1v1h-1zM56 26h1v1h-1zM68 26h1v1h-1zM78 26h1v1h-1zM21 27h2v1h-2zM25 27h1v1h-1zM45 27h1v1h-1zM50 27h1v1h-1zM52 27h1v1h-1zM54 27h1v1h-1zM59 27h1v1h-1zM68 27h1v1h-1zM76 27h1v1h-1zM16 28h1v1h-1zM24 28h1v1h-1zM34 28h2v1h-2zM45 28h1v1h-1zM58 28h2v1h-2zM70 28h1v1h-1zM72 28h1v1h-1zM79 28h1v1h-1zM2 29h1v1h-1zM6 29h1v1h-1zM21 29h1v1h-1zM23 29h1v1h-1zM27 29h1v1h-1zM34 29h1v1h-1zM37 29h1v1h-1zM43 29h1v1h-1zM55 29h1v1h-1zM57 29h1v1h-1zM65 29h1v1h-1zM9 30h1v1h-1zM11 30h1v1h-1zM15 30h1v1h-1zM17 30h1v1h-1zM39 30h1v1h-1zM41 30h1v1h-1zM45 30h1v1h-1zM62 30h1v1h-1zM16 31h1v1h-1zM24 31h2v1h-2zM27 31h1v1h-1zM32 31h1v1h-1zM41 31h1v1h-1zM68 31h1v1h-1zM95 31h1v1h-1zM100 31h1v1h-1zM33 32h1v1h-1zM41 32h1v1h-1zM46 32h1v1h-1zM49 32h1v1h-1zM60 32h2v1h-2zM66 32h1v1h-1zM80 32h2v1h-2zM100 32h1v1h-1zM11 33h1v1h-1zM13 33h1v1h-1zM18 33h2v1h-2zM22 33h1v1h-1zM26 33h1v1h-1zM28 33h2v1h-2zM35 33h1v1h-1zM44 33h1v1h-1zM71 33h1v1h-1zM78 33h1v1h-1zM5 34h1v1h-1zM9 34h1v1h-1zM17 34h1v1h-1zM33 34h1v1h-1zM36 34h1v1h-1zM38 34h2v1h-2zM41 34h4v1h-4zM54 34h2v1h-2zM85 34h1v1h-1zM11 35h1v1h-1zM16 35h1v1h-1zM20 35h1v1h-1zM29 35h3v1h-3zM34 35h1v1h-1zM38 35h1v1h-1zM41 35h1v1h-1zM48 35h1v1h-1zM60 35h1v1h-1zM66 35h1v1h-1zM79 35h1v1h-1zM22 36h1v1h-1zM26 36h2v1h-2zM38 36h1v1h-1zM62 36h1v1h-1zM66 36h1v1h-1zM68 36h3v1h-3zM80 36h2v1h-2zM11 37h1v1h-1zM13 37h1v1h-1zM22 37h1v1h-1zM29 37h1v1h-1zM31 37h1v1h-1zM36 37h1v1h-1zM41 37h1v1h-1zM43 37h1v1h-1zM55 37h1v1h-1zM57 37h2v1h-2zM61 37h1v1h-1zM69 37h2v1h-2zM79 37h1v1h-1zM21 38h1v1h-1zM44 38h1v1h-1zM59 38h1v1h-1zM79 38h1v1h-1zM12 39h1v1h-1zM34 39h1v1h-1zM69 39h1v1h-1zM76 39h1v1h-1zM79 39h1v1h-1zM1 40h1v1h-1zM3 40h1v1h-1zM7 40h1v1h-1zM11 40h1v1h-1zM13 40h1v1h-1zM19 40h2v1h-2zM33 40h1v1h-1zM38 40h1v1h-1zM41 40h1v1h-1zM48 40h1v1h-1zM61 40h1v1h-1zM70 40h1v1h-1zM81 40h1v1h-1zM86 40h1v1h-1zM2 41h2v1h-2zM13 41h1v1h-1zM22 41h2v1h-2zM25 41h2v1h-2zM34 41h1v1h-1zM40 41h1v1h-1zM45 41h1v1h-1zM51 41h1v1h-1zM64 41h1v1h-1zM66 41h1v1h-1zM70 41h1v1h-1zM80 41h1v1h-1zM3 42h1v1h-1zM9 42h1v1h-1zM17 42h1v1h-1zM29 42h2v1h-2zM46 42h1v1h-1zM56 42h1v1h-1zM70 42h1v1h-1zM92 42h1v1h-1zM14 43h1v1h-1zM17 43h2v1h-2zM22 43h2v1h-2zM30 43h1v1h-1zM33 43h1v1h-1zM35 43h1v1h-1zM37 43h1v1h-1zM40 43h1v1h-1zM48 43h1v1h-1zM52 43h2v1h-2zM66 43h1v1h-1zM75 43h1v1h-1zM78 43h2v1h-2zM11 44h2v1h-2zM31 44h1v1h-1zM34 44h1v1h-1zM39 44h1v1h-1zM59 44h1v1h-1zM61 44h1v1h-1zM80 44h1v1h-1zM24 45h2v1h-2zM34 45h1v1h-1zM42 45h1v1h-1zM59 45h1v1h-1zM62 45h1v1h-1zM72 45h1v1h-1zM74 45h1v1h-1zM79 45h1v1h-1zM81 45h1v1h-1zM3 46h1v1h-1zM21 46h1v1h-1zM25 46h1v1h-1zM34 46h1v1h-1zM44 46h2v1h-2zM58 46h1v1h-1zM70 46h2v1h-2zM73 46h1v1h-1zM5 47h1v1h-1zM7 47h1v1h-1zM11 47h2v1h-2zM15 47h1v1h-1zM21 47h1v1h-1zM30 47h2v1h-2zM43 47h2v1h-2zM49 47h1v1h-1zM17 48h1v1h-1zM66 48h2v1h-2zM80 48h1v1h-1zM6 49h1v1h-1zM11 49h1v1h-1zM17 49h1v1h-1zM22 49h1v1h-1zM43 49h2v1h-2zM54 49h1v1h-1zM58 49h1v1h-1zM73 49h1v1h-1zM90 49h1v1h-1zM3 50h1v1h-1zM31 50h1v1h-1zM34 50h1v1h-1zM48 50h1v1h-1zM67 50h2v1h-2zM4 51h1v1h-1zM20 51h1v1h-1zM22 51h1v1h-1zM26 51h1v1h-1zM34 51h1v1h-1zM45 51h1v1h-1zM53 51h1v1h-1zM60 51h1v1h-1zM67 51h1v1h-1zM69 51h1v1h-1zM78 51h1v1h-1zM4 52h1v1h-1zM28 52h1v1h-1zM48 52h1v1h-1zM77 52h1v1h-1zM82 52h1v1h-1zM95 52h1v1h-1zM12 53h1v1h-1zM28 53h1v1h-1zM35 53h1v1h-1zM51 53h1v1h-1zM63 53h1v1h-1zM70 53h3v1h-3zM75 53h1v1h-1zM78 53h1v1h-1zM25 54h1v1h-1zM49 54h1v1h-1zM53 54h2v1h-2zM68 54h1v1h-1zM73 54h1v1h-1zM79 54h1v1h-1zM10 55h2v1h-2zM39 55h1v1h-1zM54 55h1v1h-1zM69 55h1v1h-1zM71 55h1v1h-1zM75 55h1v1h-1zM80 55h1v1h-1zM4 56h1v1h-1zM11 56h1v1h-1zM14 56h1v1h-1zM42 56h1v1h-1zM58 56h1v1h-1zM24 57h1v1h-1zM30 57h1v1h-1zM46 57h1v1h-1zM53 57h1v1h-1zM58 57h1v1h-1zM68 57h1v1h-1zM81 57h1v1h-1zM8 58h1v1h-1zM11 58h1v1h-1zM52 58h1v1h-1zM74 58h1v1h-1zM93 58h1v1h-1zM3 59h1v1h-1zM12 59h1v1h-1zM16 59h1v1h-1zM21 59h1v1h-1zM31 59h1v1h-1zM41 59h1v1h-1zM49 59h1v1h-1zM52 59h2v1h-2zM56 59h1v1h-1zM58 59h1v1h-1zM69 59h1v1h-1zM75 59h1v1h-1zM90 59h1v1h-1zM8 60h1v1h-1zM16 60h1v1h-1zM21 60h1v1h-1zM28 60h1v1h-1zM30 60h1v1h-1zM33 60h1v1h-1zM49 60h1v1h-1zM53 60h1v1h-1zM58 60h1v1h-1zM61 60h1v1h-1zM65 60h1v1h-1zM78 60h1v1h-1zM4 61h1v1h-1zM21 61h1v1h-1zM23 61h1v1h-1zM50 61h1v1h-1zM59 61h1v1h-1zM80 61h1v1h-1zM18 62h1v1h-1zM40 62h1v1h-1zM50 62h1v1h-1zM53 62h1v1h-1zM58 62h1v1h-1zM75 62h1v1h-1zM4 63h1v1h-1zM16 63h2v1h-2zM28 63h1v1h-1zM33 63h1v1h-1zM65 63h1v1h-1zM68 63h1v1h-1zM75 63h1v1h-1zM78 63h2v1h-2zM5 64h1v1h-1zM7 64h1v1h-1zM11 64h1v1h-1zM33 64h1v1h-1zM35 64h1v1h-1zM43 64h1v1h-1zM50 64h1v1h-1zM58 64h2v1h-2zM63 64h1v1h-1zM69 64h1v1h-1zM74 64h1v1h-1zM78 64h2v1h-2zM3 65h2v1h-2zM7 65h1v1h-1zM35 65h1v1h-1zM49 65h1v1h-1zM70 65h1v1h-1zM74 65h1v1h-1zM28 66h1v1h-1zM35 66h1v1h-1zM47 66h1v1h-1zM63 66h1v1h-1zM66 66h1v1h-1zM68 66h1v1h-1zM71 66h1v1h-1zM73 66h1v1h-1zM82 66h1v1h-1zM10 67h1v1h-1zM28 67h1v1h-1zM44 67h1v1h-1zM49 67h1v1h-1zM54 67h1v1h-1zM60 67h1v1h-1zM67 67h1v1h-1zM78 67h1v1h-1zM4 68h1v1h-1zM10 68h1v1h-1zM28 68h2v1h-2zM43 68h1v1h-1zM52 68h1v1h-1zM56 68h1v1h-1zM69 68h1v1h-1zM72 68h1v1h-1zM80 68h1v1h-1zM8 69h1v1h-1zM12 69h1v1h-1zM16 69h1v1h-1zM27 69h1v1h-1zM40 69h1v1h-1zM52 69h2v1h-2zM55 69h1v1h-1zM57 69h1v1h-1zM61 69h1v1h-1zM70 69h1v1h-1zM78 69h1v1h-1zM93 69h1v1h-1zM101 69h1v1h-1zM6 70h1v1h-1zM17 70h1v1h-1zM22 70h1v1h-1zM27 70h3v1h-3zM32 70h2v1h-2zM40 70h1v1h-1zM49 70h1v1h-1zM51 70h1v1h-1zM57 70h1v1h-1zM80 70h1v1h-1zM7 71h1v1h-1zM23 71h1v1h-1zM25 71h1v1h-1zM38 71h2v1h-2zM41 71h1v1h-1zM49 71h1v1h-1zM51 71h1v1h-1zM60 71h1v1h-1zM62 71h1v1h-1zM67 71h5v1h-5zM4 72h1v1h-1zM6 72h1v1h-1zM17 72h1v1h-1zM20 72h1v1h-1zM23 72h1v1h-1zM26 72h1v1h-1zM33 72h1v1h-1zM37 72h1v1h-1zM49 72h1v1h-1zM61 72h1v1h-1zM64 72h1v1h-1zM69 72h1v1h-1zM73 72h1v1h-1zM78 72h1v1h-1zM12 73h1v1h-1zM20 73h1v1h-1zM22 73h1v1h-1zM26 73h1v1h-1zM30 73h1v1h-1zM67 73h1v1h-1zM7 74h1v1h-1zM26 74h1v1h-1zM34 74h1v1h-1zM44 74h1v1h-1zM52 74h1v1h-1zM59 74h2v1h-2zM69 74h1v1h-1zM79 74h1v1h-1zM92 74h1v1h-1zM3 75h1v1h-1zM28 75h1v1h-1zM32 75h1v1h-1zM36 75h1v1h-1zM46 75h1v1h-1zM49 75h1v1h-1zM58 75h1v1h-1zM40 76h1v1h-1zM47 76h1v1h-1zM63 76h1v1h-1zM74 76h1v1h-1zM80 76h1v1h-1zM82 76h1v1h-1zM10 77h1v1h-1zM17 77h1v1h-1zM26 77h1v1h-1zM28 77h1v1h-1zM48 77h1v1h-1zM56 77h1v1h-1zM69 77h1v1h-1zM14 78h1v1h-1zM22 78h1v1h-1zM25 78h2v1h-2zM42 78h1v1h-1zM44 78h1v1h-1zM57 78h2v1h-2zM60 78h1v1h-1zM75 78h1v1h-1zM80 78h1v1h-1zM4 79h1v1h-1zM18 79h1v1h-1zM21 79h1v1h-1zM68 79h1v1h-1zM70 79h1v1h-1zM72 79h1v1h-1zM75 79h1v1h-1zM95 79h1v1h-1zM8 80h1v1h-1zM44 80h1v1h-1zM46 80h1v1h-1zM53 80h1v1h-1zM91 80h1v1h-1zM4 81h1v1h-1zM22 81h2v1h-2zM38 81h1v1h-1zM41 81h1v1h-1zM43 81h1v1h-1zM45 81h1v1h-1zM55 81h1v1h-1zM10 82h2v1h-2zM25 82h1v1h-1zM27 82h2v1h-2zM36 82h1v1h-1zM38 82h1v1h-1zM40 82h1v1h-1zM61 82h1v1h-1zM71 82h1v1h-1zM20 83h1v1h-1zM58 83h1v1h-1zM62 83h1v1h-1zM71 83h1v1h-1zM18 84h1v1h-1zM36 84h1v1h-1zM40 84h2v1h-2zM44 84h1v1h-1zM69 84h1v1h-1zM71 84h1v1h-1zM73 84h1v1h-1zM77 84h1v1h-1zM3 85h1v1h-1zM20 85h1v1h-1zM25 85h1v1h-1zM31 85h1v1h-1zM40 85h1v1h-1zM44 85h1v1h-1zM74 85h2v1h-2zM16 86h1v1h-1zM31 86h1v1h-1zM39 86h1v1h-1zM46 86h1v1h-1zM60 86h1v1h-1zM65 86h1v1h-1zM70 86h1v1h-1zM82 86h1v1h-1zM5 87h1v1h-1zM8 87h1v1h-1zM13 87h1v1h-1zM15 87h1v1h-1zM39 87h1v1h-1zM44 87h1v1h-1zM49 87h1v1h-1zM53 87h1v1h-1zM57 87h1v1h-1zM59 87h1v1h-1zM16 88h1v1h-1zM22 88h1v1h-1zM26 88h1v1h-1zM39 88h1v1h-1zM44 88h1v1h-1zM52 88h1v1h-1zM56 88h1v1h-1zM58 88h1v1h-1zM61 88h1v1h-1zM3 89h1v1h-1zM7 89h1v1h-1zM13 89h1v1h-1zM29 89h1v1h-1zM32 89h2v1h-2zM39 89h1v1h-1zM61 89h1v1h-1zM75 89h1v1h-1zM80 89h1v1h-1zM22 90h1v1h-1zM52 90h1v1h-1zM58 90h1v1h-1zM69 90h1v1h-1zM78 90h1v1h-1zM85 90h1v1h-1zM29 91h1v1h-1zM47 91h2v1h-2zM52 91h1v1h-1zM72 91h1v1h-1zM78 91h1v1h-1zM84 91h1v1h-1zM8 92h1v1h-1zM29 92h1v1h-1zM38 92h1v1h-1zM44 92h1v1h-1zM48 92h2v1h-2zM59 92h1v1h-1zM81 92h2v1h-2zM90 92h1v1h-1zM9 93h1v1h-1zM13 93h1v1h-1zM29 93h1v1h-1zM33 93h1v1h-1zM49 93h1v1h-1zM52 93h1v1h-1zM58 93h1v1h-1zM64 93h1v1h-1zM68 93h1v1h-1zM12 94h1v1h-1zM17 94h1v1h-1zM22 94h1v1h-1zM41 94h1v1h-1zM44 94h1v1h-1zM46 94h1v1h-1zM50 94h1v1h-1zM53 94h1v1h-1zM56 94h2v1h-2zM69 94h1v1h-1zM71 94h1v1h-1zM75 94h1v1h-1zM82 94h1v1h-1zM19 95h1v1h-1zM26 95h5v1h-5zM33 95h1v1h-1zM60 95h1v1h-1zM69 95h2v1h-2zM50 96h1v1h-1zM53 96h1v1h-1zM71 96h1v1h-1zM80 96h1v1h-1zM14 97h1v1h-1zM29 97h1v1h-1zM44 97h1v1h-1zM73 97h1v1h-1zM12 98h1v1h-1zM17 98h1v1h-1zM23 98h1v1h-1zM36 98h1v1h-1zM39 98h1v1h-1zM55 98h1v1h-1zM78 98h1v1h-1zM3 99h1v1h-1zM15 99h1v1h-1zM23 99h1v1h-1zM27 99h1v1h-1zM36 99h1v1h-1zM40 99h1v1h-1zM44 99h2v1h-2zM51 99h1v1h-1zM56 99h1v1h-1zM60 99h1v1h-1zM69 99h1v1h-1zM74 99h1v1h-1zM78 99h1v1h-1zM17 100h1v1h-1zM34 100h1v1h-1zM62 100h1v1h-1zM71 100h1v1h-1zM75 100h1v1h-1zM77 100h3v1h-3zM18 101h1v1h-1zM39 101h1v1h-1zM53 101h1v1h-1zM60 101h1v1h-1zM69 101h1v1h-1zM99 101h1v1h-1zM21 102h1v1h-1zM53 102h2v1h-2zM68 102h2v1h-2zM3 103h1v1h-1zM10 103h1v1h-1zM26 103h1v1h-1zM29 103h1v1h-1zM48 103h1v1h-1zM53 103h1v1h-1zM55 103h2v1h-2zM61 103h1v1h-1zM72 103h1v1h-1zM81 103h1v1h-1zM5 104h1v1h-1zM16 104h1v1h-1zM20 104h1v1h-1zM25 104h1v1h-1zM44 104h1v1h-1zM50 104h2v1h-2zM100 104h1v1h-1zM3 105h1v1h-1zM10 105h1v1h-1zM33 105h2v1h-2zM41 105h1v1h-1zM45 105h1v1h-1zM64 105h1v1h-1zM67 105h1v1h-1zM70 105h1v1h-1zM74 105h1v1h-1zM73 106h1v1h-1zM16 107h1v1h-1zM28 107h1v1h-1zM44 107h1v1h-1zM61 107h1v1h-1zM64 107h1v1h-1zM72 107h1v1h-1zM75 107h1v1h-1zM77 107h1v1h-1zM7 108h1v1h-1zM19 108h1v1h-1zM23 108h1v1h-1zM26 108h1v1h-1zM29 108h1v1h-1zM32 108h1v1h-1zM38 108h1v1h-1zM46 108h1v1h-1zM74 108h1v1h-1zM27 109h1v1h-1zM37 109h2v1h-2zM64 109h1v1h-1zM68 109h1v1h-1zM79 109h1v1h-1zM42 110h2v1h-2zM48 110h1v1h-1zM67 110h1v1h-1zM79 110h1v1h-1zM81 110h1v1h-1zM25 111h1v1h-1zM28 111h1v1h-1zM32 111h1v1h-1zM44 111h1v1h-1zM58 111h1v1h-1zM62 111h3v1h-3zM23 112h1v1h-1zM29 112h1v1h-1zM39 112h1v1h-1zM44 112h2v1h-2zM53 112h1v1h-1zM56 112h1v1h-1zM62 112h2v1h-2zM71 112h1v1h-1zM5 113h1v1h-1zM23 113h1v1h-1zM33 113h1v1h-1zM37 113h1v1h-1zM40 113h1v1h-1zM49 113h1v1h-1zM58 113h1v1h-1zM80 113h1v1h-1zM28 114h1v1h-1zM34 114h1v1h-1zM43 114h1v1h-1zM46 114h1v1h-1zM53 114h1v1h-1zM69 114h1v1h-1zM74 114h1v1h-1zM27 115h1v1h-1zM30 115h2v1h-2zM34 115h1v1h-1zM39 115h1v1h-1zM42 115h1v1h-1zM51 115h1v1h-1zM62 115h2v1h-2zM67 115h1v1h-1zM70 115h1v1h-1zM78 115h1v1h-1zM80 115h1v1h-1zM88 115h1v1h-1zM8 116h1v1h-1zM11 116h1v1h-1zM39 116h2v1h-2zM43 116h1v1h-1zM63 116h1v1h-1zM69 116h1v1h-1zM76 116h1v1h-1zM78 116h1v1h-1zM80 116h1v1h-1zM39 117h1v1h-1zM47 117h1v1h-1zM65 117h1v1h-1zM69 117h1v1h-1zM79 117h1v1h-1zM82 117h1v1h-1zM23 118h1v1h-1zM29 118h1v1h-1zM32 118h1v1h-1zM49 118h2v1h-2zM68 118h2v1h-2zM74 118h1v1h-1zM80 118h1v1h-1zM7 119h1v1h-1zM16 119h1v1h-1zM20 119h1v1h-1zM23 119h1v1h-1zM25 119h1v1h-1zM48 119h1v1h-1zM59 119h1v1h-1zM63 119h1v1h-1zM72 119h1v1h-1zM81 119h2v1h-2zM6 120h3v1h-3zM21 120h1v1h-1zM24 120h1v1h-1zM26 120h1v1h-1zM28 120h1v1h-1zM30 120h1v1h-1zM62 120h1v1h-1zM64 120h1v1h-1zM74 120h1v1h-1zM35 121h1v1h-1zM55 121h1v1h-1zM59 121h1v1h-1zM70 121h1v1h-1zM5 122h1v1h-1zM9 122h1v1h-1zM13 122h1v1h-1zM30 122h1v1h-1zM35 122h1v1h-1zM46 122h1v1h-1zM69 122h2v1h-2z"/><path fill="#f8eaa1" d="M5 0h1v1h-1zM11 0h1v1h-1zM16 0h2v1h-2zM22 0h1v1h-1zM28 0h2v1h-2zM32 0h1v1h-1zM61 0h1v1h-1zM70 0h1v1h-1zM74 0h1v1h-1zM82 0h1v1h-1zM12 1h1v1h-1zM18 1h1v1h-1zM20 1h1v1h-1zM25 1h2v1h-2zM29 1h1v1h-1zM31 1h1v1h-1zM60 1h2v1h-2zM66 1h1v1h-1zM71 1h1v1h-1zM82 1h1v1h-1zM90 1h1v1h-1zM14 2h1v1h-1zM17 2h1v1h-1zM27 2h1v1h-1zM39 2h2v1h-2zM50 2h1v1h-1zM67 2h2v1h-2zM70 2h1v1h-1zM83 2h1v1h-1zM88 2h1v1h-1zM97 2h1v1h-1zM0 3h1v1h-1zM11 3h2v1h-2zM28 3h1v1h-1zM37 3h1v1h-1zM39 3h1v1h-1zM44 3h1v1h-1zM48 3h1v1h-1zM51 3h1v1h-1zM64 3h1v1h-1zM92 3h3v1h-3zM100 3h1v1h-1zM6 4h1v1h-1zM25 4h1v1h-1zM28 4h1v1h-1zM32 4h1v1h-1zM42 4h1v1h-1zM48 4h1v1h-1zM57 4h1v1h-1zM59 4h1v1h-1zM78 4h1v1h-1zM82 4h1v1h-1zM84 4h1v1h-1zM88 4h1v1h-1zM93 4h1v1h-1zM96 4h2v1h-2zM6 5h1v1h-1zM11 5h1v1h-1zM21 5h1v1h-1zM23 5h1v1h-1zM44 5h1v1h-1zM54 5h1v1h-1zM67 5h2v1h-2zM88 5h1v1h-1zM90 5h1v1h-1zM97 5h1v1h-1zM8 6h1v1h-1zM18 6h1v1h-1zM22 6h1v1h-1zM27 6h1v1h-1zM32 6h1v1h-1zM41 6h1v1h-1zM46 6h1v1h-1zM48 6h1v1h-1zM56 6h1v1h-1zM67 6h2v1h-2zM70 6h2v1h-2zM79 6h1v1h-1zM83 6h1v1h-1zM92 6h1v1h-1zM4 7h1v1h-1zM10 7h1v1h-1zM13 7h1v1h-1zM17 7h2v1h-2zM33 7h1v1h-1zM54 7h1v1h-1zM57 7h1v1h-1zM61 7h1v1h-1zM65 7h1v1h-1zM78 7h1v1h-1zM82 7h1v1h-1zM1 8h1v1h-1zM9 8h2v1h-2zM15 8h2v1h-2zM18 8h1v1h-1zM24 8h1v1h-1zM55 8h2v1h-2zM60 8h1v1h-1zM67 8h3v1h-3zM71 8h1v1h-1zM88 8h1v1h-1zM90 8h1v1h-1zM93 8h1v1h-1zM8 9h1v1h-1zM11 9h1v1h-1zM15 9h1v1h-1zM19 9h1v1h-1zM22 9h1v1h-1zM37 9h1v1h-1zM41 9h1v1h-1zM55 9h2v1h-2zM62 9h1v1h-1zM82 9h1v1h-1zM88 9h1v1h-1zM93 9h1v1h-1zM101 9h1v1h-1zM17 10h2v1h-2zM36 10h2v1h-2zM53 10h1v1h-1zM57 10h2v1h-2zM76 10h1v1h-1zM86 10h1v1h-1zM96 10h1v1h-1zM3 11h1v1h-1zM8 11h2v1h-2zM12 11h1v1h-1zM15 11h1v1h-1zM18 11h2v1h-2zM23 11h1v1h-1zM37 11h1v1h-1zM39 11h1v1h-1zM46 11h1v1h-1zM66 11h2v1h-2zM77 11h1v1h-1zM81 11h3v1h-3zM99 11h1v1h-1zM16 12h1v1h-1zM35 12h1v1h-1zM37 12h1v1h-1zM43 12h1v1h-1zM46 12h1v1h-1zM65 12h1v1h-1zM69 12h1v1h-1zM71 12h1v1h-1zM84 12h1v1h-1zM11 13h1v1h-1zM29 13h1v1h-1zM36 13h2v1h-2zM46 13h1v1h-1zM50 13h1v1h-1zM86 13h1v1h-1zM24 14h1v1h-1zM38 14h1v1h-1zM64 14h1v1h-1zM68 14h1v1h-1zM87 14h1v1h-1zM19 15h1v1h-1zM25 15h1v1h-1zM32 15h1v1h-1zM40 15h1v1h-1zM69 15h1v1h-1zM75 15h1v1h-1zM92 15h1v1h-1zM96 15h3v1h-3zM100 15h1v1h-1zM10 16h1v1h-1zM27 16h1v1h-1zM48 16h1v1h-1zM67 16h1v1h-1zM83 16h1v1h-1zM98 16h1v1h-1zM5 17h1v1h-1zM18 17h1v1h-1zM37 17h1v1h-1zM44 17h1v1h-1zM65 17h1v1h-1zM75 17h1v1h-1zM78 17h1v1h-1zM81 17h1v1h-1zM91 17h1v1h-1zM1 18h1v1h-1zM11 18h1v1h-1zM17 18h1v1h-1zM19 18h1v1h-1zM21 18h1v1h-1zM24 18h1v1h-1zM27 18h1v1h-1zM67 18h1v1h-1zM72 18h1v1h-1zM90 18h1v1h-1zM92 18h1v1h-1zM94 18h1v1h-1zM99 18h1v1h-1zM12 19h1v1h-1zM15 19h1v1h-1zM24 19h1v1h-1zM37 19h1v1h-1zM71 19h1v1h-1zM87 19h1v1h-1zM96 19h1v1h-1zM99 19h1v1h-1zM10 20h1v1h-1zM13 20h1v1h-1zM17 20h1v1h-1zM21 20h1v1h-1zM54 20h1v1h-1zM64 20h1v1h-1zM71 20h1v1h-1zM75 20h1v1h-1zM94 20h1v1h-1zM10 21h2v1h-2zM27 21h1v1h-1zM29 21h1v1h-1zM41 21h1v1h-1zM48 21h1v1h-1zM56 21h1v1h-1zM71 21h1v1h-1zM74 21h1v1h-1zM78 21h1v1h-1zM84 21h1v1h-1zM11 22h1v1h-1zM15 22h2v1h-2zM19 22h1v1h-1zM23 22h1v1h-1zM43 22h1v1h-1zM48 22h1v1h-1zM65 22h2v1h-2zM68 22h1v1h-1zM100 22h1v1h-1zM21 23h1v1h-1zM27 23h2v1h-2zM33 23h1v1h-1zM47 23h2v1h-2zM57 23h1v1h-1zM67 23h1v1h-1zM75 23h2v1h-2zM78 23h1v1h-1zM87 23h1v1h-1zM0 24h1v1h-1zM7 24h1v1h-1zM13 24h2v1h-2zM39 24h1v1h-1zM44 24h2v1h-2zM51 24h1v1h-1zM54 24h1v1h-1zM57 24h1v1h-1zM68 24h1v1h-1zM84 24h1v1h-1zM96 24h1v1h-1zM5 25h1v1h-1zM7 25h1v1h-1zM25 25h1v1h-1zM29 25h1v1h-1zM31 25h1v1h-1zM75 25h1v1h-1zM85 25h1v1h-1zM91 25h1v1h-1zM14 26h1v1h-1zM16 26h1v1h-1zM19 26h1v1h-1zM26 26h1v1h-1zM29 26h1v1h-1zM41 26h1v1h-1zM48 26h1v1h-1zM50 26h1v1h-1zM66 26h1v1h-1zM76 26h1v1h-1zM10 27h1v1h-1zM20 27h1v1h-1zM28 27h1v1h-1zM30 27h1v1h-1zM51 27h1v1h-1zM63 27h1v1h-1zM65 27h1v1h-1zM75 27h1v1h-1zM78 27h1v1h-1zM95 27h1v1h-1zM14 28h2v1h-2zM17 28h2v1h-2zM22 28h1v1h-1zM33 28h1v1h-1zM56 28h2v1h-2zM64 28h1v1h-1zM90 28h3v1h-3zM1 29h1v1h-1zM10 29h2v1h-2zM15 29h1v1h-1zM30 29h1v1h-1zM48 29h2v1h-2zM68 29h1v1h-1zM79 29h1v1h-1zM98 29h1v1h-1zM1 30h1v1h-1zM8 30h1v1h-1zM10 30h1v1h-1zM13 30h1v1h-1zM18 30h1v1h-1zM25 30h1v1h-1zM27 30h1v1h-1zM32 30h1v1h-1zM37 30h1v1h-1zM42 30h1v1h-1zM47 30h1v1h-1zM51 30h1v1h-1zM54 30h1v1h-1zM57 30h1v1h-1zM63 30h1v1h-1zM95 30h1v1h-1zM10 31h1v1h-1zM15 31h1v1h-1zM23 31h1v1h-1zM28 31h1v1h-1zM31 31h1v1h-1zM43 31h1v1h-1zM48 31h2v1h-2zM56 31h1v1h-1zM63 31h1v1h-1zM67 31h1v1h-1zM73 31h1v1h-1zM99 31h1v1h-1zM9 32h1v1h-1zM13 32h1v1h-1zM29 32h1v1h-1zM32 32h1v1h-1zM35 32h1v1h-1zM37 32h1v1h-1zM45 32h1v1h-1zM50 32h1v1h-1zM62 32h1v1h-1zM79 32h1v1h-1zM89 32h1v1h-1zM92 32h1v1h-1zM6 33h1v1h-1zM9 33h1v1h-1zM15 33h3v1h-3zM32 33h1v1h-1zM37 33h1v1h-1zM46 33h1v1h-1zM48 33h1v1h-1zM58 33h1v1h-1zM62 33h1v1h-1zM64 33h2v1h-2zM67 33h1v1h-1zM75 33h2v1h-2zM82 33h1v1h-1zM12 34h1v1h-1zM16 34h1v1h-1zM25 34h1v1h-1zM35 34h1v1h-1zM37 34h1v1h-1zM40 34h1v1h-1zM65 34h1v1h-1zM99 34h1v1h-1zM14 35h2v1h-2zM36 35h1v1h-1zM39 35h1v1h-1zM42 35h1v1h-1zM68 35h1v1h-1zM96 35h1v1h-1zM1 36h1v1h-1zM82 36h1v1h-1zM9 37h1v1h-1zM18 37h1v1h-1zM23 37h1v1h-1zM39 37h1v1h-1zM45 37h1v1h-1zM76 37h1v1h-1zM80 37h1v1h-1zM82 37h1v1h-1zM101 37h1v1h-1zM1 38h1v1h-1zM6 38h1v1h-1zM9 38h2v1h-2zM16 38h1v1h-1zM18 38h1v1h-1zM22 38h1v1h-1zM27 38h1v1h-1zM39 38h1v1h-1zM45 38h1v1h-1zM58 38h1v1h-1zM67 38h1v1h-1zM69 38h1v1h-1zM82 38h1v1h-1zM3 39h1v1h-1zM10 39h1v1h-1zM23 39h1v1h-1zM25 39h1v1h-1zM37 39h1v1h-1zM56 39h2v1h-2zM60 39h2v1h-2zM90 39h1v1h-1zM4 40h1v1h-1zM37 40h1v1h-1zM42 40h1v1h-1zM57 40h1v1h-1zM60 40h1v1h-1zM63 40h1v1h-1zM76 40h1v1h-1zM100 40h1v1h-1zM8 41h1v1h-1zM30 41h1v1h-1zM37 41h1v1h-1zM50 41h1v1h-1zM54 41h1v1h-1zM72 41h1v1h-1zM13 42h1v1h-1zM15 42h1v1h-1zM25 42h1v1h-1zM27 42h1v1h-1zM32 42h1v1h-1zM39 42h1v1h-1zM44 42h1v1h-1zM53 42h1v1h-1zM63 42h1v1h-1zM65 42h1v1h-1zM68 42h1v1h-1zM74 42h1v1h-1zM78 42h1v1h-1zM82 42h1v1h-1zM86 42h1v1h-1zM91 42h1v1h-1zM97 42h1v1h-1zM1 43h1v1h-1zM13 43h1v1h-1zM16 43h1v1h-1zM20 43h2v1h-2zM24 43h1v1h-1zM29 43h1v1h-1zM31 43h1v1h-1zM55 43h1v1h-1zM58 43h1v1h-1zM60 43h1v1h-1zM64 43h2v1h-2zM80 43h1v1h-1zM1 44h1v1h-1zM5 44h2v1h-2zM25 44h1v1h-1zM35 44h1v1h-1zM76 44h2v1h-2zM1 45h1v1h-1zM16 45h1v1h-1zM39 45h2v1h-2zM43 45h1v1h-1zM63 45h1v1h-1zM77 45h1v1h-1zM84 45h1v1h-1zM91 45h2v1h-2zM97 45h1v1h-1zM1 46h1v1h-1zM5 46h1v1h-1zM15 46h1v1h-1zM18 46h1v1h-1zM26 46h2v1h-2zM30 46h1v1h-1zM36 46h2v1h-2zM39 46h2v1h-2zM54 46h1v1h-1zM60 46h1v1h-1zM72 46h1v1h-1zM81 46h1v1h-1zM3 47h1v1h-1zM6 47h1v1h-1zM24 47h1v1h-1zM29 47h1v1h-1zM37 47h1v1h-1zM60 47h1v1h-1zM64 47h1v1h-1zM70 47h1v1h-1zM73 47h1v1h-1zM81 47h1v1h-1zM83 47h1v1h-1zM101 47h1v1h-1zM1 48h1v1h-1zM24 48h1v1h-1zM84 48h1v1h-1zM26 49h1v1h-1zM45 49h1v1h-1zM64 49h1v1h-1zM67 49h1v1h-1zM76 49h1v1h-1zM83 49h1v1h-1zM95 49h2v1h-2zM101 49h1v1h-1zM1 50h1v1h-1zM20 50h1v1h-1zM25 50h1v1h-1zM27 50h1v1h-1zM32 50h1v1h-1zM37 50h1v1h-1zM42 50h1v1h-1zM45 50h1v1h-1zM74 50h1v1h-1zM84 50h1v1h-1zM100 50h1v1h-1zM28 51h1v1h-1zM33 51h1v1h-1zM44 51h1v1h-1zM59 51h1v1h-1zM73 51h1v1h-1zM81 51h1v1h-1zM37 52h1v1h-1zM43 52h1v1h-1zM49 52h1v1h-1zM54 52h1v1h-1zM60 52h1v1h-1zM63 52h1v1h-1zM78 52h1v1h-1zM14 53h1v1h-1zM21 53h2v1h-2zM37 53h2v1h-2zM43 53h1v1h-1zM49 53h1v1h-1zM64 53h1v1h-1zM66 53h1v1h-1zM80 53h1v1h-1zM29 54h2v1h-2zM34 54h1v1h-1zM36 54h1v1h-1zM64 54h1v1h-1zM71 54h1v1h-1zM81 54h1v1h-1zM85 54h1v1h-1zM5 55h1v1h-1zM37 55h1v1h-1zM40 55h1v1h-1zM42 55h1v1h-1zM55 55h1v1h-1zM59 55h1v1h-1zM68 55h1v1h-1zM87 55h1v1h-1zM92 55h1v1h-1zM9 56h1v1h-1zM46 56h1v1h-1zM49 56h1v1h-1zM55 56h2v1h-2zM67 56h1v1h-1zM71 56h1v1h-1zM93 56h1v1h-1zM14 57h2v1h-2zM32 57h1v1h-1zM41 57h1v1h-1zM54 57h2v1h-2zM71 57h1v1h-1zM75 57h1v1h-1zM78 57h2v1h-2zM100 57h1v1h-1zM9 58h1v1h-1zM26 58h1v1h-1zM28 58h2v1h-2zM46 58h1v1h-1zM49 58h1v1h-1zM51 58h1v1h-1zM54 58h1v1h-1zM67 58h1v1h-1zM69 58h1v1h-1zM87 58h1v1h-1zM9 59h1v1h-1zM19 59h1v1h-1zM37 59h1v1h-1zM40 59h1v1h-1zM43 59h1v1h-1zM48 59h1v1h-1zM59 59h1v1h-1zM67 59h2v1h-2zM76 59h2v1h-2zM80 59h1v1h-1zM97 59h1v1h-1zM3 60h1v1h-1zM17 60h1v1h-1zM25 60h1v1h-1zM39 60h1v1h-1zM43 60h1v1h-1zM46 60h1v1h-1zM52 60h1v1h-1zM55 60h1v1h-1zM57 60h1v1h-1zM82 60h1v1h-1zM10 61h1v1h-1zM17 61h1v1h-1zM41 61h1v1h-1zM46 61h1v1h-1zM65 61h1v1h-1zM69 61h1v1h-1zM84 61h1v1h-1zM8 62h1v1h-1zM19 62h1v1h-1zM28 62h1v1h-1zM76 62h1v1h-1zM5 63h1v1h-1zM9 63h2v1h-2zM22 63h3v1h-3zM48 63h1v1h-1zM50 63h1v1h-1zM56 63h1v1h-1zM59 63h1v1h-1zM70 63h1v1h-1zM76 63h1v1h-1zM16 64h1v1h-1zM32 64h1v1h-1zM56 64h1v1h-1zM68 64h1v1h-1zM96 64h2v1h-2zM8 65h1v1h-1zM12 65h1v1h-1zM25 65h1v1h-1zM27 65h1v1h-1zM48 65h1v1h-1zM56 65h1v1h-1zM68 65h1v1h-1zM75 65h1v1h-1zM82 65h1v1h-1zM6 66h1v1h-1zM29 66h1v1h-1zM53 66h2v1h-2zM57 66h1v1h-1zM59 66h1v1h-1zM75 66h1v1h-1zM12 67h1v1h-1zM16 67h2v1h-2zM23 67h1v1h-1zM25 67h1v1h-1zM79 67h1v1h-1zM48 68h1v1h-1zM61 68h1v1h-1zM64 68h1v1h-1zM5 69h2v1h-2zM14 69h1v1h-1zM21 69h1v1h-1zM32 69h1v1h-1zM38 69h2v1h-2zM41 69h1v1h-1zM43 69h1v1h-1zM45 69h1v1h-1zM48 69h1v1h-1zM51 69h1v1h-1zM59 69h1v1h-1zM69 69h1v1h-1zM20 70h1v1h-1zM24 70h1v1h-1zM60 70h1v1h-1zM75 70h1v1h-1zM79 70h1v1h-1zM46 71h1v1h-1zM55 71h1v1h-1zM65 71h1v1h-1zM79 71h1v1h-1zM13 72h1v1h-1zM27 72h1v1h-1zM39 72h1v1h-1zM41 72h1v1h-1zM47 72h2v1h-2zM60 72h1v1h-1zM92 72h1v1h-1zM7 73h1v1h-1zM17 73h1v1h-1zM29 73h1v1h-1zM37 73h1v1h-1zM44 73h1v1h-1zM48 73h1v1h-1zM53 73h1v1h-1zM59 73h1v1h-1zM82 73h1v1h-1zM13 74h1v1h-1zM35 74h1v1h-1zM53 74h1v1h-1zM55 74h1v1h-1zM76 74h1v1h-1zM81 74h2v1h-2zM11 75h1v1h-1zM76 75h1v1h-1zM12 76h1v1h-1zM18 76h1v1h-1zM24 76h1v1h-1zM26 76h1v1h-1zM30 76h1v1h-1zM58 76h1v1h-1zM69 76h1v1h-1zM81 76h1v1h-1zM4 77h1v1h-1zM12 77h1v1h-1zM18 77h1v1h-1zM23 77h1v1h-1zM25 77h1v1h-1zM42 77h1v1h-1zM62 77h1v1h-1zM65 77h2v1h-2zM70 77h1v1h-1zM74 77h1v1h-1zM85 77h1v1h-1zM17 78h1v1h-1zM24 78h1v1h-1zM48 78h1v1h-1zM56 78h1v1h-1zM61 78h1v1h-1zM12 79h1v1h-1zM34 79h1v1h-1zM43 79h1v1h-1zM52 79h1v1h-1zM80 79h2v1h-2zM9 80h1v1h-1zM13 80h1v1h-1zM25 80h1v1h-1zM40 80h1v1h-1zM42 80h1v1h-1zM45 80h1v1h-1zM59 80h1v1h-1zM61 80h1v1h-1zM65 80h1v1h-1zM75 80h1v1h-1zM92 80h1v1h-1zM8 81h3v1h-3zM30 81h1v1h-1zM34 81h1v1h-1zM58 81h2v1h-2zM76 81h2v1h-2zM9 82h1v1h-1zM18 82h2v1h-2zM26 82h1v1h-1zM55 82h2v1h-2zM59 82h1v1h-1zM65 82h1v1h-1zM9 83h1v1h-1zM16 83h1v1h-1zM19 83h1v1h-1zM28 83h1v1h-1zM55 83h1v1h-1zM70 83h1v1h-1zM81 83h1v1h-1zM21 84h1v1h-1zM27 84h1v1h-1zM37 84h1v1h-1zM49 84h1v1h-1zM59 84h1v1h-1zM68 84h1v1h-1zM70 84h1v1h-1zM80 84h1v1h-1zM10 85h1v1h-1zM14 85h2v1h-2zM17 85h1v1h-1zM33 85h2v1h-2zM36 85h2v1h-2zM66 85h1v1h-1zM68 85h1v1h-1zM70 85h1v1h-1zM82 85h1v1h-1zM8 86h1v1h-1zM29 86h2v1h-2zM37 86h1v1h-1zM59 86h1v1h-1zM68 86h1v1h-1zM81 86h1v1h-1zM20 87h1v1h-1zM24 87h1v1h-1zM27 87h1v1h-1zM58 87h1v1h-1zM64 87h2v1h-2zM82 87h1v1h-1zM91 87h1v1h-1zM93 87h1v1h-1zM3 88h1v1h-1zM54 88h2v1h-2zM48 89h1v1h-1zM64 89h1v1h-1zM89 89h1v1h-1zM18 90h1v1h-1zM25 90h1v1h-1zM43 90h1v1h-1zM50 90h1v1h-1zM66 90h1v1h-1zM68 90h1v1h-1zM98 90h1v1h-1zM11 91h1v1h-1zM18 91h2v1h-2zM60 91h1v1h-1zM63 91h1v1h-1zM69 91h1v1h-1zM76 91h1v1h-1zM14 92h1v1h-1zM23 92h1v1h-1zM28 92h1v1h-1zM45 92h1v1h-1zM57 92h1v1h-1zM67 92h1v1h-1zM21 93h1v1h-1zM34 93h1v1h-1zM45 93h1v1h-1zM60 93h1v1h-1zM67 93h1v1h-1zM74 93h1v1h-1zM59 94h2v1h-2zM31 95h1v1h-1zM42 95h1v1h-1zM46 95h1v1h-1zM52 95h1v1h-1zM58 95h1v1h-1zM62 95h1v1h-1zM75 95h1v1h-1zM20 96h1v1h-1zM42 96h2v1h-2zM47 96h1v1h-1zM56 96h1v1h-1zM59 96h1v1h-1zM67 96h2v1h-2zM76 96h1v1h-1zM78 96h1v1h-1zM16 97h1v1h-1zM25 97h1v1h-1zM27 97h1v1h-1zM37 97h1v1h-1zM42 97h1v1h-1zM45 97h1v1h-1zM54 97h1v1h-1zM60 97h1v1h-1zM15 98h1v1h-1zM26 98h1v1h-1zM28 98h1v1h-1zM37 98h1v1h-1zM60 98h1v1h-1zM64 98h1v1h-1zM67 98h1v1h-1zM71 98h1v1h-1zM85 98h1v1h-1zM31 99h1v1h-1zM37 99h1v1h-1zM79 99h1v1h-1zM22 100h1v1h-1zM24 100h1v1h-1zM32 100h1v1h-1zM37 100h1v1h-1zM40 100h2v1h-2zM44 100h1v1h-1zM49 100h1v1h-1zM54 100h1v1h-1zM56 100h1v1h-1zM61 100h1v1h-1zM65 100h1v1h-1zM68 100h1v1h-1zM80 100h1v1h-1zM41 101h1v1h-1zM55 101h1v1h-1zM65 101h1v1h-1zM74 101h1v1h-1zM78 101h2v1h-2zM81 101h1v1h-1zM32 102h1v1h-1zM35 102h1v1h-1zM40 102h1v1h-1zM46 102h1v1h-1zM48 102h1v1h-1zM55 102h1v1h-1zM63 102h1v1h-1zM67 102h1v1h-1zM79 102h1v1h-1zM20 103h1v1h-1zM37 103h1v1h-1zM45 103h2v1h-2zM63 103h1v1h-1zM69 103h1v1h-1zM76 103h1v1h-1zM78 103h1v1h-1zM98 103h1v1h-1zM11 104h1v1h-1zM28 104h1v1h-1zM54 104h1v1h-1zM59 104h1v1h-1zM67 104h1v1h-1zM78 104h1v1h-1zM25 105h1v1h-1zM29 105h1v1h-1zM37 105h1v1h-1zM60 105h1v1h-1zM73 105h1v1h-1zM75 105h1v1h-1zM14 106h1v1h-1zM28 106h1v1h-1zM55 106h1v1h-1zM59 106h1v1h-1zM65 106h1v1h-1zM77 106h1v1h-1zM92 106h1v1h-1zM26 107h1v1h-1zM37 107h1v1h-1zM48 107h1v1h-1zM52 107h2v1h-2zM67 107h1v1h-1zM74 107h1v1h-1zM81 107h1v1h-1zM12 108h1v1h-1zM31 108h1v1h-1zM36 108h2v1h-2zM48 108h1v1h-1zM50 108h1v1h-1zM54 108h1v1h-1zM56 108h2v1h-2zM67 108h2v1h-2zM71 108h1v1h-1zM73 108h1v1h-1zM78 108h1v1h-1zM83 108h1v1h-1zM101 108h1v1h-1zM44 109h1v1h-1zM57 109h1v1h-1zM61 109h1v1h-1zM76 109h2v1h-2zM80 109h1v1h-1zM26 110h1v1h-1zM56 110h1v1h-1zM69 110h1v1h-1zM74 110h2v1h-2zM80 110h1v1h-1zM84 110h1v1h-1zM29 111h1v1h-1zM43 111h1v1h-1zM46 111h1v1h-1zM49 111h1v1h-1zM53 111h1v1h-1zM59 111h1v1h-1zM10 112h2v1h-2zM13 112h1v1h-1zM24 112h1v1h-1zM37 112h1v1h-1zM43 112h1v1h-1zM48 112h1v1h-1zM54 112h2v1h-2zM58 112h1v1h-1zM65 112h1v1h-1zM68 112h1v1h-1zM30 113h1v1h-1zM43 113h1v1h-1zM48 113h1v1h-1zM54 113h1v1h-1zM59 113h2v1h-2zM63 113h1v1h-1zM69 113h1v1h-1zM76 113h1v1h-1zM24 114h1v1h-1zM27 114h1v1h-1zM60 114h1v1h-1zM73 114h1v1h-1zM101 114h1v1h-1zM16 115h1v1h-1zM26 115h1v1h-1zM29 115h1v1h-1zM43 115h1v1h-1zM48 115h1v1h-1zM54 115h1v1h-1zM69 115h1v1h-1zM81 115h2v1h-2zM9 116h2v1h-2zM26 116h1v1h-1zM49 116h1v1h-1zM6 117h1v1h-1zM21 117h1v1h-1zM24 117h1v1h-1zM30 117h1v1h-1zM43 117h1v1h-1zM45 117h1v1h-1zM49 117h1v1h-1zM51 117h2v1h-2zM56 117h1v1h-1zM59 117h1v1h-1zM17 118h1v1h-1zM25 118h1v1h-1zM36 118h2v1h-2zM40 118h1v1h-1zM45 118h1v1h-1zM60 118h1v1h-1zM67 118h1v1h-1zM82 118h1v1h-1zM45 119h1v1h-1zM50 119h1v1h-1zM55 119h1v1h-1zM57 119h1v1h-1zM68 119h1v1h-1zM73 119h1v1h-1zM84 119h1v1h-1zM88 119h1v1h-1zM27 120h1v1h-1zM44 120h1v1h-1zM58 120h1v1h-1zM82 120h1v1h-1zM88 120h1v1h-1zM13 121h1v1h-1zM28 121h1v1h-1zM37 121h1v1h-1zM46 121h1v1h-1zM67 121h2v1h-2zM11 122h1v1h-1zM22 122h1v1h-1zM41 122h1v1h-1zM49 122h1v1h-1zM60 122h1v1h-1zM77 122h1v1h-1z"/><path fill="#f8e69b" d="M8 0h1v1h-1zM14 0h1v1h-1zM24 0h1v1h-1zM34 0h1v1h-1zM64 0h1v1h-1zM75 0h1v1h-1zM81 0h1v1h-1zM83 0h1v1h-1zM92 0h2v1h-2zM97 0h1v1h-1zM14 1h1v1h-1zM16 1h1v1h-1zM28 1h1v1h-1zM43 1h1v1h-1zM55 1h1v1h-1zM57 1h1v1h-1zM67 1h1v1h-1zM86 1h1v1h-1zM91 1h1v1h-1zM99 1h1v1h-1zM32 2h1v1h-1zM37 2h1v1h-1zM64 2h1v1h-1zM86 2h1v1h-1zM92 2h1v1h-1zM94 2h2v1h-2zM5 3h1v1h-1zM9 3h1v1h-1zM24 3h1v1h-1zM50 3h1v1h-1zM55 3h1v1h-1zM62 3h2v1h-2zM65 3h1v1h-1zM69 3h1v1h-1zM77 3h1v1h-1zM84 3h3v1h-3zM88 3h1v1h-1zM5 4h1v1h-1zM14 4h2v1h-2zM24 4h1v1h-1zM30 4h1v1h-1zM50 4h1v1h-1zM68 4h1v1h-1zM71 4h1v1h-1zM95 4h1v1h-1zM98 4h1v1h-1zM100 4h2v1h-2zM0 5h1v1h-1zM15 5h1v1h-1zM25 5h1v1h-1zM32 5h1v1h-1zM35 5h1v1h-1zM43 5h1v1h-1zM57 5h1v1h-1zM64 5h1v1h-1zM77 5h1v1h-1zM80 5h1v1h-1zM93 5h1v1h-1zM95 5h1v1h-1zM12 6h1v1h-1zM16 6h1v1h-1zM29 6h1v1h-1zM37 6h1v1h-1zM43 6h1v1h-1zM76 6h1v1h-1zM84 6h1v1h-1zM58 7h1v1h-1zM11 8h1v1h-1zM32 8h1v1h-1zM64 8h1v1h-1zM92 8h1v1h-1zM97 8h1v1h-1zM16 9h2v1h-2zM48 9h1v1h-1zM64 9h2v1h-2zM76 9h1v1h-1zM80 9h1v1h-1zM84 9h1v1h-1zM92 9h1v1h-1zM5 10h1v1h-1zM32 10h1v1h-1zM60 10h1v1h-1zM62 10h1v1h-1zM85 10h1v1h-1zM10 11h1v1h-1zM14 11h1v1h-1zM25 11h1v1h-1zM28 11h1v1h-1zM31 11h1v1h-1zM33 11h1v1h-1zM54 11h1v1h-1zM11 12h1v1h-1zM17 12h1v1h-1zM53 12h1v1h-1zM64 12h1v1h-1zM75 12h1v1h-1zM81 12h2v1h-2zM97 12h1v1h-1zM25 13h2v1h-2zM33 13h1v1h-1zM48 13h1v1h-1zM51 13h1v1h-1zM54 13h1v1h-1zM67 13h1v1h-1zM69 13h1v1h-1zM82 13h3v1h-3zM97 13h1v1h-1zM10 14h1v1h-1zM14 14h1v1h-1zM25 14h1v1h-1zM60 14h1v1h-1zM80 14h1v1h-1zM83 14h1v1h-1zM89 14h2v1h-2zM92 14h1v1h-1zM14 15h1v1h-1zM21 15h1v1h-1zM36 15h1v1h-1zM49 15h1v1h-1zM54 15h1v1h-1zM61 15h1v1h-1zM84 15h2v1h-2zM90 15h1v1h-1zM14 16h1v1h-1zM37 16h1v1h-1zM50 16h1v1h-1zM57 16h1v1h-1zM59 16h1v1h-1zM80 16h1v1h-1zM87 16h1v1h-1zM97 16h1v1h-1zM0 17h2v1h-2zM16 17h1v1h-1zM32 17h1v1h-1zM49 17h1v1h-1zM66 17h1v1h-1zM77 17h1v1h-1zM83 17h1v1h-1zM89 17h2v1h-2zM97 17h1v1h-1zM0 18h1v1h-1zM13 18h1v1h-1zM33 18h1v1h-1zM47 18h2v1h-2zM55 18h1v1h-1zM57 18h1v1h-1zM83 18h2v1h-2zM97 18h1v1h-1zM101 18h1v1h-1zM17 19h1v1h-1zM19 19h1v1h-1zM23 19h1v1h-1zM29 19h1v1h-1zM57 19h1v1h-1zM59 19h1v1h-1zM67 19h1v1h-1zM77 19h1v1h-1zM84 19h2v1h-2zM90 19h1v1h-1zM101 19h1v1h-1zM3 20h1v1h-1zM6 20h1v1h-1zM32 20h1v1h-1zM59 20h2v1h-2zM77 20h1v1h-1zM82 20h1v1h-1zM93 20h1v1h-1zM98 20h1v1h-1zM100 20h1v1h-1zM5 21h1v1h-1zM67 21h1v1h-1zM73 21h1v1h-1zM82 21h2v1h-2zM88 21h2v1h-2zM98 21h1v1h-1zM5 22h1v1h-1zM10 22h1v1h-1zM22 22h1v1h-1zM37 22h1v1h-1zM51 22h1v1h-1zM90 22h1v1h-1zM99 22h1v1h-1zM8 23h1v1h-1zM11 23h1v1h-1zM26 23h1v1h-1zM59 23h1v1h-1zM61 23h1v1h-1zM64 23h1v1h-1zM85 23h1v1h-1zM93 23h1v1h-1zM6 24h1v1h-1zM9 24h1v1h-1zM26 24h1v1h-1zM43 24h1v1h-1zM64 24h1v1h-1zM67 24h1v1h-1zM71 24h1v1h-1zM73 24h1v1h-1zM92 24h1v1h-1zM1 25h1v1h-1zM6 25h1v1h-1zM22 25h1v1h-1zM26 25h1v1h-1zM54 25h1v1h-1zM64 25h1v1h-1zM69 25h1v1h-1zM76 25h1v1h-1zM82 25h2v1h-2zM9 26h1v1h-1zM57 26h1v1h-1zM77 26h1v1h-1zM85 26h1v1h-1zM95 26h1v1h-1zM98 26h1v1h-1zM12 27h1v1h-1zM14 27h1v1h-1zM31 27h1v1h-1zM39 27h1v1h-1zM42 27h1v1h-1zM70 27h1v1h-1zM77 27h1v1h-1zM94 27h1v1h-1zM43 28h1v1h-1zM48 28h1v1h-1zM75 28h1v1h-1zM77 28h1v1h-1zM82 28h1v1h-1zM84 28h1v1h-1zM94 28h1v1h-1zM97 28h1v1h-1zM100 28h1v1h-1zM29 29h1v1h-1zM32 29h1v1h-1zM56 29h1v1h-1zM67 29h1v1h-1zM21 30h1v1h-1zM23 30h1v1h-1zM44 30h1v1h-1zM48 30h1v1h-1zM60 30h1v1h-1zM65 30h1v1h-1zM83 30h1v1h-1zM94 30h1v1h-1zM99 30h2v1h-2zM37 31h1v1h-1zM54 31h2v1h-2zM57 31h1v1h-1zM84 31h2v1h-2zM87 31h1v1h-1zM93 31h1v1h-1zM97 31h1v1h-1zM6 32h1v1h-1zM14 32h1v1h-1zM16 32h1v1h-1zM22 32h1v1h-1zM27 32h1v1h-1zM82 32h2v1h-2zM86 32h2v1h-2zM91 32h1v1h-1zM95 32h2v1h-2zM10 33h1v1h-1zM23 33h1v1h-1zM27 33h1v1h-1zM31 33h1v1h-1zM43 33h1v1h-1zM54 33h1v1h-1zM80 33h1v1h-1zM87 33h1v1h-1zM92 33h1v1h-1zM32 34h1v1h-1zM67 34h1v1h-1zM69 34h1v1h-1zM87 34h1v1h-1zM89 34h1v1h-1zM95 34h1v1h-1zM3 35h1v1h-1zM5 35h1v1h-1zM8 35h1v1h-1zM40 35h1v1h-1zM44 35h1v1h-1zM67 35h1v1h-1zM80 35h1v1h-1zM9 36h1v1h-1zM12 36h1v1h-1zM32 36h1v1h-1zM34 36h1v1h-1zM44 36h1v1h-1zM47 36h1v1h-1zM55 36h1v1h-1zM60 36h1v1h-1zM1 37h1v1h-1zM3 37h1v1h-1zM24 37h1v1h-1zM32 37h1v1h-1zM37 37h1v1h-1zM42 37h1v1h-1zM56 37h1v1h-1zM24 38h1v1h-1zM42 38h1v1h-1zM52 38h1v1h-1zM60 38h1v1h-1zM64 38h1v1h-1zM77 38h1v1h-1zM19 39h1v1h-1zM48 39h1v1h-1zM97 39h1v1h-1zM15 40h1v1h-1zM18 40h1v1h-1zM49 40h1v1h-1zM67 40h1v1h-1zM12 41h1v1h-1zM35 41h1v1h-1zM43 41h1v1h-1zM58 41h3v1h-3zM67 41h1v1h-1zM77 41h2v1h-2zM14 42h1v1h-1zM16 42h1v1h-1zM24 42h1v1h-1zM36 42h1v1h-1zM57 42h1v1h-1zM75 42h1v1h-1zM96 42h1v1h-1zM100 42h1v1h-1zM26 43h1v1h-1zM49 43h1v1h-1zM68 43h1v1h-1zM70 43h1v1h-1zM72 43h1v1h-1zM82 43h1v1h-1zM86 43h1v1h-1zM16 44h1v1h-1zM37 44h1v1h-1zM55 44h1v1h-1zM62 44h1v1h-1zM64 44h1v1h-1zM82 44h1v1h-1zM91 44h1v1h-1zM100 44h1v1h-1zM10 45h1v1h-1zM58 45h1v1h-1zM69 45h1v1h-1zM88 45h1v1h-1zM0 46h1v1h-1zM14 46h1v1h-1zM19 46h1v1h-1zM0 47h1v1h-1zM8 47h1v1h-1zM10 47h1v1h-1zM46 47h1v1h-1zM48 47h1v1h-1zM51 47h1v1h-1zM54 47h1v1h-1zM57 47h1v1h-1zM59 47h1v1h-1zM65 47h1v1h-1zM91 47h1v1h-1zM14 48h1v1h-1zM45 48h1v1h-1zM64 48h2v1h-2zM83 48h1v1h-1zM24 49h1v1h-1zM68 49h1v1h-1zM91 49h1v1h-1zM23 50h1v1h-1zM36 50h1v1h-1zM43 50h1v1h-1zM60 50h1v1h-1zM65 50h1v1h-1zM76 50h3v1h-3zM3 51h1v1h-1zM48 51h1v1h-1zM76 51h1v1h-1zM82 51h1v1h-1zM6 52h1v1h-1zM17 52h1v1h-1zM25 52h1v1h-1zM68 52h1v1h-1zM93 52h1v1h-1zM6 53h1v1h-1zM18 53h1v1h-1zM30 53h2v1h-2zM44 53h1v1h-1zM76 53h1v1h-1zM10 54h1v1h-1zM37 54h1v1h-1zM59 54h1v1h-1zM77 54h1v1h-1zM23 55h1v1h-1zM56 55h1v1h-1zM73 55h1v1h-1zM82 55h1v1h-1zM10 56h1v1h-1zM82 56h1v1h-1zM42 57h1v1h-1zM44 57h1v1h-1zM52 57h1v1h-1zM57 57h1v1h-1zM73 57h1v1h-1zM77 57h1v1h-1zM5 58h1v1h-1zM36 58h1v1h-1zM45 58h1v1h-1zM48 58h1v1h-1zM56 58h1v1h-1zM59 58h1v1h-1zM15 59h1v1h-1zM24 59h1v1h-1zM39 59h1v1h-1zM42 59h1v1h-1zM44 59h1v1h-1zM57 59h1v1h-1zM60 59h1v1h-1zM47 60h1v1h-1zM56 60h1v1h-1zM76 60h1v1h-1zM8 61h2v1h-2zM48 61h2v1h-2zM54 61h1v1h-1zM77 61h1v1h-1zM82 61h1v1h-1zM24 62h1v1h-1zM57 62h1v1h-1zM67 62h1v1h-1zM83 62h1v1h-1zM6 63h1v1h-1zM15 63h1v1h-1zM18 63h1v1h-1zM57 63h1v1h-1zM6 64h1v1h-1zM9 64h2v1h-2zM48 64h1v1h-1zM64 64h1v1h-1zM66 64h1v1h-1zM10 65h1v1h-1zM15 65h1v1h-1zM32 65h1v1h-1zM43 65h1v1h-1zM55 65h1v1h-1zM66 65h1v1h-1zM69 65h1v1h-1zM81 65h1v1h-1zM23 66h1v1h-1zM67 66h1v1h-1zM77 66h1v1h-1zM81 66h1v1h-1zM84 66h1v1h-1zM75 67h1v1h-1zM32 68h1v1h-1zM57 68h1v1h-1zM67 68h1v1h-1zM19 69h1v1h-1zM23 69h2v1h-2zM29 69h1v1h-1zM50 69h1v1h-1zM60 69h1v1h-1zM65 69h1v1h-1zM14 70h2v1h-2zM58 70h1v1h-1zM26 71h1v1h-1zM57 71h1v1h-1zM59 71h1v1h-1zM15 72h1v1h-1zM24 72h1v1h-1zM67 72h1v1h-1zM6 73h1v1h-1zM13 73h1v1h-1zM18 73h1v1h-1zM21 73h1v1h-1zM60 73h1v1h-1zM89 73h1v1h-1zM93 73h1v1h-1zM100 73h1v1h-1zM9 74h1v1h-1zM18 74h1v1h-1zM27 74h1v1h-1zM37 74h1v1h-1zM47 74h1v1h-1zM75 74h1v1h-1zM78 74h1v1h-1zM8 75h1v1h-1zM57 75h1v1h-1zM75 75h1v1h-1zM78 75h1v1h-1zM10 76h1v1h-1zM17 76h1v1h-1zM19 76h1v1h-1zM25 76h1v1h-1zM64 76h1v1h-1zM0 77h1v1h-1zM59 77h1v1h-1zM76 77h2v1h-2zM96 77h1v1h-1zM21 78h1v1h-1zM37 78h1v1h-1zM67 78h2v1h-2zM11 79h1v1h-1zM13 79h1v1h-1zM23 79h1v1h-1zM25 79h1v1h-1zM77 79h1v1h-1zM88 79h1v1h-1zM22 80h1v1h-1zM67 80h1v1h-1zM6 81h1v1h-1zM21 81h1v1h-1zM44 81h1v1h-1zM64 81h1v1h-1zM67 81h1v1h-1zM78 81h1v1h-1zM99 81h1v1h-1zM6 82h1v1h-1zM54 82h1v1h-1zM76 82h1v1h-1zM83 82h1v1h-1zM6 83h1v1h-1zM26 83h1v1h-1zM38 83h1v1h-1zM46 83h1v1h-1zM52 83h1v1h-1zM56 83h2v1h-2zM64 83h1v1h-1zM76 83h1v1h-1zM0 84h1v1h-1zM11 84h1v1h-1zM23 84h1v1h-1zM58 84h1v1h-1zM60 84h1v1h-1zM75 84h1v1h-1zM82 84h1v1h-1zM98 84h1v1h-1zM27 85h1v1h-1zM46 85h1v1h-1zM72 85h1v1h-1zM77 85h1v1h-1zM93 85h1v1h-1zM10 86h1v1h-1zM14 86h1v1h-1zM43 86h1v1h-1zM54 86h1v1h-1zM57 86h1v1h-1zM78 86h1v1h-1zM9 87h1v1h-1zM17 87h1v1h-1zM26 87h1v1h-1zM28 87h2v1h-2zM67 87h1v1h-1zM78 87h1v1h-1zM10 88h1v1h-1zM18 88h1v1h-1zM43 88h1v1h-1zM46 88h1v1h-1zM57 88h1v1h-1zM82 88h1v1h-1zM28 89h1v1h-1zM43 89h2v1h-2zM60 89h1v1h-1zM65 89h1v1h-1zM97 89h1v1h-1zM15 90h1v1h-1zM26 90h1v1h-1zM48 90h1v1h-1zM60 90h1v1h-1zM64 90h2v1h-2zM75 90h1v1h-1zM82 90h1v1h-1zM25 91h1v1h-1zM68 91h1v1h-1zM71 91h1v1h-1zM77 91h1v1h-1zM89 91h1v1h-1zM34 92h1v1h-1zM37 92h1v1h-1zM68 92h1v1h-1zM79 92h1v1h-1zM27 93h1v1h-1zM44 93h1v1h-1zM48 93h1v1h-1zM57 93h1v1h-1zM59 93h1v1h-1zM76 93h1v1h-1zM34 94h1v1h-1zM65 94h1v1h-1zM76 94h1v1h-1zM13 95h1v1h-1zM37 95h1v1h-1zM19 96h1v1h-1zM24 96h2v1h-2zM30 96h1v1h-1zM37 96h1v1h-1zM17 97h1v1h-1zM41 97h1v1h-1zM57 97h1v1h-1zM13 98h1v1h-1zM27 98h1v1h-1zM29 98h1v1h-1zM31 98h1v1h-1zM48 98h1v1h-1zM53 98h1v1h-1zM74 98h1v1h-1zM70 99h1v1h-1zM86 99h1v1h-1zM21 100h1v1h-1zM25 100h1v1h-1zM28 100h2v1h-2zM58 100h1v1h-1zM60 100h1v1h-1zM73 100h1v1h-1zM82 100h1v1h-1zM29 101h1v1h-1zM42 101h1v1h-1zM57 101h1v1h-1zM67 101h1v1h-1zM77 101h1v1h-1zM16 102h1v1h-1zM37 102h1v1h-1zM76 102h1v1h-1zM36 103h1v1h-1zM60 103h1v1h-1zM64 103h1v1h-1zM73 103h1v1h-1zM75 103h1v1h-1zM77 103h1v1h-1zM80 103h1v1h-1zM82 103h1v1h-1zM14 104h1v1h-1zM29 104h1v1h-1zM31 104h1v1h-1zM45 104h1v1h-1zM60 104h1v1h-1zM63 104h1v1h-1zM71 104h1v1h-1zM46 105h1v1h-1zM76 105h1v1h-1zM25 106h1v1h-1zM36 106h1v1h-1zM60 106h1v1h-1zM14 107h1v1h-1zM24 107h1v1h-1zM31 107h3v1h-3zM59 107h1v1h-1zM68 107h1v1h-1zM47 108h1v1h-1zM64 108h2v1h-2zM75 108h1v1h-1zM77 108h1v1h-1zM14 109h1v1h-1zM28 109h1v1h-1zM33 109h1v1h-1zM51 109h1v1h-1zM67 109h1v1h-1zM75 109h1v1h-1zM15 110h1v1h-1zM45 110h1v1h-1zM64 110h1v1h-1zM71 110h1v1h-1zM14 111h1v1h-1zM16 111h1v1h-1zM24 111h1v1h-1zM45 111h1v1h-1zM42 112h1v1h-1zM59 112h1v1h-1zM24 113h1v1h-1zM27 113h1v1h-1zM34 113h1v1h-1zM45 113h1v1h-1zM77 113h1v1h-1zM17 114h1v1h-1zM25 114h1v1h-1zM45 114h1v1h-1zM48 114h1v1h-1zM77 114h1v1h-1zM81 114h1v1h-1zM28 115h1v1h-1zM41 115h1v1h-1zM32 116h1v1h-1zM45 116h1v1h-1zM60 116h1v1h-1zM75 116h1v1h-1zM8 117h1v1h-1zM10 117h1v1h-1zM60 117h1v1h-1zM67 117h1v1h-1zM71 117h1v1h-1zM9 118h2v1h-2zM39 118h1v1h-1zM43 118h1v1h-1zM54 118h2v1h-2zM76 118h1v1h-1zM24 119h1v1h-1zM37 119h1v1h-1zM65 119h1v1h-1zM71 119h1v1h-1zM80 119h1v1h-1zM54 120h1v1h-1zM57 120h1v1h-1zM76 120h1v1h-1zM18 121h1v1h-1zM24 121h1v1h-1zM32 121h1v1h-1zM41 121h1v1h-1zM60 121h1v1h-1zM82 121h1v1h-1zM8 122h1v1h-1zM10 122h1v1h-1zM23 122h1v1h-1zM26 122h1v1h-1zM57 122h1v1h-1zM88 122h1v1h-1z"/><path fill="#f7e096" d="M37 0h1v1h-1zM40 0h1v1h-1zM65 0h1v1h-1zM86 0h2v1h-2zM90 0h2v1h-2zM99 0h2v1h-2zM46 1h1v1h-1zM70 1h1v1h-1zM83 1h2v1h-2zM98 1h1v1h-1zM100 1h1v1h-1zM65 2h1v1h-1zM84 2h1v1h-1zM15 3h1v1h-1zM42 3h1v1h-1zM83 3h1v1h-1zM87 3h1v1h-1zM90 3h1v1h-1zM95 3h1v1h-1zM97 3h2v1h-2zM17 4h1v1h-1zM67 4h1v1h-1zM77 4h1v1h-1zM81 4h1v1h-1zM83 4h1v1h-1zM89 4h3v1h-3zM94 4h1v1h-1zM1 5h1v1h-1zM16 5h1v1h-1zM48 5h1v1h-1zM50 5h1v1h-1zM82 5h1v1h-1zM92 5h1v1h-1zM98 5h1v1h-1zM100 5h2v1h-2zM11 6h1v1h-1zM20 6h1v1h-1zM54 6h1v1h-1zM60 6h1v1h-1zM91 7h1v1h-1zM58 8h1v1h-1zM47 9h1v1h-1zM77 9h1v1h-1zM83 10h1v1h-1zM100 10h1v1h-1zM59 11h2v1h-2zM1 12h1v1h-1zM15 12h1v1h-1zM20 14h1v1h-1zM77 14h1v1h-1zM84 14h1v1h-1zM94 14h1v1h-1zM100 14h1v1h-1zM10 15h1v1h-1zM23 15h1v1h-1zM50 15h1v1h-1zM65 15h1v1h-1zM67 15h2v1h-2zM71 15h1v1h-1zM86 15h1v1h-1zM94 15h2v1h-2zM54 16h2v1h-2zM71 16h1v1h-1zM77 16h1v1h-1zM85 16h1v1h-1zM8 17h1v1h-1zM10 17h1v1h-1zM46 17h1v1h-1zM64 17h1v1h-1zM70 17h1v1h-1zM84 17h1v1h-1zM87 17h1v1h-1zM94 17h1v1h-1zM100 17h1v1h-1zM14 18h1v1h-1zM32 18h1v1h-1zM43 18h2v1h-2zM77 18h1v1h-1zM82 18h1v1h-1zM87 18h2v1h-2zM98 18h1v1h-1zM1 19h1v1h-1zM9 19h1v1h-1zM20 19h1v1h-1zM32 19h1v1h-1zM43 19h1v1h-1zM73 19h1v1h-1zM83 19h1v1h-1zM29 20h1v1h-1zM48 20h1v1h-1zM95 20h1v1h-1zM14 21h1v1h-1zM19 21h1v1h-1zM37 21h1v1h-1zM44 21h1v1h-1zM76 21h1v1h-1zM91 21h1v1h-1zM94 21h1v1h-1zM96 21h1v1h-1zM100 21h1v1h-1zM32 22h1v1h-1zM57 22h1v1h-1zM83 22h1v1h-1zM14 23h1v1h-1zM36 23h1v1h-1zM2 24h1v1h-1zM15 24h1v1h-1zM32 24h1v1h-1zM79 24h1v1h-1zM85 24h1v1h-1zM10 25h1v1h-1zM15 25h1v1h-1zM24 25h1v1h-1zM77 25h1v1h-1zM6 26h1v1h-1zM86 26h1v1h-1zM6 27h1v1h-1zM15 27h1v1h-1zM67 27h1v1h-1zM82 27h2v1h-2zM99 27h1v1h-1zM10 28h1v1h-1zM76 28h1v1h-1zM86 28h4v1h-4zM96 28h1v1h-1zM3 29h1v1h-1zM5 29h1v1h-1zM8 29h1v1h-1zM31 29h1v1h-1zM64 29h1v1h-1zM95 29h1v1h-1zM14 30h1v1h-1zM26 30h1v1h-1zM43 30h1v1h-1zM58 30h1v1h-1zM85 30h1v1h-1zM6 31h1v1h-1zM12 31h1v1h-1zM14 31h1v1h-1zM40 31h1v1h-1zM59 31h1v1h-1zM83 31h1v1h-1zM15 32h1v1h-1zM59 32h1v1h-1zM77 32h1v1h-1zM84 32h1v1h-1zM90 32h1v1h-1zM14 33h1v1h-1zM47 33h1v1h-1zM49 33h1v1h-1zM77 33h1v1h-1zM84 33h1v1h-1zM7 34h1v1h-1zM71 34h1v1h-1zM76 34h2v1h-2zM96 34h1v1h-1zM13 35h1v1h-1zM84 35h1v1h-1zM98 35h1v1h-1zM35 36h1v1h-1zM14 37h1v1h-1zM27 37h1v1h-1zM68 37h1v1h-1zM83 37h1v1h-1zM19 38h1v1h-1zM28 38h1v1h-1zM24 39h1v1h-1zM26 39h1v1h-1zM29 39h1v1h-1zM54 39h1v1h-1zM80 39h1v1h-1zM82 39h1v1h-1zM87 39h1v1h-1zM32 40h1v1h-1zM54 40h1v1h-1zM68 40h1v1h-1zM82 40h1v1h-1zM17 41h1v1h-1zM24 41h1v1h-1zM41 41h1v1h-1zM20 42h1v1h-1zM37 42h1v1h-1zM59 42h1v1h-1zM89 42h1v1h-1zM25 43h1v1h-1zM43 43h1v1h-1zM47 43h1v1h-1zM57 43h1v1h-1zM76 43h2v1h-2zM83 43h1v1h-1zM24 44h1v1h-1zM44 44h1v1h-1zM60 44h1v1h-1zM63 44h1v1h-1zM65 44h1v1h-1zM84 44h1v1h-1zM14 45h1v1h-1zM20 45h1v1h-1zM64 45h1v1h-1zM76 45h1v1h-1zM100 45h1v1h-1zM12 46h1v1h-1zM16 46h1v1h-1zM43 46h1v1h-1zM57 46h1v1h-1zM67 46h1v1h-1zM77 46h1v1h-1zM83 46h1v1h-1zM32 47h1v1h-1zM39 47h1v1h-1zM76 47h1v1h-1zM85 47h1v1h-1zM89 47h1v1h-1zM92 47h1v1h-1zM94 47h1v1h-1zM96 47h1v1h-1zM31 48h1v1h-1zM97 48h1v1h-1zM101 48h1v1h-1zM14 49h1v1h-1zM23 49h1v1h-1zM27 49h1v1h-1zM34 49h1v1h-1zM46 49h1v1h-1zM60 49h1v1h-1zM81 49h1v1h-1zM89 49h1v1h-1zM97 49h1v1h-1zM21 50h1v1h-1zM70 50h1v1h-1zM82 50h1v1h-1zM93 50h1v1h-1zM10 51h1v1h-1zM30 51h1v1h-1zM75 51h1v1h-1zM21 52h1v1h-1zM59 52h1v1h-1zM19 53h1v1h-1zM34 53h1v1h-1zM60 53h1v1h-1zM67 53h1v1h-1zM82 53h1v1h-1zM31 54h2v1h-2zM48 54h1v1h-1zM84 55h1v1h-1zM20 56h1v1h-1zM33 56h1v1h-1zM50 56h1v1h-1zM77 56h1v1h-1zM19 57h1v1h-1zM59 57h1v1h-1zM63 57h1v1h-1zM67 57h1v1h-1zM70 57h1v1h-1zM37 58h1v1h-1zM43 58h1v1h-1zM57 58h1v1h-1zM60 58h1v1h-1zM80 58h1v1h-1zM82 58h1v1h-1zM97 58h1v1h-1zM10 60h1v1h-1zM24 60h1v1h-1zM40 60h1v1h-1zM68 60h1v1h-1zM44 61h1v1h-1zM57 61h1v1h-1zM96 61h1v1h-1zM9 62h1v1h-1zM44 62h1v1h-1zM54 62h1v1h-1zM68 62h1v1h-1zM78 62h1v1h-1zM67 63h1v1h-1zM77 63h1v1h-1zM18 64h1v1h-1zM57 64h1v1h-1zM18 65h1v1h-1zM52 65h1v1h-1zM59 65h1v1h-1zM73 65h1v1h-1zM87 65h1v1h-1zM21 66h1v1h-1zM25 66h2v1h-2zM30 66h1v1h-1zM64 66h1v1h-1zM8 67h1v1h-1zM47 67h1v1h-1zM57 67h1v1h-1zM9 68h1v1h-1zM54 68h1v1h-1zM65 68h1v1h-1zM82 68h1v1h-1zM49 69h1v1h-1zM37 70h1v1h-1zM42 70h1v1h-1zM68 70h1v1h-1zM14 71h2v1h-2zM17 71h1v1h-1zM19 71h1v1h-1zM54 71h1v1h-1zM75 71h3v1h-3zM5 72h1v1h-1zM19 72h1v1h-1zM44 72h1v1h-1zM59 72h1v1h-1zM80 72h1v1h-1zM43 74h1v1h-1zM48 74h1v1h-1zM54 74h1v1h-1zM57 74h1v1h-1zM64 74h1v1h-1zM67 74h1v1h-1zM43 75h1v1h-1zM54 75h1v1h-1zM67 75h1v1h-1zM99 75h1v1h-1zM14 76h1v1h-1zM23 76h1v1h-1zM56 76h1v1h-1zM71 76h1v1h-1zM75 76h1v1h-1zM77 76h1v1h-1zM11 77h1v1h-1zM19 77h1v1h-1zM54 77h1v1h-1zM59 78h1v1h-1zM101 78h1v1h-1zM31 79h1v1h-1zM77 80h1v1h-1zM80 80h1v1h-1zM19 81h1v1h-1zM33 81h1v1h-1zM57 81h1v1h-1zM60 81h1v1h-1zM74 81h1v1h-1zM64 82h1v1h-1zM77 82h1v1h-1zM43 83h1v1h-1zM74 83h1v1h-1zM3 84h1v1h-1zM10 84h1v1h-1zM14 84h1v1h-1zM16 84h1v1h-1zM34 84h1v1h-1zM45 84h1v1h-1zM22 85h1v1h-1zM57 85h1v1h-1zM71 85h1v1h-1zM25 86h1v1h-1zM64 86h1v1h-1zM77 86h1v1h-1zM11 88h1v1h-1zM64 88h1v1h-1zM75 88h1v1h-1zM80 88h1v1h-1zM14 89h2v1h-2zM24 89h1v1h-1zM45 89h1v1h-1zM59 90h1v1h-1zM77 90h1v1h-1zM5 91h1v1h-1zM32 91h1v1h-1zM57 91h1v1h-1zM64 91h1v1h-1zM70 91h1v1h-1zM51 92h1v1h-1zM56 92h1v1h-1zM60 92h1v1h-1zM76 92h1v1h-1zM6 93h1v1h-1zM14 93h1v1h-1zM48 94h1v1h-1zM15 95h1v1h-1zM24 95h1v1h-1zM54 95h1v1h-1zM59 95h1v1h-1zM67 95h2v1h-2zM51 96h1v1h-1zM82 96h1v1h-1zM93 96h1v1h-1zM15 97h1v1h-1zM32 97h1v1h-1zM62 97h1v1h-1zM67 97h1v1h-1zM75 97h1v1h-1zM54 99h1v1h-1zM57 99h1v1h-1zM64 99h1v1h-1zM67 100h1v1h-1zM22 101h1v1h-1zM80 101h1v1h-1zM25 102h1v1h-1zM31 102h1v1h-1zM5 103h1v1h-1zM33 103h1v1h-1zM39 103h1v1h-1zM57 103h1v1h-1zM15 104h1v1h-1zM37 104h1v1h-1zM56 104h1v1h-1zM76 104h1v1h-1zM16 105h1v1h-1zM77 105h1v1h-1zM57 106h1v1h-1zM76 106h1v1h-1zM42 107h1v1h-1zM59 108h1v1h-1zM8 109h1v1h-1zM53 109h1v1h-1zM29 110h1v1h-1zM78 110h1v1h-1zM11 111h1v1h-1zM36 111h1v1h-1zM60 111h1v1h-1zM76 111h1v1h-1zM78 111h1v1h-1zM82 111h1v1h-1zM67 112h1v1h-1zM82 112h1v1h-1zM101 112h1v1h-1zM15 113h1v1h-1zM65 113h1v1h-1zM54 114h1v1h-1zM56 114h1v1h-1zM76 114h1v1h-1zM82 114h1v1h-1zM10 115h1v1h-1zM76 115h1v1h-1zM64 116h1v1h-1zM77 116h1v1h-1zM54 117h1v1h-1zM76 117h1v1h-1zM26 118h1v1h-1zM44 118h1v1h-1zM65 118h1v1h-1zM77 118h2v1h-2zM99 118h1v1h-1zM33 119h1v1h-1zM42 119h1v1h-1zM67 119h1v1h-1zM36 120h1v1h-1zM78 120h1v1h-1zM5 121h1v1h-1zM9 121h1v1h-1zM54 121h1v1h-1zM25 122h1v1h-1zM48 122h1v1h-1zM59 122h1v1h-1zM71 122h1v1h-1z"/><path fill="#f7db90" d="M57 0h1v1h-1zM76 0h1v1h-1zM94 0h1v1h-1zM15 1h1v1h-1zM85 1h1v1h-1zM87 1h1v1h-1zM11 2h1v1h-1zM26 2h1v1h-1zM76 2h2v1h-2zM82 2h1v1h-1zM57 3h1v1h-1zM82 3h1v1h-1zM89 3h1v1h-1zM99 3h1v1h-1zM76 4h1v1h-1zM10 5h1v1h-1zM65 5h1v1h-1zM76 5h1v1h-1zM84 5h1v1h-1zM86 5h1v1h-1zM88 6h1v1h-1zM95 6h1v1h-1zM25 7h2v1h-2zM86 7h1v1h-1zM14 8h1v1h-1zM37 8h1v1h-1zM73 8h1v1h-1zM76 8h2v1h-2zM10 9h1v1h-1zM14 9h1v1h-1zM32 9h1v1h-1zM60 9h1v1h-1zM87 9h1v1h-1zM98 9h1v1h-1zM29 10h1v1h-1zM48 10h1v1h-1zM65 10h1v1h-1zM57 11h1v1h-1zM57 12h1v1h-1zM72 12h1v1h-1zM15 13h1v1h-1zM44 13h1v1h-1zM77 13h1v1h-1zM101 14h1v1h-1zM0 15h1v1h-1zM43 15h1v1h-1zM59 15h1v1h-1zM11 16h1v1h-1zM60 16h1v1h-1zM96 16h1v1h-1zM57 17h1v1h-1zM76 17h1v1h-1zM86 17h1v1h-1zM88 17h1v1h-1zM76 18h1v1h-1zM100 18h1v1h-1zM88 19h1v1h-1zM100 19h1v1h-1zM24 20h1v1h-1zM31 20h1v1h-1zM57 20h1v1h-1zM91 20h1v1h-1zM101 20h1v1h-1zM39 21h1v1h-1zM14 22h1v1h-1zM25 22h1v1h-1zM59 22h1v1h-1zM82 22h1v1h-1zM85 22h1v1h-1zM92 22h1v1h-1zM43 23h1v1h-1zM92 23h1v1h-1zM76 24h1v1h-1zM82 24h2v1h-2zM14 25h1v1h-1zM20 25h1v1h-1zM94 25h1v1h-1zM0 26h1v1h-1zM10 26h1v1h-1zM25 26h1v1h-1zM62 26h1v1h-1zM94 26h1v1h-1zM100 26h1v1h-1zM9 27h1v1h-1zM24 27h1v1h-1zM32 27h1v1h-1zM49 27h1v1h-1zM55 27h1v1h-1zM64 27h1v1h-1zM93 27h1v1h-1zM98 27h1v1h-1zM101 27h1v1h-1zM28 28h1v1h-1zM37 28h1v1h-1zM62 28h1v1h-1zM83 28h1v1h-1zM14 29h1v1h-1zM19 29h1v1h-1zM96 29h1v1h-1zM55 30h1v1h-1zM59 30h1v1h-1zM67 30h1v1h-1zM76 30h1v1h-1zM79 30h1v1h-1zM84 30h1v1h-1zM93 30h1v1h-1zM8 31h1v1h-1zM62 31h1v1h-1zM76 31h2v1h-2zM64 32h1v1h-1zM72 32h1v1h-1zM85 32h1v1h-1zM93 32h1v1h-1zM101 32h1v1h-1zM2 33h1v1h-1zM14 34h1v1h-1zM68 34h1v1h-1zM78 34h1v1h-1zM93 35h1v1h-1zM0 36h1v1h-1zM5 37h2v1h-2zM12 37h1v1h-1zM73 37h1v1h-1zM13 38h1v1h-1zM20 38h1v1h-1zM70 38h1v1h-1zM7 39h1v1h-1zM14 39h2v1h-2zM27 39h1v1h-1zM64 39h1v1h-1zM84 39h1v1h-1zM65 40h1v1h-1zM77 40h1v1h-1zM62 41h1v1h-1zM10 42h1v1h-1zM76 42h1v1h-1zM83 42h1v1h-1zM93 42h1v1h-1zM6 43h1v1h-1zM81 44h1v1h-1zM67 45h1v1h-1zM9 46h1v1h-1zM28 46h1v1h-1zM64 46h1v1h-1zM82 46h1v1h-1zM84 46h1v1h-1zM14 47h1v1h-1zM17 47h1v1h-1zM28 47h1v1h-1zM45 47h1v1h-1zM69 47h1v1h-1zM46 48h1v1h-1zM54 48h1v1h-1zM76 48h1v1h-1zM88 48h1v1h-1zM40 49h1v1h-1zM59 49h1v1h-1zM99 49h1v1h-1zM96 50h1v1h-1zM9 51h1v1h-1zM25 51h1v1h-1zM27 51h1v1h-1zM32 51h1v1h-1zM39 51h1v1h-1zM19 52h1v1h-1zM76 52h1v1h-1zM17 53h1v1h-1zM48 53h1v1h-1zM59 53h1v1h-1zM24 54h1v1h-1zM43 54h1v1h-1zM55 54h1v1h-1zM65 54h1v1h-1zM15 55h1v1h-1zM22 55h1v1h-1zM57 55h1v1h-1zM32 56h1v1h-1zM5 57h1v1h-1zM37 57h1v1h-1zM56 57h1v1h-1zM8 59h1v1h-1zM74 59h1v1h-1zM67 61h1v1h-1zM76 61h1v1h-1zM43 62h1v1h-1zM65 62h1v1h-1zM25 63h1v1h-1zM31 63h1v1h-1zM38 63h1v1h-1zM3 64h1v1h-1zM14 64h1v1h-1zM26 64h1v1h-1zM60 64h1v1h-1zM76 65h1v1h-1zM15 66h1v1h-1zM24 66h1v1h-1zM21 67h1v1h-1zM43 67h1v1h-1zM77 67h1v1h-1zM27 68h1v1h-1zM33 69h1v1h-1zM77 69h1v1h-1zM65 70h1v1h-1zM9 75h1v1h-1zM14 75h1v1h-1zM31 75h1v1h-1zM57 76h1v1h-1zM65 76h1v1h-1zM75 77h1v1h-1zM81 78h1v1h-1zM0 79h1v1h-1zM60 79h1v1h-1zM26 80h1v1h-1zM71 80h1v1h-1zM82 80h1v1h-1zM46 81h2v1h-2zM54 81h1v1h-1zM34 82h1v1h-1zM37 82h1v1h-1zM43 82h1v1h-1zM48 82h1v1h-1zM70 82h1v1h-1zM82 82h1v1h-1zM5 83h1v1h-1zM54 83h1v1h-1zM65 83h1v1h-1zM42 84h1v1h-1zM57 84h1v1h-1zM9 85h1v1h-1zM32 85h1v1h-1zM54 85h1v1h-1zM67 85h1v1h-1zM24 86h1v1h-1zM77 87h1v1h-1zM34 88h1v1h-1zM67 88h1v1h-1zM82 89h1v1h-1zM14 90h1v1h-1zM17 90h1v1h-1zM46 90h1v1h-1zM76 90h1v1h-1zM67 91h1v1h-1zM27 92h1v1h-1zM28 93h1v1h-1zM50 93h1v1h-1zM43 94h1v1h-1zM77 94h1v1h-1zM14 95h1v1h-1zM39 95h1v1h-1zM57 95h1v1h-1zM45 96h1v1h-1zM54 96h1v1h-1zM14 98h1v1h-1zM24 98h1v1h-1zM42 98h1v1h-1zM77 98h1v1h-1zM8 99h1v1h-1zM55 99h1v1h-1zM24 102h1v1h-1zM77 102h1v1h-1zM82 102h1v1h-1zM43 103h1v1h-1zM47 103h1v1h-1zM54 103h1v1h-1zM24 104h1v1h-1zM38 104h1v1h-1zM55 104h1v1h-1zM77 104h1v1h-1zM23 105h1v1h-1zM59 105h1v1h-1zM82 105h1v1h-1zM63 106h1v1h-1zM43 107h1v1h-1zM49 107h1v1h-1zM76 108h1v1h-1zM82 108h1v1h-1zM56 109h1v1h-1zM78 109h1v1h-1zM65 110h1v1h-1zM76 110h1v1h-1zM51 111h1v1h-1zM3 112h1v1h-1zM27 112h1v1h-1zM57 112h1v1h-1zM29 116h1v1h-1zM32 117h1v1h-1zM41 117h1v1h-1zM6 118h1v1h-1zM57 118h1v1h-1zM71 118h1v1h-1zM43 119h1v1h-1zM77 119h1v1h-1zM49 121h1v1h-1zM56 121h1v1h-1zM67 122h1v1h-1zM75 122h1v1h-1z"/><path fill="#f6d68a" d="M98 0h1v1h-1zM94 1h1v1h-1zM96 1h1v1h-1zM15 2h1v1h-1zM55 2h1v1h-1zM67 3h1v1h-1zM76 3h1v1h-1zM28 5h2v1h-2zM94 5h1v1h-1zM99 6h1v1h-1zM24 7h1v1h-1zM50 7h1v1h-1zM55 7h1v1h-1zM77 7h1v1h-1zM25 9h1v1h-1zM54 9h1v1h-1zM24 10h1v1h-1zM41 12h1v1h-1zM70 12h1v1h-1zM76 12h1v1h-1zM90 12h1v1h-1zM47 13h1v1h-1zM43 14h1v1h-1zM18 16h1v1h-1zM34 16h1v1h-1zM54 17h1v1h-1zM93 17h1v1h-1zM54 18h1v1h-1zM27 19h1v1h-1zM41 19h1v1h-1zM88 20h1v1h-1zM96 20h1v1h-1zM61 21h1v1h-1zM63 21h1v1h-1zM97 22h1v1h-1zM56 24h1v1h-1zM77 24h1v1h-1zM92 25h1v1h-1zM99 25h1v1h-1zM82 26h1v1h-1zM8 27h1v1h-1zM27 27h1v1h-1zM89 27h1v1h-1zM59 29h1v1h-1zM78 29h1v1h-1zM83 29h1v1h-1zM86 30h1v1h-1zM3 31h1v1h-1zM91 31h1v1h-1zM57 33h1v1h-1zM85 33h2v1h-2zM61 34h1v1h-1zM83 34h1v1h-1zM90 34h1v1h-1zM101 34h1v1h-1zM74 35h4v1h-4zM65 36h1v1h-1zM65 37h1v1h-1zM86 37h1v1h-1zM0 38h1v1h-1zM31 38h1v1h-1zM92 39h1v1h-1zM10 40h1v1h-1zM10 41h1v1h-1zM54 42h1v1h-1zM38 45h1v1h-1zM31 46h1v1h-1zM40 47h1v1h-1zM32 48h1v1h-1zM77 49h1v1h-1zM14 51h1v1h-1zM41 51h2v1h-2zM46 51h1v1h-1zM57 51h1v1h-1zM44 52h1v1h-1zM61 52h1v1h-1zM9 53h1v1h-1zM27 53h1v1h-1zM57 54h1v1h-1zM31 55h1v1h-1zM45 55h1v1h-1zM12 56h1v1h-1zM16 56h1v1h-1zM21 56h1v1h-1zM29 56h1v1h-1zM2 57h2v1h-2zM60 57h1v1h-1zM82 57h1v1h-1zM15 58h1v1h-1zM77 58h1v1h-1zM0 59h1v1h-1zM2 59h1v1h-1zM45 59h1v1h-1zM82 59h1v1h-1zM14 61h1v1h-1zM35 61h1v1h-1zM58 61h1v1h-1zM60 61h1v1h-1zM74 61h1v1h-1zM80 62h1v1h-1zM7 63h1v1h-1zM76 64h1v1h-1zM0 65h1v1h-1zM54 65h1v1h-1zM2 67h1v1h-1zM76 69h1v1h-1zM59 70h1v1h-1zM3 71h1v1h-1zM28 72h1v1h-1zM82 72h1v1h-1zM14 73h1v1h-1zM29 74h1v1h-1zM71 75h1v1h-1zM39 76h1v1h-1zM67 76h1v1h-1zM3 78h1v1h-1zM71 78h1v1h-1zM76 78h1v1h-1zM10 79h1v1h-1zM57 79h1v1h-1zM69 79h1v1h-1zM11 80h1v1h-1zM18 80h1v1h-1zM29 80h1v1h-1zM70 80h1v1h-1zM14 81h1v1h-1zM50 82h1v1h-1zM14 83h1v1h-1zM29 83h1v1h-1zM9 84h1v1h-1zM65 84h1v1h-1zM76 84h1v1h-1zM23 85h1v1h-1zM48 86h1v1h-1zM75 86h1v1h-1zM42 87h1v1h-1zM0 88h1v1h-1zM42 88h1v1h-1zM55 89h1v1h-1zM57 89h1v1h-1zM76 89h1v1h-1zM35 90h1v1h-1zM28 91h1v1h-1zM43 92h1v1h-1zM77 93h1v1h-1zM40 95h1v1h-1zM28 99h1v1h-1zM41 99h1v1h-1zM13 101h1v1h-1zM24 101h1v1h-1zM45 101h1v1h-1zM59 103h1v1h-1zM65 103h1v1h-1zM71 103h1v1h-1zM19 104h1v1h-1zM48 104h1v1h-1zM35 105h1v1h-1zM20 106h1v1h-1zM41 106h1v1h-1zM45 106h1v1h-1zM52 106h1v1h-1zM51 107h1v1h-1zM24 108h1v1h-1zM60 108h1v1h-1zM40 110h1v1h-1zM14 112h1v1h-1zM31 112h1v1h-1zM76 112h1v1h-1zM25 113h1v1h-1zM77 115h1v1h-1zM16 116h1v1h-1zM54 116h1v1h-1zM57 117h1v1h-1zM15 120h1v1h-1zM49 120h1v1h-1zM77 120h1v1h-1z"/><path fill="#f5d085" d="M60 0h1v1h-1zM8 1h1v1h-1zM51 1h2v1h-2zM88 1h1v1h-1zM23 2h1v1h-1zM43 2h1v1h-1zM54 2h1v1h-1zM63 2h1v1h-1zM56 3h1v1h-1zM64 6h1v1h-1zM2 7h1v1h-1zM41 7h1v1h-1zM51 7h1v1h-1zM73 7h1v1h-1zM85 8h1v1h-1zM98 8h1v1h-1zM87 10h1v1h-1zM0 11h1v1h-1zM55 11h1v1h-1zM32 12h1v1h-1zM77 12h1v1h-1zM83 12h1v1h-1zM76 13h1v1h-1zM48 14h1v1h-1zM76 14h1v1h-1zM2 15h1v1h-1zM89 15h1v1h-1zM13 16h1v1h-1zM20 16h1v1h-1zM66 16h1v1h-1zM47 17h2v1h-2zM85 17h1v1h-1zM92 17h1v1h-1zM101 17h1v1h-1zM92 19h1v1h-1zM77 21h1v1h-1zM90 21h1v1h-1zM101 21h1v1h-1zM24 23h1v1h-1zM63 23h1v1h-1zM72 23h1v1h-1zM60 26h1v1h-1zM74 26h2v1h-2zM74 27h1v1h-1zM80 27h1v1h-1zM85 28h1v1h-1zM24 29h1v1h-1zM77 29h1v1h-1zM93 29h1v1h-1zM56 30h1v1h-1zM71 30h1v1h-1zM74 33h1v1h-1zM89 33h1v1h-1zM94 33h1v1h-1zM100 33h1v1h-1zM71 36h1v1h-1zM0 37h1v1h-1zM40 37h1v1h-1zM76 38h1v1h-1zM40 39h1v1h-1zM65 39h1v1h-1zM98 40h1v1h-1zM0 41h1v1h-1zM18 41h1v1h-1zM29 41h1v1h-1zM5 42h1v1h-1zM31 42h1v1h-1zM77 42h1v1h-1zM2 43h1v1h-1zM83 44h1v1h-1zM7 45h1v1h-1zM50 46h1v1h-1zM78 46h1v1h-1zM42 47h1v1h-1zM68 47h1v1h-1zM82 47h1v1h-1zM87 47h1v1h-1zM6 48h1v1h-1zM10 48h1v1h-1zM71 48h1v1h-1zM77 48h1v1h-1zM2 49h1v1h-1zM25 49h1v1h-1zM56 49h1v1h-1zM63 49h1v1h-1zM24 50h1v1h-1zM56 50h1v1h-1zM72 50h1v1h-1zM94 50h1v1h-1zM43 51h1v1h-1zM77 51h1v1h-1zM10 52h1v1h-1zM40 53h1v1h-1zM52 54h1v1h-1zM67 54h1v1h-1zM6 55h1v1h-1zM28 55h1v1h-1zM38 55h1v1h-1zM41 55h1v1h-1zM0 56h1v1h-1zM26 56h1v1h-1zM35 56h1v1h-1zM70 56h1v1h-1zM72 56h1v1h-1zM76 56h1v1h-1zM11 57h1v1h-1zM18 57h1v1h-1zM21 58h1v1h-1zM65 58h1v1h-1zM76 58h1v1h-1zM11 59h1v1h-1zM25 59h1v1h-1zM54 59h1v1h-1zM64 59h1v1h-1zM45 60h1v1h-1zM51 61h1v1h-1zM20 62h1v1h-1zM27 62h1v1h-1zM63 62h1v1h-1zM82 62h1v1h-1zM3 63h1v1h-1zM42 63h1v1h-1zM15 64h1v1h-1zM19 64h1v1h-1zM39 64h1v1h-1zM73 64h1v1h-1zM77 64h1v1h-1zM13 65h1v1h-1zM19 65h1v1h-1zM29 65h1v1h-1zM57 65h1v1h-1zM3 66h1v1h-1zM14 66h1v1h-1zM55 66h1v1h-1zM61 66h1v1h-1zM65 66h1v1h-1zM0 67h1v1h-1zM76 67h1v1h-1zM2 68h1v1h-1zM7 68h1v1h-1zM18 69h1v1h-1zM25 69h1v1h-1zM71 69h1v1h-1zM75 69h1v1h-1zM54 70h1v1h-1zM21 71h1v1h-1zM30 71h1v1h-1zM32 71h1v1h-1zM35 72h1v1h-1zM41 73h1v1h-1zM64 73h1v1h-1zM0 74h1v1h-1zM42 74h1v1h-1zM20 75h1v1h-1zM77 75h1v1h-1zM7 76h1v1h-1zM50 76h1v1h-1zM54 76h1v1h-1zM32 77h1v1h-1zM41 77h1v1h-1zM64 77h1v1h-1zM11 78h1v1h-1zM27 80h1v1h-1zM39 80h1v1h-1zM41 80h1v1h-1zM72 80h1v1h-1zM24 81h1v1h-1zM66 81h1v1h-1zM81 81h1v1h-1zM31 82h1v1h-1zM4 83h1v1h-1zM25 84h1v1h-1zM74 84h1v1h-1zM18 85h1v1h-1zM41 85h1v1h-1zM43 85h1v1h-1zM45 85h1v1h-1zM71 86h1v1h-1zM75 87h1v1h-1zM35 88h1v1h-1zM76 88h1v1h-1zM10 89h1v1h-1zM31 89h1v1h-1zM40 89h1v1h-1zM2 90h1v1h-1zM10 90h1v1h-1zM14 91h1v1h-1zM0 92h1v1h-1zM55 92h1v1h-1zM65 92h1v1h-1zM2 95h1v1h-1zM48 95h1v1h-1zM76 95h2v1h-2zM82 95h1v1h-1zM34 96h1v1h-1zM64 96h1v1h-1zM73 96h1v1h-1zM48 97h1v1h-1zM18 98h1v1h-1zM34 98h1v1h-1zM41 98h1v1h-1zM72 99h1v1h-1zM50 100h1v1h-1zM76 101h1v1h-1zM82 101h1v1h-1zM17 102h1v1h-1zM26 102h1v1h-1zM60 102h2v1h-2zM34 104h1v1h-1zM24 105h1v1h-1zM43 106h1v1h-1zM18 107h1v1h-1zM20 108h1v1h-1zM24 109h1v1h-1zM22 110h1v1h-1zM57 110h1v1h-1zM75 111h1v1h-1zM42 114h1v1h-1zM57 114h1v1h-1zM78 114h1v1h-1zM37 115h1v1h-1zM7 116h1v1h-1zM18 116h1v1h-1zM38 116h1v1h-1zM77 117h1v1h-1zM31 118h1v1h-1zM25 120h1v1h-1zM38 120h1v1h-1zM66 120h1v1h-1zM43 121h1v1h-1zM51 121h1v1h-1zM44 122h1v1h-1zM53 122h1v1h-1z"/><path fill="#f4c87f" d="M77 0h1v1h-1zM89 0h1v1h-1zM76 1h1v1h-1zM92 1h2v1h-2zM42 2h1v1h-1zM45 2h1v1h-1zM49 2h1v1h-1zM57 2h1v1h-1zM72 2h1v1h-1zM98 2h1v1h-1zM34 3h1v1h-1zM74 3h1v1h-1zM71 5h1v1h-1zM83 5h1v1h-1zM91 5h1v1h-1zM45 6h1v1h-1zM30 7h2v1h-2zM47 7h1v1h-1zM67 7h1v1h-1zM85 7h1v1h-1zM101 7h1v1h-1zM86 8h1v1h-1zM89 8h1v1h-1zM45 9h1v1h-1zM89 9h1v1h-1zM97 9h1v1h-1zM31 10h1v1h-1zM40 10h1v1h-1zM92 10h1v1h-1zM36 11h1v1h-1zM95 11h1v1h-1zM25 12h1v1h-1zM93 12h1v1h-1zM98 12h1v1h-1zM6 13h1v1h-1zM21 13h1v1h-1zM55 13h1v1h-1zM92 13h1v1h-1zM96 13h1v1h-1zM99 13h1v1h-1zM73 14h1v1h-1zM85 14h1v1h-1zM95 14h1v1h-1zM47 15h1v1h-1zM83 15h1v1h-1zM88 15h1v1h-1zM101 15h1v1h-1zM31 16h2v1h-2zM72 16h1v1h-1zM76 16h1v1h-1zM28 17h1v1h-1zM51 17h1v1h-1zM95 17h1v1h-1zM30 18h1v1h-1zM25 19h1v1h-1zM78 19h2v1h-2zM26 22h1v1h-1zM58 22h1v1h-1zM73 22h1v1h-1zM86 23h1v1h-1zM88 23h1v1h-1zM101 23h1v1h-1zM61 24h1v1h-1zM87 24h2v1h-2zM100 24h1v1h-1zM30 25h1v1h-1zM32 25h1v1h-1zM60 25h1v1h-1zM24 26h1v1h-1zM51 26h1v1h-1zM60 27h1v1h-1zM90 27h1v1h-1zM101 28h1v1h-1zM86 29h1v1h-1zM92 29h1v1h-1zM77 30h1v1h-1zM71 31h1v1h-1zM96 31h1v1h-1zM61 33h1v1h-1zM88 33h1v1h-1zM90 33h1v1h-1zM95 33h1v1h-1zM99 33h1v1h-1zM97 34h1v1h-1zM24 35h1v1h-1zM53 36h1v1h-1zM10 37h1v1h-1zM54 37h1v1h-1zM75 37h1v1h-1zM77 37h1v1h-1zM75 38h1v1h-1zM30 39h1v1h-1zM75 39h1v1h-1zM55 40h1v1h-1zM6 41h1v1h-1zM57 41h1v1h-1zM93 41h1v1h-1zM42 42h1v1h-1zM73 42h1v1h-1zM7 43h1v1h-1zM88 44h1v1h-1zM19 45h1v1h-1zM63 46h1v1h-1zM74 46h1v1h-1zM76 46h1v1h-1zM79 46h1v1h-1zM98 46h1v1h-1zM34 47h2v1h-2zM55 47h1v1h-1zM78 47h1v1h-1zM13 48h1v1h-1zM53 48h1v1h-1zM63 48h1v1h-1zM91 48h1v1h-1zM8 49h1v1h-1zM28 49h1v1h-1zM35 49h1v1h-1zM72 49h1v1h-1zM94 49h1v1h-1zM8 50h1v1h-1zM35 50h1v1h-1zM91 50h1v1h-1zM101 50h1v1h-1zM19 51h1v1h-1zM35 51h1v1h-1zM54 51h1v1h-1zM56 51h1v1h-1zM14 52h1v1h-1zM18 52h1v1h-1zM33 52h1v1h-1zM69 52h1v1h-1zM16 53h1v1h-1zM65 53h1v1h-1zM2 54h1v1h-1zM4 54h1v1h-1zM16 54h1v1h-1zM27 54h1v1h-1zM42 54h1v1h-1zM46 55h1v1h-1zM31 56h1v1h-1zM37 56h2v1h-2zM43 56h1v1h-1zM61 56h1v1h-1zM73 56h1v1h-1zM81 56h1v1h-1zM17 57h1v1h-1zM25 57h1v1h-1zM29 57h1v1h-1zM35 57h1v1h-1zM43 57h1v1h-1zM3 58h1v1h-1zM16 58h1v1h-1zM75 58h1v1h-1zM28 59h1v1h-1zM72 59h1v1h-1zM0 60h1v1h-1zM11 60h1v1h-1zM20 60h1v1h-1zM34 60h2v1h-2zM51 60h1v1h-1zM64 60h1v1h-1zM12 61h1v1h-1zM26 61h1v1h-1zM32 61h1v1h-1zM36 61h1v1h-1zM38 61h1v1h-1zM42 61h1v1h-1zM45 61h1v1h-1zM55 61h1v1h-1zM7 62h1v1h-1zM16 62h1v1h-1zM52 62h1v1h-1zM64 62h1v1h-1zM73 62h2v1h-2zM13 63h2v1h-2zM63 63h1v1h-1zM74 63h1v1h-1zM81 63h1v1h-1zM28 64h1v1h-1zM52 64h1v1h-1zM72 64h1v1h-1zM24 65h1v1h-1zM31 65h1v1h-1zM58 65h1v1h-1zM41 66h1v1h-1zM62 66h1v1h-1zM14 67h1v1h-1zM20 67h1v1h-1zM27 67h1v1h-1zM48 67h1v1h-1zM82 67h1v1h-1zM14 68h1v1h-1zM71 68h1v1h-1zM54 69h1v1h-1zM64 70h1v1h-1zM29 72h1v1h-1zM45 72h1v1h-1zM16 73h1v1h-1zM54 73h1v1h-1zM75 73h1v1h-1zM3 74h1v1h-1zM5 74h1v1h-1zM20 74h1v1h-1zM74 74h1v1h-1zM12 75h1v1h-1zM23 75h1v1h-1zM39 75h1v1h-1zM72 75h1v1h-1zM6 77h1v1h-1zM14 77h1v1h-1zM82 77h1v1h-1zM5 78h1v1h-1zM7 78h1v1h-1zM16 78h1v1h-1zM41 78h1v1h-1zM45 78h1v1h-1zM19 79h1v1h-1zM26 79h1v1h-1zM30 79h1v1h-1zM32 79h1v1h-1zM82 79h1v1h-1zM7 80h1v1h-1zM12 80h1v1h-1zM15 80h1v1h-1zM35 80h1v1h-1zM64 80h1v1h-1zM81 80h1v1h-1zM71 81h1v1h-1zM73 81h1v1h-1zM14 82h1v1h-1zM16 82h1v1h-1zM42 82h1v1h-1zM24 83h1v1h-1zM33 83h1v1h-1zM61 83h1v1h-1zM67 83h1v1h-1zM43 84h1v1h-1zM50 84h1v1h-1zM42 85h1v1h-1zM7 86h1v1h-1zM1 87h1v1h-1zM56 87h1v1h-1zM63 87h1v1h-1zM74 87h1v1h-1zM7 88h1v1h-1zM13 88h1v1h-1zM38 88h1v1h-1zM50 88h2v1h-2zM63 88h1v1h-1zM71 88h1v1h-1zM77 88h1v1h-1zM27 89h1v1h-1zM54 89h1v1h-1zM68 89h1v1h-1zM16 90h1v1h-1zM19 90h1v1h-1zM31 90h1v1h-1zM34 90h1v1h-1zM0 91h1v1h-1zM9 91h1v1h-1zM31 91h1v1h-1zM41 91h1v1h-1zM25 92h1v1h-1zM40 92h1v1h-1zM0 93h1v1h-1zM51 93h1v1h-1zM15 94h1v1h-1zM22 95h1v1h-1zM43 95h1v1h-1zM1 96h1v1h-1zM3 96h1v1h-1zM33 96h1v1h-1zM63 96h1v1h-1zM4 97h1v1h-1zM3 98h1v1h-1zM63 98h1v1h-1zM50 99h1v1h-1zM52 99h1v1h-1zM71 99h1v1h-1zM42 100h1v1h-1zM72 100h1v1h-1zM18 102h1v1h-1zM36 102h1v1h-1zM38 102h1v1h-1zM50 102h2v1h-2zM15 103h1v1h-1zM35 103h1v1h-1zM38 103h1v1h-1zM40 105h1v1h-1zM43 105h2v1h-2zM51 105h1v1h-1zM55 105h1v1h-1zM32 106h1v1h-1zM61 106h1v1h-1zM82 106h1v1h-1zM41 107h1v1h-1zM71 107h1v1h-1zM43 108h1v1h-1zM63 108h1v1h-1zM2 109h1v1h-1zM49 109h1v1h-1zM30 110h2v1h-2zM41 110h1v1h-1zM77 110h1v1h-1zM40 111h1v1h-1zM26 112h1v1h-1zM36 112h1v1h-1zM77 112h1v1h-1zM3 113h1v1h-1zM12 113h1v1h-1zM26 113h1v1h-1zM2 114h2v1h-2zM36 114h1v1h-1zM64 114h1v1h-1zM23 115h1v1h-1zM36 115h1v1h-1zM46 115h1v1h-1zM59 115h1v1h-1zM2 116h1v1h-1zM21 116h1v1h-1zM36 116h1v1h-1zM59 116h1v1h-1zM15 117h1v1h-1zM19 117h1v1h-1zM4 118h1v1h-1zM13 118h1v1h-1zM2 120h1v1h-1zM9 120h1v1h-1zM11 120h1v1h-1zM31 120h1v1h-1zM46 120h1v1h-1zM63 120h1v1h-1zM14 121h1v1h-1zM42 121h1v1h-1zM72 121h1v1h-1zM74 121h1v1h-1zM19 122h1v1h-1zM65 122h1v1h-1zM72 122h1v1h-1z"/><path fill="#f4c079" d="M96 0h1v1h-1zM54 1h1v1h-1zM31 2h1v1h-1zM93 2h1v1h-1zM6 3h1v1h-1zM22 3h1v1h-1zM33 3h1v1h-1zM24 5h1v1h-1zM73 5h1v1h-1zM85 6h1v1h-1zM91 6h1v1h-1zM98 6h1v1h-1zM100 6h1v1h-1zM35 7h1v1h-1zM75 7h1v1h-1zM87 7h1v1h-1zM92 7h1v1h-1zM95 7h1v1h-1zM25 8h1v1h-1zM84 8h1v1h-1zM95 8h1v1h-1zM30 9h1v1h-1zM35 9h1v1h-1zM85 9h1v1h-1zM90 9h1v1h-1zM99 9h1v1h-1zM43 10h1v1h-1zM90 10h2v1h-2zM97 10h1v1h-1zM20 11h1v1h-1zM29 11h1v1h-1zM43 11h1v1h-1zM51 11h1v1h-1zM91 11h2v1h-2zM94 11h1v1h-1zM0 12h1v1h-1zM59 12h1v1h-1zM56 13h1v1h-1zM59 13h1v1h-1zM85 13h1v1h-1zM91 13h1v1h-1zM98 13h1v1h-1zM31 14h1v1h-1zM55 14h1v1h-1zM74 14h1v1h-1zM91 14h1v1h-1zM31 15h1v1h-1zM73 15h1v1h-1zM76 15h1v1h-1zM78 15h1v1h-1zM19 16h1v1h-1zM36 16h1v1h-1zM89 16h3v1h-3zM94 16h1v1h-1zM26 17h1v1h-1zM58 17h1v1h-1zM71 17h1v1h-1zM89 18h1v1h-1zM85 20h1v1h-1zM90 20h1v1h-1zM59 21h1v1h-1zM80 21h1v1h-1zM86 21h1v1h-1zM92 21h1v1h-1zM95 21h1v1h-1zM97 21h1v1h-1zM30 22h1v1h-1zM71 22h1v1h-1zM76 22h1v1h-1zM79 22h1v1h-1zM96 22h1v1h-1zM5 23h1v1h-1zM55 23h1v1h-1zM81 23h1v1h-1zM83 23h1v1h-1zM5 24h1v1h-1zM29 24h2v1h-2zM90 24h1v1h-1zM93 24h1v1h-1zM97 24h1v1h-1zM101 24h1v1h-1zM56 25h1v1h-1zM61 25h1v1h-1zM86 25h2v1h-2zM101 25h1v1h-1zM2 26h2v1h-2zM61 26h1v1h-1zM71 26h1v1h-1zM81 26h1v1h-1zM90 26h1v1h-1zM18 27h1v1h-1zM61 27h1v1h-1zM84 27h1v1h-1zM87 27h1v1h-1zM20 29h1v1h-1zM81 29h1v1h-1zM87 29h1v1h-1zM90 29h1v1h-1zM20 30h1v1h-1zM91 30h1v1h-1zM96 30h1v1h-1zM20 31h1v1h-1zM86 31h1v1h-1zM88 32h1v1h-1zM60 33h1v1h-1zM63 33h1v1h-1zM0 34h1v1h-1zM52 34h1v1h-1zM56 34h1v1h-1zM58 34h1v1h-1zM88 34h1v1h-1zM94 34h1v1h-1zM26 35h1v1h-1zM72 35h1v1h-1zM81 35h1v1h-1zM94 35h1v1h-1zM100 35h1v1h-1zM7 36h1v1h-1zM20 36h1v1h-1zM42 36h1v1h-1zM67 36h1v1h-1zM91 36h1v1h-1zM12 38h1v1h-1zM41 38h1v1h-1zM61 38h1v1h-1zM91 38h1v1h-1zM53 39h1v1h-1zM96 39h1v1h-1zM100 39h1v1h-1zM5 40h1v1h-1zM100 41h1v1h-1zM19 42h1v1h-1zM8 43h1v1h-1zM97 43h1v1h-1zM101 43h1v1h-1zM0 44h1v1h-1zM4 44h1v1h-1zM30 44h1v1h-1zM42 44h1v1h-1zM96 44h1v1h-1zM9 45h1v1h-1zM32 45h1v1h-1zM68 46h1v1h-1zM9 47h1v1h-1zM18 47h1v1h-1zM25 47h2v1h-2zM33 47h1v1h-1zM52 47h1v1h-1zM61 47h1v1h-1zM97 47h1v1h-1zM11 48h1v1h-1zM16 48h1v1h-1zM19 48h1v1h-1zM25 48h1v1h-1zM56 48h1v1h-1zM93 48h1v1h-1zM95 48h1v1h-1zM99 48h1v1h-1zM31 49h1v1h-1zM38 49h1v1h-1zM55 49h1v1h-1zM82 49h1v1h-1zM13 50h1v1h-1zM22 50h1v1h-1zM30 50h1v1h-1zM53 50h1v1h-1zM57 50h1v1h-1zM88 50h1v1h-1zM92 50h1v1h-1zM12 51h1v1h-1zM18 51h1v1h-1zM16 52h1v1h-1zM23 52h1v1h-1zM26 52h1v1h-1zM29 52h1v1h-1zM41 52h1v1h-1zM55 52h1v1h-1zM3 53h1v1h-1zM13 53h1v1h-1zM25 53h1v1h-1zM42 53h1v1h-1zM13 54h1v1h-1zM45 54h1v1h-1zM0 55h1v1h-1zM19 55h1v1h-1zM52 55h1v1h-1zM36 56h1v1h-1zM57 56h1v1h-1zM69 56h1v1h-1zM12 57h1v1h-1zM16 57h1v1h-1zM7 58h1v1h-1zM22 58h1v1h-1zM71 58h1v1h-1zM26 59h2v1h-2zM66 59h1v1h-1zM2 60h1v1h-1zM37 60h1v1h-1zM41 60h1v1h-1zM43 61h1v1h-1zM63 61h1v1h-1zM75 61h1v1h-1zM81 61h1v1h-1zM4 62h1v1h-1zM12 62h1v1h-1zM21 62h1v1h-1zM62 62h1v1h-1zM32 63h1v1h-1zM39 63h1v1h-1zM43 63h1v1h-1zM71 63h1v1h-1zM2 64h1v1h-1zM13 64h1v1h-1zM20 64h1v1h-1zM31 64h1v1h-1zM55 64h1v1h-1zM21 65h2v1h-2zM39 65h1v1h-1zM46 65h1v1h-1zM65 65h1v1h-1zM16 66h1v1h-1zM48 66h1v1h-1zM15 67h1v1h-1zM18 67h1v1h-1zM46 67h1v1h-1zM25 68h1v1h-1zM42 68h1v1h-1zM49 68h1v1h-1zM4 69h1v1h-1zM72 69h1v1h-1zM81 70h1v1h-1zM12 71h2v1h-2zM20 71h1v1h-1zM28 71h1v1h-1zM8 72h2v1h-2zM18 72h1v1h-1zM43 72h1v1h-1zM77 73h1v1h-1zM4 74h1v1h-1zM6 74h1v1h-1zM8 74h1v1h-1zM70 74h1v1h-1zM77 74h1v1h-1zM16 75h1v1h-1zM52 75h1v1h-1zM56 75h1v1h-1zM63 75h1v1h-1zM8 76h1v1h-1zM20 76h1v1h-1zM41 76h1v1h-1zM60 76h1v1h-1zM13 77h1v1h-1zM31 77h1v1h-1zM36 77h2v1h-2zM4 78h1v1h-1zM8 78h2v1h-2zM30 78h1v1h-1zM40 78h1v1h-1zM51 78h1v1h-1zM64 78h1v1h-1zM77 78h1v1h-1zM14 79h1v1h-1zM3 80h2v1h-2zM50 80h1v1h-1zM69 80h1v1h-1zM16 81h1v1h-1zM32 81h1v1h-1zM0 82h1v1h-1zM8 82h1v1h-1zM13 82h1v1h-1zM15 82h1v1h-1zM8 83h1v1h-1zM12 83h1v1h-1zM32 83h1v1h-1zM37 83h1v1h-1zM41 83h2v1h-2zM60 83h1v1h-1zM73 83h1v1h-1zM82 83h1v1h-1zM5 85h1v1h-1zM2 86h1v1h-1zM6 86h1v1h-1zM32 86h1v1h-1zM45 86h1v1h-1zM0 87h1v1h-1zM36 87h1v1h-1zM27 88h2v1h-2zM79 88h1v1h-1zM5 89h1v1h-1zM30 89h1v1h-1zM12 90h1v1h-1zM57 90h1v1h-1zM55 91h1v1h-1zM66 91h1v1h-1zM5 92h1v1h-1zM9 92h1v1h-1zM22 92h1v1h-1zM54 92h1v1h-1zM16 93h1v1h-1zM40 94h1v1h-1zM54 94h1v1h-1zM20 95h1v1h-1zM45 95h1v1h-1zM36 97h1v1h-1zM43 97h1v1h-1zM53 97h1v1h-1zM77 97h1v1h-1zM40 98h1v1h-1zM13 99h1v1h-1zM33 99h1v1h-1zM62 99h1v1h-1zM15 100h1v1h-1zM28 101h1v1h-1zM33 101h1v1h-1zM43 101h1v1h-1zM48 101h1v1h-1zM58 101h1v1h-1zM20 102h1v1h-1zM59 102h1v1h-1zM65 102h1v1h-1zM12 103h1v1h-1zM21 104h1v1h-1zM36 104h1v1h-1zM47 104h1v1h-1zM17 105h1v1h-1zM42 105h1v1h-1zM50 105h1v1h-1zM33 106h1v1h-1zM51 106h1v1h-1zM71 106h1v1h-1zM57 107h1v1h-1zM63 107h1v1h-1zM82 107h1v1h-1zM40 108h1v1h-1zM42 108h1v1h-1zM81 108h1v1h-1zM5 109h1v1h-1zM16 110h1v1h-1zM33 110h1v1h-1zM63 110h1v1h-1zM82 110h1v1h-1zM15 111h1v1h-1zM7 112h1v1h-1zM28 112h1v1h-1zM64 112h1v1h-1zM18 113h1v1h-1zM31 113h1v1h-1zM74 113h1v1h-1zM9 114h1v1h-1zM21 114h1v1h-1zM63 114h1v1h-1zM72 114h1v1h-1zM3 115h1v1h-1zM24 115h1v1h-1zM65 115h1v1h-1zM6 119h1v1h-1zM15 119h1v1h-1zM36 119h1v1h-1zM78 119h1v1h-1zM45 120h1v1h-1zM48 120h1v1h-1zM8 121h1v1h-1zM20 121h1v1h-1zM29 121h1v1h-1zM31 121h1v1h-1zM40 121h1v1h-1zM31 122h1v1h-1zM56 122h1v1h-1zM76 122h1v1h-1z"/><path fill="#f3b974" d="M63 0h1v1h-1zM47 1h1v1h-1zM6 2h1v1h-1zM21 2h1v1h-1zM51 2h1v1h-1zM89 2h2v1h-2zM33 4h1v1h-1zM40 4h1v1h-1zM26 5h1v1h-1zM33 5h1v1h-1zM96 5h1v1h-1zM10 6h1v1h-1zM14 6h1v1h-1zM42 6h1v1h-1zM96 6h1v1h-1zM40 7h1v1h-1zM42 7h2v1h-2zM48 7h2v1h-2zM63 7h1v1h-1zM89 7h2v1h-2zM0 8h1v1h-1zM5 8h1v1h-1zM8 8h1v1h-1zM35 8h1v1h-1zM43 8h1v1h-1zM100 8h1v1h-1zM86 9h1v1h-1zM30 10h1v1h-1zM67 10h1v1h-1zM84 10h1v1h-1zM88 10h1v1h-1zM94 10h2v1h-2zM32 11h1v1h-1zM97 11h1v1h-1zM87 12h1v1h-1zM96 12h1v1h-1zM100 12h1v1h-1zM41 13h1v1h-1zM88 13h1v1h-1zM93 13h2v1h-2zM101 13h1v1h-1zM56 14h1v1h-1zM5 15h1v1h-1zM87 15h1v1h-1zM93 15h1v1h-1zM0 16h1v1h-1zM5 16h1v1h-1zM23 16h2v1h-2zM45 16h1v1h-1zM82 16h1v1h-1zM86 16h1v1h-1zM93 16h1v1h-1zM99 16h1v1h-1zM101 16h1v1h-1zM23 17h2v1h-2zM27 17h1v1h-1zM40 17h1v1h-1zM43 17h1v1h-1zM42 18h1v1h-1zM73 18h1v1h-1zM85 18h1v1h-1zM93 18h1v1h-1zM95 18h1v1h-1zM40 19h1v1h-1zM97 19h1v1h-1zM89 20h1v1h-1zM99 20h1v1h-1zM24 21h1v1h-1zM99 21h1v1h-1zM56 22h1v1h-1zM86 22h1v1h-1zM93 22h3v1h-3zM98 22h1v1h-1zM101 22h1v1h-1zM71 23h1v1h-1zM80 23h1v1h-1zM97 23h1v1h-1zM99 23h1v1h-1zM24 24h1v1h-1zM55 24h1v1h-1zM78 24h1v1h-1zM95 24h1v1h-1zM0 25h1v1h-1zM42 25h2v1h-2zM51 25h1v1h-1zM90 25h1v1h-1zM93 25h1v1h-1zM8 26h1v1h-1zM88 26h1v1h-1zM92 26h1v1h-1zM40 27h1v1h-1zM43 27h2v1h-2zM58 27h1v1h-1zM62 27h1v1h-1zM79 27h1v1h-1zM92 27h1v1h-1zM100 27h1v1h-1zM41 28h1v1h-1zM73 28h1v1h-1zM98 28h2v1h-2zM71 29h1v1h-1zM85 29h1v1h-1zM89 29h1v1h-1zM91 29h1v1h-1zM100 29h1v1h-1zM5 30h1v1h-1zM82 30h1v1h-1zM88 30h1v1h-1zM92 30h1v1h-1zM51 31h1v1h-1zM92 31h1v1h-1zM54 32h1v1h-1zM94 32h1v1h-1zM98 32h1v1h-1zM91 33h1v1h-1zM97 33h2v1h-2zM51 34h1v1h-1zM35 35h1v1h-1zM83 35h1v1h-1zM87 35h1v1h-1zM95 35h1v1h-1zM97 35h1v1h-1zM5 36h1v1h-1zM63 36h1v1h-1zM75 36h3v1h-3zM92 36h1v1h-1zM96 36h1v1h-1zM52 37h2v1h-2zM72 37h1v1h-1zM78 37h1v1h-1zM99 37h1v1h-1zM3 38h2v1h-2zM0 39h1v1h-1zM63 39h1v1h-1zM2 40h1v1h-1zM6 40h1v1h-1zM5 41h1v1h-1zM19 41h1v1h-1zM99 41h1v1h-1zM84 42h1v1h-1zM9 43h1v1h-1zM93 43h1v1h-1zM2 44h1v1h-1zM19 44h1v1h-1zM50 44h1v1h-1zM58 44h1v1h-1zM67 44h1v1h-1zM74 44h1v1h-1zM93 44h1v1h-1zM31 45h1v1h-1zM51 45h1v1h-1zM2 46h1v1h-1zM24 46h1v1h-1zM32 46h1v1h-1zM42 46h1v1h-1zM92 46h2v1h-2zM88 47h1v1h-1zM90 47h1v1h-1zM99 47h2v1h-2zM30 48h1v1h-1zM55 48h1v1h-1zM57 48h1v1h-1zM82 48h1v1h-1zM89 48h1v1h-1zM92 48h1v1h-1zM98 48h1v1h-1zM0 49h1v1h-1zM18 49h1v1h-1zM41 49h1v1h-1zM50 49h1v1h-1zM57 49h1v1h-1zM19 50h1v1h-1zM54 50h1v1h-1zM86 50h1v1h-1zM99 50h1v1h-1zM7 51h1v1h-1zM13 51h1v1h-1zM40 51h1v1h-1zM61 51h1v1h-1zM7 52h1v1h-1zM15 52h1v1h-1zM31 52h1v1h-1zM62 52h1v1h-1zM7 53h1v1h-1zM33 53h1v1h-1zM23 54h1v1h-1zM28 54h1v1h-1zM50 54h1v1h-1zM58 54h1v1h-1zM7 55h1v1h-1zM13 55h1v1h-1zM27 55h1v1h-1zM34 56h1v1h-1zM65 56h1v1h-1zM75 56h1v1h-1zM4 57h1v1h-1zM7 57h2v1h-2zM72 57h1v1h-1zM10 58h1v1h-1zM17 58h1v1h-1zM14 59h1v1h-1zM36 59h1v1h-1zM55 59h1v1h-1zM73 59h1v1h-1zM23 60h1v1h-1zM19 61h1v1h-1zM27 61h1v1h-1zM29 61h2v1h-2zM39 61h1v1h-1zM70 61h1v1h-1zM10 62h1v1h-1zM14 62h1v1h-1zM31 62h1v1h-1zM46 62h1v1h-1zM81 62h1v1h-1zM12 63h1v1h-1zM37 63h1v1h-1zM82 63h1v1h-1zM25 64h1v1h-1zM29 64h1v1h-1zM37 64h1v1h-1zM40 64h1v1h-1zM20 65h1v1h-1zM23 65h1v1h-1zM36 65h1v1h-1zM7 66h1v1h-1zM33 66h1v1h-1zM13 67h1v1h-1zM19 67h1v1h-1zM37 67h1v1h-1zM62 67h1v1h-1zM16 68h1v1h-1zM35 68h1v1h-1zM58 68h1v1h-1zM13 69h1v1h-1zM17 69h1v1h-1zM20 69h1v1h-1zM36 69h1v1h-1zM81 69h1v1h-1zM45 70h1v1h-1zM55 70h1v1h-1zM76 70h1v1h-1zM18 71h1v1h-1zM29 71h1v1h-1zM31 71h1v1h-1zM10 72h1v1h-1zM25 72h1v1h-1zM38 72h1v1h-1zM46 72h1v1h-1zM65 72h1v1h-1zM2 73h1v1h-1zM24 73h2v1h-2zM31 73h1v1h-1zM36 73h1v1h-1zM43 73h1v1h-1zM49 73h1v1h-1zM56 73h1v1h-1zM61 73h1v1h-1zM65 73h2v1h-2zM70 73h1v1h-1zM14 74h1v1h-1zM17 74h1v1h-1zM39 74h1v1h-1zM41 74h1v1h-1zM68 74h1v1h-1zM5 75h1v1h-1zM21 75h1v1h-1zM26 75h1v1h-1zM30 75h1v1h-1zM60 75h1v1h-1zM65 75h1v1h-1zM68 75h1v1h-1zM73 75h1v1h-1zM82 75h1v1h-1zM9 76h1v1h-1zM55 76h1v1h-1zM31 78h1v1h-1zM33 78h1v1h-1zM6 79h1v1h-1zM17 79h1v1h-1zM29 79h1v1h-1zM48 79h1v1h-1zM73 79h1v1h-1zM17 80h1v1h-1zM5 81h1v1h-1zM17 81h1v1h-1zM31 81h1v1h-1zM42 81h1v1h-1zM7 82h1v1h-1zM17 82h1v1h-1zM73 82h1v1h-1zM81 82h1v1h-1zM13 83h1v1h-1zM22 83h1v1h-1zM39 83h1v1h-1zM24 84h1v1h-1zM81 84h1v1h-1zM6 85h1v1h-1zM61 85h1v1h-1zM55 86h1v1h-1zM76 87h1v1h-1zM2 88h1v1h-1zM8 88h1v1h-1zM19 88h1v1h-1zM21 88h1v1h-1zM24 88h1v1h-1zM66 88h1v1h-1zM25 89h1v1h-1zM35 89h1v1h-1zM38 89h1v1h-1zM41 89h2v1h-2zM51 89h2v1h-2zM69 89h1v1h-1zM6 90h1v1h-1zM20 90h1v1h-1zM56 91h1v1h-1zM10 92h1v1h-1zM78 92h1v1h-1zM5 93h1v1h-1zM12 93h1v1h-1zM20 93h1v1h-1zM23 93h2v1h-2zM55 93h1v1h-1zM63 93h1v1h-1zM7 94h1v1h-1zM9 94h1v1h-1zM14 94h1v1h-1zM16 94h1v1h-1zM24 94h1v1h-1zM4 95h1v1h-1zM21 95h1v1h-1zM23 95h1v1h-1zM49 95h1v1h-1zM36 96h1v1h-1zM46 96h1v1h-1zM70 96h1v1h-1zM74 96h1v1h-1zM77 96h1v1h-1zM2 97h1v1h-1zM6 97h1v1h-1zM30 97h1v1h-1zM50 97h1v1h-1zM78 97h1v1h-1zM81 97h2v1h-2zM6 98h1v1h-1zM32 98h1v1h-1zM35 98h1v1h-1zM58 98h1v1h-1zM6 99h1v1h-1zM11 99h1v1h-1zM24 99h2v1h-2zM34 99h1v1h-1zM38 99h1v1h-1zM2 100h1v1h-1zM12 100h1v1h-1zM30 100h2v1h-2zM36 100h1v1h-1zM2 101h1v1h-1zM11 101h2v1h-2zM19 101h1v1h-1zM25 101h1v1h-1zM34 101h1v1h-1zM36 101h1v1h-1zM2 102h1v1h-1zM42 102h1v1h-1zM58 102h1v1h-1zM62 102h1v1h-1zM11 103h1v1h-1zM2 104h1v1h-1zM39 104h1v1h-1zM41 104h1v1h-1zM18 105h1v1h-1zM63 105h1v1h-1zM71 105h1v1h-1zM15 106h2v1h-2zM19 106h1v1h-1zM31 106h1v1h-1zM34 106h1v1h-1zM46 106h1v1h-1zM4 107h1v1h-1zM10 107h1v1h-1zM11 108h1v1h-1zM11 109h1v1h-1zM15 109h1v1h-1zM20 109h1v1h-1zM43 109h1v1h-1zM3 110h1v1h-1zM23 110h2v1h-2zM23 111h1v1h-1zM47 111h1v1h-1zM18 112h1v1h-1zM20 112h1v1h-1zM33 112h1v1h-1zM35 112h1v1h-1zM47 112h1v1h-1zM75 113h1v1h-1zM16 114h1v1h-1zM41 114h1v1h-1zM50 114h1v1h-1zM19 115h2v1h-2zM72 115h1v1h-1zM58 116h1v1h-1zM18 117h1v1h-1zM16 118h1v1h-1zM9 119h1v1h-1zM14 119h1v1h-1zM31 119h1v1h-1zM10 120h1v1h-1zM32 120h1v1h-1zM40 120h1v1h-1zM73 120h1v1h-1zM44 121h1v1h-1zM50 121h1v1h-1zM63 121h1v1h-1zM77 121h1v1h-1zM3 122h1v1h-1zM32 122h1v1h-1zM43 122h1v1h-1zM51 122h1v1h-1zM74 122h1v1h-1z"/><path fill="#f2b16e" d="M0 0h1v1h-1zM89 1h1v1h-1zM7 2h1v1h-1zM56 2h1v1h-1zM58 2h1v1h-1zM85 2h1v1h-1zM100 2h2v1h-2zM8 3h1v1h-1zM32 3h1v1h-1zM45 3h1v1h-1zM58 3h1v1h-1zM101 3h1v1h-1zM31 4h1v1h-1zM99 4h1v1h-1zM34 5h1v1h-1zM41 5h1v1h-1zM89 5h1v1h-1zM62 6h2v1h-2zM86 6h1v1h-1zM89 6h2v1h-2zM93 6h1v1h-1zM101 6h1v1h-1zM45 7h1v1h-1zM71 7h1v1h-1zM83 7h1v1h-1zM100 7h1v1h-1zM96 8h1v1h-1zM99 8h1v1h-1zM94 9h2v1h-2zM8 10h1v1h-1zM64 10h1v1h-1zM93 10h1v1h-1zM27 11h1v1h-1zM86 11h2v1h-2zM89 11h1v1h-1zM98 11h1v1h-1zM100 11h2v1h-2zM10 12h1v1h-1zM23 12h1v1h-1zM29 12h1v1h-1zM58 12h1v1h-1zM63 12h1v1h-1zM68 12h1v1h-1zM88 12h1v1h-1zM94 12h1v1h-1zM101 12h1v1h-1zM27 13h1v1h-1zM100 13h1v1h-1zM88 14h1v1h-1zM93 14h1v1h-1zM99 14h1v1h-1zM55 15h1v1h-1zM77 15h1v1h-1zM99 15h1v1h-1zM3 16h1v1h-1zM26 16h1v1h-1zM40 16h4v1h-4zM84 16h1v1h-1zM29 17h1v1h-1zM8 18h1v1h-1zM25 18h1v1h-1zM28 18h2v1h-2zM51 18h1v1h-1zM8 19h1v1h-1zM26 19h1v1h-1zM93 19h1v1h-1zM27 20h1v1h-1zM92 20h1v1h-1zM79 21h1v1h-1zM85 21h1v1h-1zM40 22h1v1h-1zM60 22h1v1h-1zM77 22h1v1h-1zM87 22h1v1h-1zM2 23h1v1h-1zM79 23h1v1h-1zM84 23h1v1h-1zM95 23h1v1h-1zM59 24h1v1h-1zM89 24h1v1h-1zM72 25h1v1h-1zM88 25h2v1h-2zM95 25h2v1h-2zM44 26h1v1h-1zM55 26h1v1h-1zM58 26h1v1h-1zM63 26h1v1h-1zM80 26h1v1h-1zM83 26h1v1h-1zM87 26h1v1h-1zM99 26h1v1h-1zM101 26h1v1h-1zM3 27h1v1h-1zM91 27h1v1h-1zM40 28h1v1h-1zM80 29h1v1h-1zM84 29h1v1h-1zM88 29h1v1h-1zM97 29h1v1h-1zM0 30h1v1h-1zM87 30h1v1h-1zM72 31h1v1h-1zM98 31h1v1h-1zM20 32h1v1h-1zM57 32h1v1h-1zM99 32h1v1h-1zM96 33h1v1h-1zM57 34h1v1h-1zM63 34h2v1h-2zM92 34h1v1h-1zM25 35h1v1h-1zM82 35h1v1h-1zM89 35h1v1h-1zM91 35h2v1h-2zM101 35h1v1h-1zM6 36h1v1h-1zM29 36h1v1h-1zM50 36h1v1h-1zM54 36h1v1h-1zM72 36h1v1h-1zM93 36h1v1h-1zM2 37h1v1h-1zM4 37h1v1h-1zM67 37h1v1h-1zM91 37h1v1h-1zM94 37h1v1h-1zM15 38h1v1h-1zM72 38h1v1h-1zM83 38h1v1h-1zM85 38h1v1h-1zM90 38h1v1h-1zM98 39h1v1h-1zM16 40h1v1h-1zM40 40h1v1h-1zM87 40h1v1h-1zM90 41h1v1h-1zM101 41h1v1h-1zM94 42h1v1h-1zM98 42h1v1h-1zM42 43h1v1h-1zM74 43h1v1h-1zM84 43h1v1h-1zM91 43h2v1h-2zM99 43h1v1h-1zM3 44h1v1h-1zM8 44h1v1h-1zM79 44h1v1h-1zM98 44h1v1h-1zM101 44h1v1h-1zM2 45h1v1h-1zM6 45h1v1h-1zM18 45h1v1h-1zM48 45h1v1h-1zM87 45h1v1h-1zM95 45h1v1h-1zM17 46h1v1h-1zM89 46h1v1h-1zM100 46h1v1h-1zM19 47h1v1h-1zM41 47h1v1h-1zM93 47h1v1h-1zM95 47h1v1h-1zM98 47h1v1h-1zM7 48h1v1h-1zM35 48h1v1h-1zM40 48h2v1h-2zM52 48h1v1h-1zM72 48h1v1h-1zM85 48h1v1h-1zM5 49h1v1h-1zM9 49h1v1h-1zM21 49h1v1h-1zM42 49h1v1h-1zM62 49h1v1h-1zM93 49h1v1h-1zM98 49h1v1h-1zM15 50h1v1h-1zM28 50h2v1h-2zM38 50h1v1h-1zM40 50h1v1h-1zM55 50h1v1h-1zM61 50h2v1h-2zM66 50h1v1h-1zM81 50h1v1h-1zM85 50h1v1h-1zM87 50h1v1h-1zM89 50h1v1h-1zM8 51h1v1h-1zM21 51h1v1h-1zM29 51h1v1h-1zM62 51h1v1h-1zM0 52h1v1h-1zM8 52h1v1h-1zM24 52h1v1h-1zM41 53h1v1h-1zM40 54h2v1h-2zM34 55h2v1h-2zM60 55h1v1h-1zM8 56h1v1h-1zM22 56h3v1h-3zM28 56h1v1h-1zM30 56h1v1h-1zM60 56h1v1h-1zM68 56h1v1h-1zM21 57h1v1h-1zM38 57h1v1h-1zM6 58h1v1h-1zM20 58h1v1h-1zM32 58h1v1h-1zM47 58h1v1h-1zM64 58h1v1h-1zM10 59h1v1h-1zM6 60h1v1h-1zM14 60h1v1h-1zM19 60h1v1h-1zM36 60h1v1h-1zM42 60h1v1h-1zM63 60h1v1h-1zM73 60h1v1h-1zM33 62h1v1h-1zM38 62h1v1h-1zM55 62h1v1h-1zM71 62h1v1h-1zM0 63h1v1h-1zM45 63h1v1h-1zM64 63h1v1h-1zM24 64h1v1h-1zM30 64h1v1h-1zM14 65h1v1h-1zM37 65h1v1h-1zM40 65h1v1h-1zM42 65h1v1h-1zM67 65h1v1h-1zM0 66h1v1h-1zM2 66h1v1h-1zM32 66h1v1h-1zM52 66h1v1h-1zM3 68h1v1h-1zM13 68h1v1h-1zM30 68h1v1h-1zM34 68h1v1h-1zM0 69h1v1h-1zM35 69h1v1h-1zM64 69h1v1h-1zM2 70h1v1h-1zM13 70h1v1h-1zM78 70h1v1h-1zM2 71h1v1h-1zM45 71h1v1h-1zM16 72h1v1h-1zM34 72h1v1h-1zM66 72h1v1h-1zM70 72h2v1h-2zM75 72h1v1h-1zM77 72h1v1h-1zM32 73h1v1h-1zM34 73h1v1h-1zM42 73h1v1h-1zM46 73h1v1h-1zM15 74h2v1h-2zM19 74h1v1h-1zM23 74h1v1h-1zM30 74h1v1h-1zM33 74h1v1h-1zM27 75h1v1h-1zM34 75h1v1h-1zM40 75h1v1h-1zM47 75h1v1h-1zM55 75h1v1h-1zM64 75h1v1h-1zM69 75h1v1h-1zM2 76h1v1h-1zM11 76h1v1h-1zM15 76h1v1h-1zM29 76h1v1h-1zM33 76h2v1h-2zM46 76h1v1h-1zM73 76h1v1h-1zM16 77h1v1h-1zM24 77h1v1h-1zM30 77h1v1h-1zM33 77h2v1h-2zM58 77h1v1h-1zM15 78h1v1h-1zM27 78h1v1h-1zM7 79h1v1h-1zM15 79h1v1h-1zM20 79h1v1h-1zM33 79h1v1h-1zM38 79h1v1h-1zM63 79h1v1h-1zM6 80h1v1h-1zM24 80h1v1h-1zM31 80h1v1h-1zM54 80h1v1h-1zM7 81h1v1h-1zM11 81h2v1h-2zM29 81h1v1h-1zM68 81h1v1h-1zM12 82h1v1h-1zM17 83h1v1h-1zM31 83h1v1h-1zM5 84h1v1h-1zM20 84h1v1h-1zM26 84h1v1h-1zM33 84h1v1h-1zM2 85h1v1h-1zM8 85h1v1h-1zM55 85h1v1h-1zM19 86h1v1h-1zM26 86h2v1h-2zM35 86h2v1h-2zM56 86h1v1h-1zM2 87h1v1h-1zM4 87h1v1h-1zM12 87h1v1h-1zM21 87h1v1h-1zM62 87h1v1h-1zM6 88h1v1h-1zM17 88h1v1h-1zM20 88h1v1h-1zM31 88h1v1h-1zM16 89h1v1h-1zM19 89h1v1h-1zM23 89h1v1h-1zM37 89h1v1h-1zM50 89h1v1h-1zM63 89h1v1h-1zM70 89h1v1h-1zM11 90h1v1h-1zM32 90h1v1h-1zM37 90h1v1h-1zM15 91h1v1h-1zM20 91h1v1h-1zM24 91h1v1h-1zM36 91h1v1h-1zM54 91h1v1h-1zM3 92h1v1h-1zM17 92h1v1h-1zM24 92h1v1h-1zM3 93h1v1h-1zM7 93h1v1h-1zM22 93h1v1h-1zM0 94h1v1h-1zM19 94h1v1h-1zM29 94h1v1h-1zM0 95h1v1h-1zM3 95h1v1h-1zM5 95h1v1h-1zM18 95h1v1h-1zM32 95h1v1h-1zM35 95h1v1h-1zM61 95h1v1h-1zM0 96h1v1h-1zM11 96h1v1h-1zM18 96h1v1h-1zM44 96h1v1h-1zM9 97h1v1h-1zM9 98h1v1h-1zM10 99h1v1h-1zM18 99h1v1h-1zM20 99h1v1h-1zM48 99h1v1h-1zM76 99h2v1h-2zM20 101h1v1h-1zM62 101h1v1h-1zM11 102h1v1h-1zM27 102h1v1h-1zM41 102h1v1h-1zM43 102h1v1h-1zM25 103h1v1h-1zM2 105h1v1h-1zM20 105h1v1h-1zM61 105h1v1h-1zM2 106h2v1h-2zM17 106h1v1h-1zM2 107h1v1h-1zM9 107h1v1h-1zM15 107h1v1h-1zM17 107h1v1h-1zM40 107h1v1h-1zM2 108h2v1h-2zM13 108h2v1h-2zM18 108h1v1h-1zM22 108h1v1h-1zM16 109h1v1h-1zM18 109h1v1h-1zM32 109h1v1h-1zM40 109h1v1h-1zM50 109h1v1h-1zM82 109h1v1h-1zM6 110h1v1h-1zM19 110h1v1h-1zM2 111h1v1h-1zM20 111h1v1h-1zM33 111h2v1h-2zM37 111h1v1h-1zM39 111h1v1h-1zM54 111h1v1h-1zM77 111h1v1h-1zM38 112h1v1h-1zM41 112h1v1h-1zM51 112h1v1h-1zM11 113h1v1h-1zM13 113h1v1h-1zM20 113h1v1h-1zM38 113h1v1h-1zM13 114h1v1h-1zM20 114h1v1h-1zM22 114h1v1h-1zM31 114h1v1h-1zM2 115h1v1h-1zM11 115h1v1h-1zM21 115h1v1h-1zM38 115h1v1h-1zM13 116h1v1h-1zM35 116h1v1h-1zM50 116h2v1h-2zM66 116h1v1h-1zM81 116h1v1h-1zM16 117h1v1h-1zM38 117h1v1h-1zM58 117h1v1h-1zM3 118h1v1h-1zM18 118h1v1h-1zM61 118h1v1h-1zM66 118h1v1h-1zM3 119h1v1h-1zM11 119h1v1h-1zM21 119h1v1h-1zM35 119h1v1h-1zM12 120h1v1h-1zM6 121h1v1h-1zM10 121h1v1h-1zM16 122h1v1h-1zM61 122h1v1h-1zM73 122h1v1h-1z"/><path fill="#f0a968" d="M63 1h1v1h-1zM77 1h1v1h-1zM101 1h1v1h-1zM10 2h1v1h-1zM22 2h1v1h-1zM30 2h1v1h-1zM81 2h1v1h-1zM91 2h1v1h-1zM96 2h1v1h-1zM31 3h1v1h-1zM59 3h1v1h-1zM86 4h1v1h-1zM74 5h1v1h-1zM87 5h1v1h-1zM94 6h1v1h-1zM97 6h1v1h-1zM66 7h1v1h-1zM96 7h1v1h-1zM98 7h1v1h-1zM87 8h1v1h-1zM42 10h1v1h-1zM99 10h1v1h-1zM45 11h1v1h-1zM58 11h1v1h-1zM84 11h1v1h-1zM45 12h1v1h-1zM66 12h1v1h-1zM86 12h1v1h-1zM89 12h1v1h-1zM95 12h1v1h-1zM23 13h1v1h-1zM30 13h1v1h-1zM60 13h1v1h-1zM95 13h1v1h-1zM0 14h1v1h-1zM5 14h1v1h-1zM8 14h1v1h-1zM44 15h2v1h-2zM63 15h1v1h-1zM6 16h1v1h-1zM46 16h1v1h-1zM51 16h1v1h-1zM88 16h1v1h-1zM25 17h1v1h-1zM30 17h1v1h-1zM41 17h1v1h-1zM98 17h1v1h-1zM42 19h1v1h-1zM94 19h1v1h-1zM25 20h1v1h-1zM55 21h1v1h-1zM62 21h1v1h-1zM72 22h1v1h-1zM80 22h1v1h-1zM90 23h1v1h-1zM4 24h1v1h-1zM25 24h1v1h-1zM91 24h1v1h-1zM98 24h2v1h-2zM70 25h1v1h-1zM97 25h1v1h-1zM100 25h1v1h-1zM89 26h1v1h-1zM97 26h1v1h-1zM88 27h1v1h-1zM96 27h2v1h-2zM8 28h1v1h-1zM41 29h1v1h-1zM45 29h1v1h-1zM89 30h1v1h-1zM97 30h1v1h-1zM52 31h1v1h-1zM78 31h1v1h-1zM89 31h1v1h-1zM50 33h1v1h-1zM52 33h1v1h-1zM55 33h1v1h-1zM93 33h1v1h-1zM101 33h1v1h-1zM93 34h1v1h-1zM98 34h1v1h-1zM64 35h1v1h-1zM73 35h1v1h-1zM90 35h1v1h-1zM2 36h1v1h-1zM10 36h1v1h-1zM43 36h1v1h-1zM49 36h1v1h-1zM84 36h1v1h-1zM95 36h1v1h-1zM97 36h2v1h-2zM101 36h1v1h-1zM87 37h1v1h-1zM90 37h1v1h-1zM92 37h2v1h-2zM98 37h1v1h-1zM100 37h1v1h-1zM57 38h1v1h-1zM86 38h1v1h-1zM89 38h1v1h-1zM94 38h1v1h-1zM100 38h1v1h-1zM16 39h1v1h-1zM41 39h1v1h-1zM94 39h2v1h-2zM101 39h1v1h-1zM35 40h1v1h-1zM84 40h1v1h-1zM90 40h1v1h-1zM93 40h1v1h-1zM96 40h1v1h-1zM73 41h1v1h-1zM86 41h1v1h-1zM92 41h1v1h-1zM95 41h1v1h-1zM6 42h1v1h-1zM48 42h1v1h-1zM87 42h2v1h-2zM90 42h1v1h-1zM95 42h1v1h-1zM87 43h1v1h-1zM96 43h1v1h-1zM98 43h1v1h-1zM40 44h1v1h-1zM56 44h1v1h-1zM85 44h1v1h-1zM0 45h1v1h-1zM35 45h1v1h-1zM68 45h1v1h-1zM86 45h1v1h-1zM89 45h2v1h-2zM93 45h1v1h-1zM41 46h1v1h-1zM49 46h1v1h-1zM56 46h1v1h-1zM75 46h1v1h-1zM85 46h1v1h-1zM87 46h1v1h-1zM96 46h1v1h-1zM63 47h1v1h-1zM2 48h1v1h-1zM28 48h1v1h-1zM37 48h1v1h-1zM48 48h2v1h-2zM90 48h1v1h-1zM94 48h1v1h-1zM100 48h1v1h-1zM30 49h1v1h-1zM32 49h1v1h-1zM71 49h1v1h-1zM85 49h1v1h-1zM88 49h1v1h-1zM92 49h1v1h-1zM100 49h1v1h-1zM14 50h1v1h-1zM18 50h1v1h-1zM46 50h1v1h-1zM83 50h1v1h-1zM97 50h1v1h-1zM0 51h1v1h-1zM2 51h1v1h-1zM6 51h1v1h-1zM24 51h1v1h-1zM31 51h1v1h-1zM2 52h1v1h-1zM30 52h1v1h-1zM46 52h1v1h-1zM11 53h1v1h-1zM32 53h1v1h-1zM47 53h1v1h-1zM18 54h1v1h-1zM20 54h1v1h-1zM26 54h1v1h-1zM56 54h1v1h-1zM18 55h1v1h-1zM24 55h1v1h-1zM26 55h1v1h-1zM2 56h1v1h-1zM25 56h1v1h-1zM41 56h1v1h-1zM62 56h1v1h-1zM10 57h1v1h-1zM26 57h1v1h-1zM31 57h1v1h-1zM39 57h2v1h-2zM66 58h1v1h-1zM17 59h1v1h-1zM23 59h1v1h-1zM62 59h1v1h-1zM71 59h1v1h-1zM9 60h1v1h-1zM29 60h1v1h-1zM74 60h1v1h-1zM2 61h1v1h-1zM37 61h1v1h-1zM64 61h1v1h-1zM0 62h1v1h-1zM51 62h1v1h-1zM21 63h1v1h-1zM34 63h1v1h-1zM54 63h1v1h-1zM12 64h1v1h-1zM5 65h1v1h-1zM4 66h1v1h-1zM34 66h1v1h-1zM5 67h1v1h-1zM29 67h1v1h-1zM31 67h1v1h-1zM17 68h1v1h-1zM37 68h1v1h-1zM70 68h1v1h-1zM42 69h1v1h-1zM62 69h1v1h-1zM8 70h1v1h-1zM4 71h1v1h-1zM42 71h1v1h-1zM2 72h2v1h-2zM8 73h1v1h-1zM19 73h1v1h-1zM62 73h1v1h-1zM71 73h1v1h-1zM38 74h1v1h-1zM50 74h1v1h-1zM65 74h1v1h-1zM25 75h1v1h-1zM33 75h1v1h-1zM35 75h1v1h-1zM38 75h1v1h-1zM48 75h1v1h-1zM5 76h2v1h-2zM31 76h1v1h-1zM21 77h1v1h-1zM35 77h1v1h-1zM38 77h1v1h-1zM28 78h1v1h-1zM32 78h1v1h-1zM35 78h1v1h-1zM46 78h1v1h-1zM65 78h1v1h-1zM5 79h1v1h-1zM37 79h1v1h-1zM39 79h1v1h-1zM41 79h1v1h-1zM51 79h1v1h-1zM59 79h1v1h-1zM34 80h1v1h-1zM38 80h1v1h-1zM15 81h1v1h-1zM65 81h1v1h-1zM68 82h1v1h-1zM3 83h1v1h-1zM7 83h1v1h-1zM10 83h1v1h-1zM15 83h1v1h-1zM77 83h1v1h-1zM54 84h1v1h-1zM61 84h1v1h-1zM59 85h1v1h-1zM0 86h1v1h-1zM33 86h1v1h-1zM74 86h1v1h-1zM76 86h1v1h-1zM3 87h1v1h-1zM31 87h1v1h-1zM47 87h1v1h-1zM55 87h1v1h-1zM37 88h1v1h-1zM40 88h1v1h-1zM60 88h1v1h-1zM66 89h1v1h-1zM36 90h1v1h-1zM38 90h2v1h-2zM65 91h1v1h-1zM19 92h1v1h-1zM32 92h1v1h-1zM15 93h1v1h-1zM36 93h1v1h-1zM2 94h1v1h-1zM18 94h1v1h-1zM23 94h1v1h-1zM25 94h1v1h-1zM1 95h1v1h-1zM14 96h2v1h-2zM29 96h1v1h-1zM39 96h1v1h-1zM48 96h1v1h-1zM65 96h2v1h-2zM31 97h1v1h-1zM35 97h1v1h-1zM63 97h1v1h-1zM2 98h1v1h-1zM4 98h1v1h-1zM11 98h1v1h-1zM2 99h1v1h-1zM21 99h1v1h-1zM10 100h1v1h-1zM43 100h1v1h-1zM7 101h1v1h-1zM31 101h1v1h-1zM44 101h1v1h-1zM51 101h1v1h-1zM13 102h2v1h-2zM57 102h1v1h-1zM6 103h1v1h-1zM13 103h2v1h-2zM17 103h1v1h-1zM1 104h1v1h-1zM4 104h1v1h-1zM18 104h1v1h-1zM9 105h1v1h-1zM14 105h2v1h-2zM52 105h1v1h-1zM56 105h1v1h-1zM19 107h1v1h-1zM5 108h1v1h-1zM17 108h1v1h-1zM49 108h1v1h-1zM3 109h1v1h-1zM10 109h1v1h-1zM45 109h1v1h-1zM7 111h1v1h-1zM31 111h1v1h-1zM38 111h1v1h-1zM41 111h2v1h-2zM56 111h1v1h-1zM74 111h1v1h-1zM25 112h1v1h-1zM32 112h1v1h-1zM40 112h1v1h-1zM51 113h1v1h-1zM6 114h1v1h-1zM12 114h1v1h-1zM15 114h1v1h-1zM49 114h1v1h-1zM67 114h1v1h-1zM14 115h1v1h-1zM18 115h1v1h-1zM32 115h1v1h-1zM3 116h1v1h-1zM19 116h1v1h-1zM65 116h1v1h-1zM4 117h1v1h-1zM42 117h1v1h-1zM7 118h2v1h-2zM42 118h1v1h-1zM4 119h2v1h-2zM75 119h1v1h-1zM14 120h1v1h-1zM16 120h2v1h-2zM20 120h1v1h-1zM65 121h1v1h-1zM73 121h1v1h-1z"/><path fill="#efa063" d="M41 0h1v1h-1zM47 0h1v1h-1zM8 2h1v1h-1zM10 3h1v1h-1zM41 3h1v1h-1zM29 4h1v1h-1zM42 5h1v1h-1zM85 5h1v1h-1zM5 6h1v1h-1zM8 7h1v1h-1zM84 7h1v1h-1zM93 7h2v1h-2zM97 7h1v1h-1zM6 8h1v1h-1zM26 8h1v1h-1zM40 8h1v1h-1zM1 10h1v1h-1zM6 10h2v1h-2zM89 10h1v1h-1zM7 11h1v1h-1zM90 11h1v1h-1zM96 11h1v1h-1zM2 12h1v1h-1zM6 12h1v1h-1zM91 12h2v1h-2zM99 12h1v1h-1zM7 13h2v1h-2zM24 13h1v1h-1zM63 13h1v1h-1zM87 13h1v1h-1zM89 13h2v1h-2zM6 14h1v1h-1zM2 16h1v1h-1zM8 16h1v1h-1zM33 16h1v1h-1zM47 16h1v1h-1zM75 16h1v1h-1zM96 18h1v1h-1zM26 20h1v1h-1zM80 20h1v1h-1zM0 21h1v1h-1zM26 21h1v1h-1zM0 23h1v1h-1zM77 23h1v1h-1zM91 23h1v1h-1zM96 23h1v1h-1zM60 24h1v1h-1zM81 24h1v1h-1zM86 24h1v1h-1zM59 25h1v1h-1zM43 26h1v1h-1zM91 26h1v1h-1zM71 27h1v1h-1zM86 27h1v1h-1zM60 28h1v1h-1zM82 29h1v1h-1zM101 30h1v1h-1zM88 31h1v1h-1zM94 31h1v1h-1zM101 31h1v1h-1zM1 32h1v1h-1zM52 32h1v1h-1zM51 33h1v1h-1zM74 34h2v1h-2zM51 35h1v1h-1zM57 35h2v1h-2zM88 35h1v1h-1zM4 36h1v1h-1zM83 36h1v1h-1zM89 36h1v1h-1zM94 36h1v1h-1zM100 36h1v1h-1zM49 37h1v1h-1zM51 37h1v1h-1zM84 37h1v1h-1zM96 37h2v1h-2zM30 38h1v1h-1zM53 38h1v1h-1zM65 38h1v1h-1zM73 38h1v1h-1zM88 38h1v1h-1zM92 38h1v1h-1zM96 38h1v1h-1zM101 38h1v1h-1zM1 39h1v1h-1zM50 39h1v1h-1zM88 39h1v1h-1zM24 40h1v1h-1zM75 40h1v1h-1zM85 40h1v1h-1zM95 40h1v1h-1zM97 40h1v1h-1zM99 40h1v1h-1zM74 41h1v1h-1zM87 41h3v1h-3zM91 41h1v1h-1zM94 41h1v1h-1zM98 41h1v1h-1zM5 43h1v1h-1zM95 43h1v1h-1zM100 43h1v1h-1zM41 44h1v1h-1zM68 44h1v1h-1zM86 44h2v1h-2zM92 44h1v1h-1zM95 44h1v1h-1zM17 45h1v1h-1zM54 45h1v1h-1zM83 45h1v1h-1zM85 45h1v1h-1zM94 45h1v1h-1zM98 45h2v1h-2zM62 46h1v1h-1zM86 46h1v1h-1zM90 46h2v1h-2zM95 46h1v1h-1zM101 46h1v1h-1zM47 47h1v1h-1zM3 48h1v1h-1zM20 48h1v1h-1zM29 48h1v1h-1zM39 48h1v1h-1zM42 48h1v1h-1zM58 48h1v1h-1zM75 48h1v1h-1zM15 49h1v1h-1zM36 49h1v1h-1zM2 50h1v1h-1zM71 50h1v1h-1zM90 50h1v1h-1zM98 50h1v1h-1zM49 51h1v1h-1zM55 51h1v1h-1zM70 51h1v1h-1zM9 52h1v1h-1zM32 52h1v1h-1zM57 52h1v1h-1zM10 53h1v1h-1zM26 53h1v1h-1zM6 54h1v1h-1zM8 54h1v1h-1zM15 54h1v1h-1zM2 55h1v1h-1zM9 55h1v1h-1zM36 55h1v1h-1zM19 56h1v1h-1zM2 58h1v1h-1zM12 58h1v1h-1zM30 58h1v1h-1zM63 58h1v1h-1zM47 59h1v1h-1zM63 59h1v1h-1zM15 60h1v1h-1zM27 60h1v1h-1zM31 60h1v1h-1zM0 61h1v1h-1zM62 61h1v1h-1zM72 61h1v1h-1zM3 62h1v1h-1zM34 62h1v1h-1zM77 62h1v1h-1zM29 63h1v1h-1zM46 63h1v1h-1zM61 63h1v1h-1zM23 64h1v1h-1zM27 64h1v1h-1zM36 64h1v1h-1zM46 64h1v1h-1zM2 65h1v1h-1zM45 65h1v1h-1zM22 66h1v1h-1zM36 66h1v1h-1zM40 66h1v1h-1zM45 66h2v1h-2zM6 67h1v1h-1zM26 67h1v1h-1zM36 67h1v1h-1zM0 70h1v1h-1zM7 70h1v1h-1zM18 70h1v1h-1zM71 70h1v1h-1zM0 71h1v1h-1zM37 71h1v1h-1zM72 72h1v1h-1zM3 73h1v1h-1zM35 73h1v1h-1zM2 74h1v1h-1zM21 74h1v1h-1zM17 75h1v1h-1zM24 75h1v1h-1zM29 75h1v1h-1zM0 76h1v1h-1zM16 76h1v1h-1zM48 76h1v1h-1zM9 77h1v1h-1zM6 78h1v1h-1zM38 78h1v1h-1zM43 78h1v1h-1zM16 79h1v1h-1zM61 79h1v1h-1zM14 80h1v1h-1zM18 81h1v1h-1zM36 81h1v1h-1zM70 81h1v1h-1zM21 82h1v1h-1zM50 83h1v1h-1zM75 83h1v1h-1zM8 84h1v1h-1zM50 86h1v1h-1zM53 86h1v1h-1zM73 86h1v1h-1zM6 87h1v1h-1zM36 88h1v1h-1zM62 88h1v1h-1zM68 88h1v1h-1zM2 89h1v1h-1zM13 90h1v1h-1zM33 90h1v1h-1zM10 91h1v1h-1zM12 91h2v1h-2zM16 91h1v1h-1zM21 91h1v1h-1zM2 92h1v1h-1zM7 92h1v1h-1zM20 92h2v1h-2zM77 92h1v1h-1zM10 93h2v1h-2zM35 93h1v1h-1zM13 94h1v1h-1zM20 94h1v1h-1zM35 94h1v1h-1zM10 95h2v1h-2zM36 95h1v1h-1zM63 95h1v1h-1zM7 96h1v1h-1zM12 96h1v1h-1zM32 96h1v1h-1zM19 97h1v1h-1zM5 98h1v1h-1zM7 98h1v1h-1zM14 99h1v1h-1zM16 99h1v1h-1zM19 99h1v1h-1zM49 99h1v1h-1zM5 100h1v1h-1zM9 100h1v1h-1zM16 100h1v1h-1zM8 101h1v1h-1zM15 101h1v1h-1zM26 101h1v1h-1zM23 102h1v1h-1zM33 102h2v1h-2zM44 102h1v1h-1zM7 103h1v1h-1zM34 103h1v1h-1zM12 104h1v1h-1zM35 104h1v1h-1zM4 105h1v1h-1zM19 105h1v1h-1zM57 105h1v1h-1zM6 106h2v1h-2zM40 106h1v1h-1zM8 107h1v1h-1zM13 107h1v1h-1zM44 108h1v1h-1zM6 109h1v1h-1zM19 109h1v1h-1zM4 110h2v1h-2zM11 110h1v1h-1zM13 110h1v1h-1zM10 111h1v1h-1zM13 111h1v1h-1zM74 112h1v1h-1zM19 113h1v1h-1zM36 113h1v1h-1zM19 114h1v1h-1zM75 114h1v1h-1zM4 115h1v1h-1zM13 115h1v1h-1zM15 115h1v1h-1zM13 117h1v1h-1zM66 117h1v1h-1zM2 118h1v1h-1zM12 118h1v1h-1zM14 118h1v1h-1zM2 119h1v1h-1zM10 119h1v1h-1zM66 119h1v1h-1zM74 119h1v1h-1zM5 120h1v1h-1zM15 121h1v1h-1zM21 121h1v1h-1zM14 122h1v1h-1zM20 122h1v1h-1z"/><path fill="#ed985d" d="M14 5h1v1h-1zM6 6h1v1h-1zM5 7h1v1h-1zM99 7h1v1h-1zM6 9h1v1h-1zM26 9h1v1h-1zM68 10h1v1h-1zM24 11h1v1h-1zM88 11h1v1h-1zM93 11h1v1h-1zM24 12h1v1h-1zM5 13h1v1h-1zM7 14h1v1h-1zM75 14h1v1h-1zM74 15h1v1h-1zM35 16h1v1h-1zM6 17h1v1h-1zM26 18h1v1h-1zM91 18h1v1h-1zM6 19h2v1h-2zM43 20h1v1h-1zM97 20h1v1h-1zM24 22h1v1h-1zM56 23h1v1h-1zM18 26h1v1h-1zM93 26h1v1h-1zM73 27h1v1h-1zM93 28h1v1h-1zM101 29h1v1h-1zM82 31h1v1h-1zM51 32h1v1h-1zM48 34h1v1h-1zM50 34h1v1h-1zM86 34h1v1h-1zM0 35h1v1h-1zM2 35h1v1h-1zM59 35h1v1h-1zM52 36h1v1h-1zM64 36h1v1h-1zM86 36h3v1h-3zM90 36h1v1h-1zM99 36h1v1h-1zM63 37h1v1h-1zM85 37h1v1h-1zM88 37h2v1h-2zM95 37h1v1h-1zM48 38h1v1h-1zM84 38h1v1h-1zM87 38h1v1h-1zM93 38h1v1h-1zM99 38h1v1h-1zM2 39h1v1h-1zM93 39h1v1h-1zM83 40h1v1h-1zM88 40h2v1h-2zM91 40h2v1h-2zM94 40h1v1h-1zM101 40h1v1h-1zM85 41h1v1h-1zM96 41h1v1h-1zM85 42h1v1h-1zM101 42h1v1h-1zM88 43h3v1h-3zM94 43h1v1h-1zM89 44h2v1h-2zM94 44h1v1h-1zM97 44h1v1h-1zM4 45h1v1h-1zM48 46h1v1h-1zM94 46h1v1h-1zM2 47h1v1h-1zM13 47h1v1h-1zM22 48h1v1h-1zM50 48h1v1h-1zM87 48h1v1h-1zM20 49h1v1h-1zM48 49h1v1h-1zM0 50h1v1h-1zM9 50h1v1h-1zM16 50h1v1h-1zM95 50h1v1h-1zM71 51h1v1h-1zM52 53h1v1h-1zM73 53h1v1h-1zM33 54h1v1h-1zM35 54h1v1h-1zM8 55h1v1h-1zM29 55h1v1h-1zM7 56h1v1h-1zM15 56h1v1h-1zM27 56h1v1h-1zM20 57h1v1h-1zM28 57h1v1h-1zM0 58h1v1h-1zM24 58h1v1h-1zM31 58h1v1h-1zM39 58h1v1h-1zM6 59h1v1h-1zM65 59h1v1h-1zM72 60h1v1h-1zM13 61h1v1h-1zM26 62h1v1h-1zM29 62h1v1h-1zM35 62h1v1h-1zM61 62h1v1h-1zM20 63h1v1h-1zM41 64h1v1h-1zM5 66h1v1h-1zM13 66h1v1h-1zM20 66h1v1h-1zM31 66h1v1h-1zM78 66h1v1h-1zM3 67h1v1h-1zM32 67h1v1h-1zM34 67h1v1h-1zM15 68h1v1h-1zM20 68h1v1h-1zM26 68h1v1h-1zM2 69h1v1h-1zM30 69h1v1h-1zM63 69h1v1h-1zM31 70h1v1h-1zM35 70h1v1h-1zM10 71h2v1h-2zM36 71h1v1h-1zM42 72h1v1h-1zM68 73h1v1h-1zM74 73h1v1h-1zM24 74h1v1h-1zM0 75h1v1h-1zM2 75h1v1h-1zM7 75h1v1h-1zM13 76h1v1h-1zM21 76h2v1h-2zM28 76h1v1h-1zM51 77h1v1h-1zM36 79h1v1h-1zM32 80h1v1h-1zM33 82h1v1h-1zM35 82h1v1h-1zM41 82h1v1h-1zM0 85h1v1h-1zM24 85h1v1h-1zM48 85h1v1h-1zM50 85h1v1h-1zM20 86h1v1h-1zM35 87h1v1h-1zM12 88h1v1h-1zM33 88h1v1h-1zM41 88h1v1h-1zM8 89h1v1h-1zM17 89h2v1h-2zM40 90h1v1h-1zM51 90h1v1h-1zM54 90h1v1h-1zM33 91h1v1h-1zM4 92h1v1h-1zM2 93h1v1h-1zM44 95h1v1h-1zM55 95h1v1h-1zM5 96h1v1h-1zM38 96h1v1h-1zM4 99h1v1h-1zM35 99h1v1h-1zM42 99h1v1h-1zM8 100h1v1h-1zM13 100h1v1h-1zM5 101h1v1h-1zM10 101h1v1h-1zM9 102h1v1h-1zM15 102h1v1h-1zM9 103h1v1h-1zM18 103h1v1h-1zM40 104h1v1h-1zM3 107h1v1h-1zM9 108h1v1h-1zM7 109h1v1h-1zM22 109h1v1h-1zM41 109h1v1h-1zM2 110h1v1h-1zM8 110h1v1h-1zM17 110h1v1h-1zM32 110h1v1h-1zM51 110h1v1h-1zM18 111h1v1h-1zM2 112h1v1h-1zM9 112h1v1h-1zM15 112h1v1h-1zM19 112h1v1h-1zM8 114h1v1h-1zM11 114h1v1h-1zM32 114h1v1h-1zM9 115h1v1h-1zM17 115h1v1h-1zM45 115h1v1h-1zM12 116h1v1h-1zM14 116h1v1h-1zM82 116h1v1h-1zM3 117h1v1h-1zM7 117h1v1h-1zM12 117h1v1h-1zM61 117h1v1h-1zM41 118h1v1h-1zM13 120h1v1h-1zM18 120h1v1h-1zM2 121h1v1h-1zM16 121h1v1h-1zM15 122h1v1h-1z"/><path fill="#ec8f58" d="M30 6h1v1h-1zM100 9h1v1h-1zM98 10h1v1h-1zM30 12h1v1h-1zM31 13h1v1h-1zM59 14h1v1h-1zM92 16h1v1h-1zM7 17h1v1h-1zM80 19h1v1h-1zM0 20h1v1h-1zM27 22h1v1h-1zM58 23h1v1h-1zM82 23h1v1h-1zM60 29h1v1h-1zM52 35h1v1h-1zM21 36h1v1h-1zM58 36h1v1h-1zM85 36h1v1h-1zM49 38h1v1h-1zM63 38h1v1h-1zM95 38h1v1h-1zM97 38h1v1h-1zM86 39h1v1h-1zM89 39h1v1h-1zM99 39h1v1h-1zM49 41h1v1h-1zM97 41h1v1h-1zM51 42h1v1h-1zM0 43h1v1h-1zM9 44h1v1h-1zM18 44h1v1h-1zM51 44h1v1h-1zM99 44h1v1h-1zM8 45h1v1h-1zM28 45h1v1h-1zM96 45h1v1h-1zM6 46h1v1h-1zM97 46h1v1h-1zM99 46h1v1h-1zM58 47h1v1h-1zM86 47h1v1h-1zM5 48h1v1h-1zM9 48h1v1h-1zM18 48h1v1h-1zM26 48h1v1h-1zM51 48h1v1h-1zM19 49h1v1h-1zM49 49h1v1h-1zM41 50h1v1h-1zM51 52h1v1h-1zM0 53h1v1h-1zM24 53h1v1h-1zM9 54h1v1h-1zM22 59h1v1h-1zM20 61h1v1h-1zM33 61h1v1h-1zM5 62h1v1h-1zM11 62h1v1h-1zM2 63h1v1h-1zM51 66h1v1h-1zM36 68h1v1h-1zM9 71h1v1h-1zM22 71h1v1h-1zM40 74h1v1h-1zM35 76h1v1h-1zM37 76h1v1h-1zM16 80h1v1h-1zM0 83h1v1h-1zM21 83h1v1h-1zM45 83h1v1h-1zM78 83h1v1h-1zM7 87h1v1h-1zM36 89h1v1h-1zM3 90h1v1h-1zM42 90h1v1h-1zM55 90h1v1h-1zM2 91h1v1h-1zM17 91h1v1h-1zM13 92h1v1h-1zM15 92h1v1h-1zM18 92h1v1h-1zM4 93h1v1h-1zM6 94h1v1h-1zM37 94h1v1h-1zM7 95h1v1h-1zM2 96h1v1h-1zM9 96h1v1h-1zM35 96h1v1h-1zM10 97h1v1h-1zM20 97h1v1h-1zM10 98h1v1h-1zM7 99h1v1h-1zM19 100h2v1h-2zM6 101h1v1h-1zM10 102h1v1h-1zM8 103h1v1h-1zM8 104h1v1h-1zM7 105h1v1h-1zM21 105h1v1h-1zM10 106h1v1h-1zM18 106h1v1h-1zM11 107h1v1h-1zM6 108h1v1h-1zM45 108h1v1h-1zM17 109h1v1h-1zM9 110h1v1h-1zM14 110h1v1h-1zM6 111h1v1h-1zM5 112h1v1h-1zM17 112h1v1h-1zM7 113h2v1h-2zM7 114h1v1h-1zM6 115h1v1h-1zM12 115h1v1h-1zM25 116h1v1h-1zM2 117h1v1h-1zM25 117h1v1h-1zM12 119h1v1h-1zM25 121h1v1h-1zM48 121h1v1h-1zM2 122h1v1h-1zM21 122h1v1h-1z"/><path fill="#e88655" d="M9 10h1v1h-1zM6 11h1v1h-1zM6 15h1v1h-1zM23 18h1v1h-1zM55 25h1v1h-1zM57 25h1v1h-1zM80 28h1v1h-1zM91 34h1v1h-1zM51 36h1v1h-1zM14 38h1v1h-1zM50 38h1v1h-1zM98 38h1v1h-1zM70 39h1v1h-1zM52 40h1v1h-1zM99 42h1v1h-1zM67 43h1v1h-1zM48 44h1v1h-1zM51 46h1v1h-1zM88 46h1v1h-1zM51 49h1v1h-1zM51 50h1v1h-1zM8 53h1v1h-1zM0 54h1v1h-1zM12 54h1v1h-1zM14 58h1v1h-1zM23 58h1v1h-1zM31 61h1v1h-1zM2 62h1v1h-1zM25 62h1v1h-1zM45 64h1v1h-1zM38 65h1v1h-1zM4 67h1v1h-1zM30 67h1v1h-1zM62 68h1v1h-1zM34 70h1v1h-1zM25 74h1v1h-1zM22 75h1v1h-1zM51 80h1v1h-1zM32 82h1v1h-1zM15 84h1v1h-1zM16 85h1v1h-1zM32 87h1v1h-1zM11 89h1v1h-1zM54 93h1v1h-1zM3 94h1v1h-1zM6 95h1v1h-1zM9 95h1v1h-1zM41 95h1v1h-1zM6 96h1v1h-1zM8 97h1v1h-1zM40 97h1v1h-1zM82 98h1v1h-1zM5 99h1v1h-1zM7 100h1v1h-1zM50 101h1v1h-1zM12 102h1v1h-1zM22 102h1v1h-1zM7 104h1v1h-1zM13 104h1v1h-1zM11 105h1v1h-1zM9 106h1v1h-1zM11 106h1v1h-1zM7 107h1v1h-1zM16 108h1v1h-1zM7 110h1v1h-1zM8 111h1v1h-1zM19 111h1v1h-1zM16 112h1v1h-1zM2 113h1v1h-1zM5 114h1v1h-1zM6 116h1v1h-1zM11 118h1v1h-1zM13 119h1v1h-1z"/><path fill="#e47e52" d="M64 21h1v1h-1zM50 37h1v1h-1zM48 41h1v1h-1zM52 41h1v1h-1zM101 45h1v1h-1zM81 48h1v1h-1zM2 53h1v1h-1zM65 55h1v1h-1zM0 64h1v1h-1zM41 75h1v1h-1zM15 77h1v1h-1zM32 88h1v1h-1zM10 96h1v1h-1zM16 98h1v1h-1zM6 102h1v1h-1zM2 103h1v1h-1zM8 105h1v1h-1zM4 106h1v1h-1zM8 106h1v1h-1zM10 108h1v1h-1zM10 110h1v1h-1zM9 111h1v1h-1zM8 112h1v1h-1zM9 113h1v1h-1zM10 114h1v1h-1zM47 114h1v1h-1zM7 115h2v1h-2zM17 116h1v1h-1zM62 119h1v1h-1zM0 121h1v1h-1zM19 121h1v1h-1z"/><path fill="#e0754f" d="M47 27h1v1h-1zM49 44h1v1h-1zM12 50h1v1h-1zM47 63h1v1h-1zM0 73h1v1h-1zM0 78h1v1h-1zM33 80h1v1h-1zM12 84h1v1h-1zM19 93h1v1h-1zM10 94h1v1h-1zM9 99h1v1h-1zM11 100h1v1h-1zM6 105h1v1h-1zM15 116h1v1h-1zM18 119h1v1h-1z"/><path fill="#dd6c4d" d="M7 12h1v1h-1zM7 15h1v1h-1zM47 28h1v1h-1zM47 38h1v1h-1zM47 49h1v1h-1zM47 54h1v1h-1zM0 57h1v1h-1zM0 72h1v1h-1zM0 102h1v1h-1zM8 102h1v1h-1zM47 105h1v1h-1zM0 108h1v1h-1zM0 112h1v1h-1z"/><path fill="#d8644e" d="M1 4h1v1h-1zM7 16h1v1h-1zM57 36h1v1h-1zM0 48h1v1h-1zM47 55h1v1h-1zM1 61h1v1h-1zM1 64h1v1h-1zM47 71h1v1h-1zM1 72h1v1h-1zM47 77h1v1h-1zM47 79h1v1h-1zM0 80h1v1h-1zM1 90h1v1h-1zM34 95h1v1h-1zM4 96h1v1h-1zM7 97h1v1h-1zM47 101h1v1h-1zM7 102h1v1h-1zM0 104h1v1h-1zM6 104h1v1h-1zM0 107h1v1h-1zM0 115h1v1h-1zM0 117h1v1h-1zM0 119h1v1h-1z"/><path fill="#d45c50" d="M0 68h1v1h-1zM47 73h1v1h-1zM2 77h1v1h-1zM2 78h1v1h-1zM2 79h1v1h-1zM2 80h1v1h-1zM2 81h1v1h-1zM2 82h1v1h-1zM2 83h1v1h-1zM47 83h1v1h-1zM2 84h1v1h-1zM47 88h1v1h-1zM0 89h1v1h-1zM0 90h1v1h-1zM0 97h1v1h-1zM0 103h1v1h-1zM0 105h1v1h-1zM0 114h1v1h-1zM0 118h1v1h-1z"/><path fill="#cf5553" d="M47 32h1v1h-1zM47 42h1v1h-1zM47 44h1v1h-1zM47 48h1v1h-1zM47 52h1v1h-1zM47 70h1v1h-1zM47 78h1v1h-1zM0 81h1v1h-1zM47 85h1v1h-1zM47 94h1v1h-1zM0 98h1v1h-1zM0 106h1v1h-1zM0 109h1v1h-1zM0 120h1v1h-1zM0 122h1v1h-1z"/><path fill="#ca4e55" d="M47 93h1v1h-1zM0 100h1v1h-1zM47 100h1v1h-1z"/><path fill="#c64656" d="M0 99h1v1h-1zM0 101h1v1h-1zM0 111h1v1h-1zM0 113h1v1h-1z"/><path fill="#bc3856" d="M0 110h1v1h-1zM0 116h1v1h-1z"/></g></g><rect x="51.5" y="71.8" width="422.30" height="155.90" fill="none" stroke="#1a1a1a" stroke-width="1.2"/><path d="M53.57 68.8V71.8M53.57 227.7V230.7M57.71 68.8V71.8M57.71 227.7V230.7M61.85 68.8V71.8M61.85 227.7V230.7M65.99 68.8V71.8M65.99 227.7V230.7M70.13 68.8V71.8M70.13 227.7V230.7M74.27 68.8V71.8M74.27 227.7V230.7M78.41 68.8V71.8M78.41 227.7V230.7M82.55 68.8V71.8M82.55 227.7V230.7M86.69 68.8V71.8M86.69 227.7V230.7M90.83 68.8V71.8M90.83 227.7V230.7M94.97 68.8V71.8M94.97 227.7V230.7M99.11 68.8V71.8M99.11 227.7V230.7M103.25 68.8V71.8M103.25 227.7V230.7M107.39 68.8V71.8M107.39 227.7V230.7M111.53 68.8V71.8M111.53 227.7V230.7M115.67 68.8V71.8M115.67 227.7V230.7M119.81 68.8V71.8M119.81 227.7V230.7M123.95 68.8V71.8M123.95 227.7V230.7M128.09 68.8V71.8M128.09 227.7V230.7M132.23 68.8V71.8M132.23 227.7V230.7M136.37 68.8V71.8M136.37 227.7V230.7M140.51 68.8V71.8M140.51 227.7V230.7M144.65 68.8V71.8M144.65 227.7V230.7M148.79 68.8V71.8M148.79 227.7V230.7M152.93 68.8V71.8M152.93 227.7V230.7M157.08 68.8V71.8M157.08 227.7V230.7M161.22 68.8V71.8M161.22 227.7V230.7M165.36 68.8V71.8M165.36 227.7V230.7M169.50 68.8V71.8M169.50 227.7V230.7M173.64 68.8V71.8M173.64 227.7V230.7M177.78 68.8V71.8M177.78 227.7V230.7M181.92 68.8V71.8M181.92 227.7V230.7M186.06 68.8V71.8M186.06 227.7V230.7M190.20 68.8V71.8M190.20 227.7V230.7M194.34 68.8V71.8M194.34 227.7V230.7M198.48 68.8V71.8M198.48 227.7V230.7M202.62 68.8V71.8M202.62 227.7V230.7M206.76 68.8V71.8M206.76 227.7V230.7M210.90 68.8V71.8M210.90 227.7V230.7M215.04 68.8V71.8M215.04 227.7V230.7M219.18 68.8V71.8M219.18 227.7V230.7M223.32 68.8V71.8M223.32 227.7V230.7M227.46 68.8V71.8M227.46 227.7V230.7M231.60 68.8V71.8M231.60 227.7V230.7M235.74 68.8V71.8M235.74 227.7V230.7M239.88 68.8V71.8M239.88 227.7V230.7M244.02 68.8V71.8M244.02 227.7V230.7M248.16 68.8V71.8M248.16 227.7V230.7M252.30 68.8V71.8M252.30 227.7V230.7M256.44 68.8V71.8M256.44 227.7V230.7M260.58 68.8V71.8M260.58 227.7V230.7M264.72 68.8V71.8M264.72 227.7V230.7M268.86 68.8V71.8M268.86 227.7V230.7M273.00 68.8V71.8M273.00 227.7V230.7M277.14 68.8V71.8M277.14 227.7V230.7M281.28 68.8V71.8M281.28 227.7V230.7M285.42 68.8V71.8M285.42 227.7V230.7M289.56 68.8V71.8M289.56 227.7V230.7M293.70 68.8V71.8M293.70 227.7V230.7M297.84 68.8V71.8M297.84 227.7V230.7M301.98 68.8V71.8M301.98 227.7V230.7M306.12 68.8V71.8M306.12 227.7V230.7M310.26 68.8V71.8M310.26 227.7V230.7M314.40 68.8V71.8M314.40 227.7V230.7M318.54 68.8V71.8M318.54 227.7V230.7M322.68 68.8V71.8M322.68 227.7V230.7M326.82 68.8V71.8M326.82 227.7V230.7M330.96 68.8V71.8M330.96 227.7V230.7M335.10 68.8V71.8M335.10 227.7V230.7M339.24 68.8V71.8M339.24 227.7V230.7M343.38 68.8V71.8M343.38 227.7V230.7M347.52 68.8V71.8M347.52 227.7V230.7M351.66 68.8V71.8M351.66 227.7V230.7M355.80 68.8V71.8M355.80 227.7V230.7M359.94 68.8V71.8M359.94 227.7V230.7M364.08 68.8V71.8M364.08 227.7V230.7M368.23 68.8V71.8M368.23 227.7V230.7M372.37 68.8V71.8M372.37 227.7V230.7M376.51 68.8V71.8M376.51 227.7V230.7M380.65 68.8V71.8M380.65 227.7V230.7M384.79 68.8V71.8M384.79 227.7V230.7M388.93 68.8V71.8M388.93 227.7V230.7M393.07 68.8V71.8M393.07 227.7V230.7M397.21 68.8V71.8M397.21 227.7V230.7M401.35 68.8V71.8M401.35 227.7V230.7M405.49 68.8V71.8M405.49 227.7V230.7M409.63 68.8V71.8M409.63 227.7V230.7M413.77 68.8V71.8M413.77 227.7V230.7M417.91 68.8V71.8M417.91 227.7V230.7M422.05 68.8V71.8M422.05 227.7V230.7M426.19 68.8V71.8M426.19 227.7V230.7M430.33 68.8V71.8M430.33 227.7V230.7M434.47 68.8V71.8M434.47 227.7V230.7M438.61 68.8V71.8M438.61 227.7V230.7M442.75 68.8V71.8M442.75 227.7V230.7M446.89 68.8V71.8M446.89 227.7V230.7M451.03 68.8V71.8M451.03 227.7V230.7M455.17 68.8V71.8M455.17 227.7V230.7M459.31 68.8V71.8M459.31 227.7V230.7M463.45 68.8V71.8M463.45 227.7V230.7M467.59 68.8V71.8M467.59 227.7V230.7M471.73 68.8V71.8M471.73 227.7V230.7" stroke="#1a1a1a" stroke-width="1.25" fill="none"/><text transform="translate(44.80 205.88) scale(0.93 1)" font-family="'Liberation Sans', sans-serif" font-size="8.8" fill="#333333" text-anchor="end" stroke="#333333" stroke-width="0.12">20</text><text transform="translate(44.80 180.53) scale(0.93 1)" font-family="'Liberation Sans', sans-serif" font-size="8.8" fill="#333333" text-anchor="end" stroke="#333333" stroke-width="0.12">40</text><text transform="translate(44.80 155.18) scale(0.93 1)" font-family="'Liberation Sans', sans-serif" font-size="8.8" fill="#333333" text-anchor="end" stroke="#333333" stroke-width="0.12">60</text><text transform="translate(44.80 129.84) scale(0.93 1)" font-family="'Liberation Sans', sans-serif" font-size="8.8" fill="#333333" text-anchor="end" stroke="#333333" stroke-width="0.12">80</text><text transform="translate(44.80 104.49) scale(0.93 1)" font-family="'Liberation Sans', sans-serif" font-size="8.8" fill="#333333" text-anchor="end" stroke="#333333" stroke-width="0.12">100</text><text transform="translate(44.80 79.14) scale(0.93 1)" font-family="'Liberation Sans', sans-serif" font-size="8.8" fill="#333333" text-anchor="end" stroke="#333333" stroke-width="0.12">120</text><path d="M48.0 202.98H51.5M473.8 202.98H476.8M48.0 177.63H51.5M473.8 177.63H476.8M48.0 152.28H51.5M473.8 152.28H476.8M48.0 126.94H51.5M473.8 126.94H476.8M48.0 101.59H51.5M473.8 101.59H476.8M48.0 76.24H51.5M473.8 76.24H476.8" stroke="#1a1a1a" stroke-width="1.2" fill="none"/><text transform="translate(53.57 239.10) scale(0.82 1)" font-family="'Liberation Sans', sans-serif" font-size="6.9" fill="#4a4a4a" text-anchor="middle" stroke="#4a4a4a" stroke-width="0.12">L</text><text transform="translate(57.71 239.10) scale(0.82 1)" font-family="'Liberation Sans', sans-serif" font-size="6.9" fill="#4a4a4a" text-anchor="middle" stroke="#4a4a4a" stroke-width="0.12">L</text><text transform="translate(61.85 239.10) scale(0.82 1)" font-family="'Liberation Sans', sans-serif" font-size="6.9" fill="#4a4a4a" text-anchor="middle" stroke="#4a4a4a" stroke-width="0.12">L</text><text transform="translate(65.99 239.10) scale(0.82 1)" font-family="'Liberation Sans', sans-serif" font-size="6.9" fill="#4a4a4a" text-anchor="middle" stroke="#4a4a4a" stroke-width="0.12">L</text><text transform="translate(70.13 239.10) scale(0.82 1)" font-family="'Liberation Sans', sans-serif" font-size="6.9" fill="#4a4a4a" text-anchor="middle" stroke="#4a4a4a" stroke-width="0.12">L</text><text transform="translate(74.27 239.10) scale(0.82 1)" font-family="'Liberation Sans', sans-serif" font-size="6.9" fill="#4a4a4a" text-anchor="middle" stroke="#4a4a4a" stroke-width="0.12">L</text><text transform="translate(78.41 239.10) scale(0.82 1)" font-family="'Liberation Sans', sans-serif" font-size="6.9" fill="#4a4a4a" text-anchor="middle" stroke="#4a4a4a" stroke-width="0.12">L</text><text transform="translate(82.55 239.10) scale(0.82 1)" font-family="'Liberation Sans', sans-serif" font-size="6.9" fill="#4a4a4a" text-anchor="middle" stroke="#4a4a4a" stroke-width="0.12">L</text><text transform="translate(86.69 239.10) scale(0.82 1)" font-family="'Liberation Sans', sans-serif" font-size="6.9" fill="#4a4a4a" text-anchor="middle" stroke="#4a4a4a" stroke-width="0.12">L</text><text transform="translate(90.83 239.10) scale(0.82 1)" font-family="'Liberation Sans', sans-serif" font-size="6.9" fill="#4a4a4a" text-anchor="middle" stroke="#4a4a4a" stroke-width="0.12">L</text><text transform="translate(94.97 239.10) scale(0.82 1)" font-family="'Liberation Sans', sans-serif" font-size="6.9" fill="#4a4a4a" text-anchor="middle" stroke="#4a4a4a" stroke-width="0.12">L</text><text transform="translate(99.11 239.10) scale(0.82 1)" font-family="'Liberation Sans', sans-serif" font-size="6.9" fill="#4a4a4a" text-anchor="middle" stroke="#4a4a4a" stroke-width="0.12">L</text><text transform="translate(103.25 239.10) scale(0.82 1)" font-family="'Liberation Sans', sans-serif" font-size="6.9" fill="#4a4a4a" text-anchor="middle" stroke="#4a4a4a" stroke-width="0.12">L</text><text transform="translate(107.39 239.10) scale(0.82 1)" font-family="'Liberation Sans', sans-serif" font-size="6.9" fill="#4a4a4a" text-anchor="middle" stroke="#4a4a4a" stroke-width="0.12">L</text><text transform="translate(111.53 239.10) scale(0.82 1)" font-family="'Liberation Sans', sans-serif" font-size="6.9" fill="#4a4a4a" text-anchor="middle" stroke="#4a4a4a" stroke-width="0.12">L</text><text transform="translate(115.67 239.10) scale(0.82 1)" font-family="'Liberation Sans', sans-serif" font-size="6.9" fill="#4a4a4a" text-anchor="middle" stroke="#4a4a4a" stroke-width="0.12">L</text><text transform="translate(119.81 239.10) scale(0.82 1)" font-family="'Liberation Sans', sans-serif" font-size="6.9" fill="#4a4a4a" text-anchor="middle" stroke="#4a4a4a" stroke-width="0.12">L</text><text transform="translate(123.95 239.10) scale(0.82 1)" font-family="'Liberation Sans', sans-serif" font-size="6.9" fill="#4a4a4a" text-anchor="middle" stroke="#4a4a4a" stroke-width="0.12">L</text><text transform="translate(128.09 239.10) scale(0.82 1)" font-family="'Liberation Sans', sans-serif" font-size="6.9" fill="#4a4a4a" text-anchor="middle" stroke="#4a4a4a" stroke-width="0.12">L</text><text transform="translate(132.23 239.10) scale(0.82 1)" font-family="'Liberation Sans', sans-serif" font-size="6.9" fill="#4a4a4a" text-anchor="middle" stroke="#4a4a4a" stroke-width="0.12">L</text><text transform="translate(136.37 239.10) scale(0.82 1)" font-family="'Liberation Sans', sans-serif" font-size="6.9" fill="#4a4a4a" text-anchor="middle" stroke="#4a4a4a" stroke-width="0.12">L</text><text transform="translate(140.51 239.10) scale(0.82 1)" font-family="'Liberation Sans', sans-serif" font-size="6.9" fill="#4a4a4a" text-anchor="middle" stroke="#4a4a4a" stroke-width="0.12">L</text><text transform="translate(144.65 239.10) scale(0.82 1)" font-family="'Liberation Sans', sans-serif" font-size="6.9" fill="#4a4a4a" text-anchor="middle" stroke="#4a4a4a" stroke-width="0.12">L</text><text transform="translate(148.79 239.10) scale(0.82 1)" font-family="'Liberation Sans', sans-serif" font-size="6.9" fill="#4a4a4a" text-anchor="middle" stroke="#4a4a4a" stroke-width="0.12">L</text><text transform="translate(152.93 239.10) scale(0.82 1)" font-family="'Liberation Sans', sans-serif" font-size="6.9" fill="#4a4a4a" text-anchor="middle" stroke="#4a4a4a" stroke-width="0.12">L</text><text transform="translate(157.08 239.10) scale(0.82 1)" font-family="'Liberation Sans', sans-serif" font-size="6.9" fill="#4a4a4a" text-anchor="middle" stroke="#4a4a4a" stroke-width="0.12">L</text><text transform="translate(161.22 239.10) scale(0.82 1)" font-family="'Liberation Sans', sans-serif" font-size="6.9" fill="#4a4a4a" text-anchor="middle" stroke="#4a4a4a" stroke-width="0.12">L</text><text transform="translate(165.36 239.10) scale(0.82 1)" font-family="'Liberation Sans', sans-serif" font-size="6.9" fill="#4a4a4a" text-anchor="middle" stroke="#4a4a4a" stroke-width="0.12">L</text><text transform="translate(169.50 239.10) scale(0.82 1)" font-family="'Liberation Sans', sans-serif" font-size="6.9" fill="#4a4a4a" text-anchor="middle" stroke="#4a4a4a" stroke-width="0.12">L</text><text transform="translate(173.64 239.10) scale(0.82 1)" font-family="'Liberation Sans', sans-serif" font-size="6.9" fill="#4a4a4a" text-anchor="middle" stroke="#4a4a4a" stroke-width="0.12">L</text><text transform="translate(177.78 239.10) scale(0.82 1)" font-family="'Liberation Sans', sans-serif" font-size="6.9" fill="#4a4a4a" text-anchor="middle" stroke="#4a4a4a" stroke-width="0.12">L</text><text transform="translate(181.92 239.10) scale(0.82 1)" font-family="'Liberation Sans', sans-serif" font-size="6.9" fill="#4a4a4a" text-anchor="middle" stroke="#4a4a4a" stroke-width="0.12">L</text><text transform="translate(186.06 239.10) scale(0.82 1)" font-family="'Liberation Sans', sans-serif" font-size="6.9" fill="#4a4a4a" text-anchor="middle" stroke="#4a4a4a" stroke-width="0.12">L</text><text transform="translate(190.20 239.10) scale(0.82 1)" font-family="'Liberation Sans', sans-serif" font-size="6.9" fill="#4a4a4a" text-anchor="middle" stroke="#4a4a4a" stroke-width="0.12">L</text><text transform="translate(194.34 239.10) scale(0.82 1)" font-family="'Liberation Sans', sans-serif" font-size="6.9" fill="#4a4a4a" text-anchor="middle" stroke="#4a4a4a" stroke-width="0.12">L</text><text transform="translate(198.48 239.10) scale(0.82 1)" font-family="'Liberation Sans', sans-serif" font-size="6.9" fill="#4a4a4a" text-anchor="middle" stroke="#4a4a4a" stroke-width="0.12">L</text><text transform="translate(202.62 239.10) scale(0.82 1)" font-family="'Liberation Sans', sans-serif" font-size="6.9" fill="#4a4a4a" text-anchor="middle" stroke="#4a4a4a" stroke-width="0.12">L</text><text transform="translate(206.76 239.10) scale(0.82 1)" font-family="'Liberation Sans', sans-serif" font-size="6.9" fill="#4a4a4a" text-anchor="middle" stroke="#4a4a4a" stroke-width="0.12">L</text><text transform="translate(210.90 239.10) scale(0.82 1)" font-family="'Liberation Sans', sans-serif" font-size="6.9" fill="#4a4a4a" text-anchor="middle" stroke="#4a4a4a" stroke-width="0.12">L</text><text transform="translate(215.04 239.10) scale(0.82 1)" font-family="'Liberation Sans', sans-serif" font-size="6.9" fill="#4a4a4a" text-anchor="middle" stroke="#4a4a4a" stroke-width="0.12">L</text><text transform="translate(219.18 239.10) scale(0.82 1)" font-family="'Liberation Sans', sans-serif" font-size="6.9" fill="#4a4a4a" text-anchor="middle" stroke="#4a4a4a" stroke-width="0.12">L</text><text transform="translate(223.32 239.10) scale(0.82 1)" font-family="'Liberation Sans', sans-serif" font-size="6.9" fill="#4a4a4a" text-anchor="middle" stroke="#4a4a4a" stroke-width="0.12">L</text><text transform="translate(227.46 239.10) scale(0.82 1)" font-family="'Liberation Sans', sans-serif" font-size="6.9" fill="#4a4a4a" text-anchor="middle" stroke="#4a4a4a" stroke-width="0.12">L</text><text transform="translate(231.60 239.10) scale(0.82 1)" font-family="'Liberation Sans', sans-serif" font-size="6.9" fill="#4a4a4a" text-anchor="middle" stroke="#4a4a4a" stroke-width="0.12">L</text><text transform="translate(235.74 239.10) scale(0.82 1)" font-family="'Liberation Sans', sans-serif" font-size="6.9" fill="#4a4a4a" text-anchor="middle" stroke="#4a4a4a" stroke-width="0.12">L</text><text transform="translate(239.88 239.10) scale(0.82 1)" font-family="'Liberation Sans', sans-serif" font-size="6.9" fill="#4a4a4a" text-anchor="middle" stroke="#4a4a4a" stroke-width="0.12">L</text><text transform="translate(244.02 239.10) scale(0.82 1)" font-family="'Liberation Sans', sans-serif" font-size="6.9" fill="#4a4a4a" text-anchor="middle" stroke="#4a4a4a" stroke-width="0.12">L</text><text transform="translate(248.16 239.10) scale(0.82 1)" font-family="'Liberation Sans', sans-serif" font-size="6.9" fill="#4a4a4a" text-anchor="middle" stroke="#4a4a4a" stroke-width="0.12">L</text><text transform="translate(252.30 239.10) scale(0.82 1)" font-family="'Liberation Sans', sans-serif" font-size="6.9" fill="#4a4a4a" text-anchor="middle" stroke="#4a4a4a" stroke-width="0.12">L</text><text transform="translate(256.44 239.10) scale(0.82 1)" font-family="'Liberation Sans', sans-serif" font-size="6.9" fill="#4a4a4a" text-anchor="middle" stroke="#4a4a4a" stroke-width="0.12">L</text><text transform="translate(260.58 239.10) scale(0.82 1)" font-family="'Liberation Sans', sans-serif" font-size="6.9" fill="#4a4a4a" text-anchor="middle" stroke="#4a4a4a" stroke-width="0.12">L</text><text transform="translate(264.72 239.10) scale(0.82 1)" font-family="'Liberation Sans', sans-serif" font-size="6.9" fill="#4a4a4a" text-anchor="middle" stroke="#4a4a4a" stroke-width="0.12">L</text><text transform="translate(268.86 239.10) scale(0.82 1)" font-family="'Liberation Sans', sans-serif" font-size="6.9" fill="#4a4a4a" text-anchor="middle" stroke="#4a4a4a" stroke-width="0.12">L</text><text transform="translate(273.00 239.10) scale(0.82 1)" font-family="'Liberation Sans', sans-serif" font-size="6.9" fill="#4a4a4a" text-anchor="middle" stroke="#4a4a4a" stroke-width="0.12">L</text><text transform="translate(277.14 239.10) scale(0.82 1)" font-family="'Liberation Sans', sans-serif" font-size="6.9" fill="#4a4a4a" text-anchor="middle" stroke="#4a4a4a" stroke-width="0.12">L</text><text transform="translate(281.28 239.10) scale(0.82 1)" font-family="'Liberation Sans', sans-serif" font-size="6.9" fill="#4a4a4a" text-anchor="middle" stroke="#4a4a4a" stroke-width="0.12">L</text><text transform="translate(285.42 239.10) scale(0.82 1)" font-family="'Liberation Sans', sans-serif" font-size="6.9" fill="#4a4a4a" text-anchor="middle" stroke="#4a4a4a" stroke-width="0.12">L</text><text transform="translate(289.56 239.10) scale(0.82 1)" font-family="'Liberation Sans', sans-serif" font-size="6.9" fill="#4a4a4a" text-anchor="middle" stroke="#4a4a4a" stroke-width="0.12">L</text><text transform="translate(293.70 239.10) scale(0.82 1)" font-family="'Liberation Sans', sans-serif" font-size="6.9" fill="#4a4a4a" text-anchor="middle" stroke="#4a4a4a" stroke-width="0.12">L</text><text transform="translate(297.84 239.10) scale(0.82 1)" font-family="'Liberation Sans', sans-serif" font-size="6.9" fill="#4a4a4a" text-anchor="middle" stroke="#4a4a4a" stroke-width="0.12">L</text><text transform="translate(301.98 239.10) scale(0.82 1)" font-family="'Liberation Sans', sans-serif" font-size="6.9" fill="#4a4a4a" text-anchor="middle" stroke="#4a4a4a" stroke-width="0.12">N</text><text transform="translate(306.12 239.10) scale(0.82 1)" font-family="'Liberation Sans', sans-serif" font-size="6.9" fill="#4a4a4a" text-anchor="middle" stroke="#4a4a4a" stroke-width="0.12">L</text><text transform="translate(310.26 239.10) scale(0.82 1)" font-family="'Liberation Sans', sans-serif" font-size="6.9" fill="#4a4a4a" text-anchor="middle" stroke="#4a4a4a" stroke-width="0.12">L</text><text transform="translate(314.40 239.10) scale(0.82 1)" font-family="'Liberation Sans', sans-serif" font-size="6.9" fill="#4a4a4a" text-anchor="middle" stroke="#4a4a4a" stroke-width="0.12">L</text><text transform="translate(318.54 239.10) scale(0.82 1)" font-family="'Liberation Sans', sans-serif" font-size="6.9" fill="#4a4a4a" text-anchor="middle" stroke="#4a4a4a" stroke-width="0.12">L</text><text transform="translate(322.68 239.10) scale(0.82 1)" font-family="'Liberation Sans', sans-serif" font-size="6.9" fill="#4a4a4a" text-anchor="middle" stroke="#4a4a4a" stroke-width="0.12">L</text><text transform="translate(326.82 239.10) scale(0.82 1)" font-family="'Liberation Sans', sans-serif" font-size="6.9" fill="#4a4a4a" text-anchor="middle" stroke="#4a4a4a" stroke-width="0.12">L</text><text transform="translate(330.96 239.10) scale(0.82 1)" font-family="'Liberation Sans', sans-serif" font-size="6.9" fill="#4a4a4a" text-anchor="middle" stroke="#4a4a4a" stroke-width="0.12">L</text><text transform="translate(335.10 239.10) scale(0.82 1)" font-family="'Liberation Sans', sans-serif" font-size="6.9" fill="#4a4a4a" text-anchor="middle" stroke="#4a4a4a" stroke-width="0.12">L</text><text transform="translate(339.24 239.10) scale(0.82 1)" font-family="'Liberation Sans', sans-serif" font-size="6.9" fill="#4a4a4a" text-anchor="middle" stroke="#4a4a4a" stroke-width="0.12">L</text><text transform="translate(343.38 239.10) scale(0.82 1)" font-family="'Liberation Sans', sans-serif" font-size="6.9" fill="#4a4a4a" text-anchor="middle" stroke="#4a4a4a" stroke-width="0.12">L</text><text transform="translate(347.52 239.10) scale(0.82 1)" font-family="'Liberation Sans', sans-serif" font-size="6.9" fill="#4a4a4a" text-anchor="middle" stroke="#4a4a4a" stroke-width="0.12">L</text><text transform="translate(351.66 239.10) scale(0.82 1)" font-family="'Liberation Sans', sans-serif" font-size="6.9" fill="#4a4a4a" text-anchor="middle" stroke="#4a4a4a" stroke-width="0.12">L</text><text transform="translate(355.80 239.10) scale(0.82 1)" font-family="'Liberation Sans', sans-serif" font-size="6.9" fill="#4a4a4a" text-anchor="middle" stroke="#4a4a4a" stroke-width="0.12">L</text><text transform="translate(359.94 239.10) scale(0.82 1)" font-family="'Liberation Sans', sans-serif" font-size="6.9" fill="#4a4a4a" text-anchor="middle" stroke="#4a4a4a" stroke-width="0.12">L</text><text transform="translate(364.08 239.10) scale(0.82 1)" font-family="'Liberation Sans', sans-serif" font-size="6.9" fill="#4a4a4a" text-anchor="middle" stroke="#4a4a4a" stroke-width="0.12">L</text><text transform="translate(368.23 239.10) scale(0.82 1)" font-family="'Liberation Sans', sans-serif" font-size="6.9" fill="#4a4a4a" text-anchor="middle" stroke="#4a4a4a" stroke-width="0.12">L</text><text transform="translate(372.37 239.10) scale(0.82 1)" font-family="'Liberation Sans', sans-serif" font-size="6.9" fill="#4a4a4a" text-anchor="middle" stroke="#4a4a4a" stroke-width="0.12">L</text><text transform="translate(376.51 239.10) scale(0.82 1)" font-family="'Liberation Sans', sans-serif" font-size="6.9" fill="#4a4a4a" text-anchor="middle" stroke="#4a4a4a" stroke-width="0.12">L</text><text transform="translate(380.65 239.10) scale(0.82 1)" font-family="'Liberation Sans', sans-serif" font-size="6.9" fill="#4a4a4a" text-anchor="middle" stroke="#4a4a4a" stroke-width="0.12">L</text><text transform="translate(384.79 239.10) scale(0.82 1)" font-family="'Liberation Sans', sans-serif" font-size="6.9" fill="#4a4a4a" text-anchor="middle" stroke="#4a4a4a" stroke-width="0.12">L</text><text transform="translate(388.93 239.10) scale(0.82 1)" font-family="'Liberation Sans', sans-serif" font-size="6.9" fill="#4a4a4a" text-anchor="middle" stroke="#4a4a4a" stroke-width="0.12">L</text><text transform="translate(393.07 239.10) scale(0.82 1)" font-family="'Liberation Sans', sans-serif" font-size="6.9" fill="#4a4a4a" text-anchor="middle" stroke="#4a4a4a" stroke-width="0.12">L</text><text transform="translate(397.21 239.10) scale(0.82 1)" font-family="'Liberation Sans', sans-serif" font-size="6.9" fill="#4a4a4a" text-anchor="middle" stroke="#4a4a4a" stroke-width="0.12">N</text><text transform="translate(401.35 239.10) scale(0.82 1)" font-family="'Liberation Sans', sans-serif" font-size="6.9" fill="#4a4a4a" text-anchor="middle" stroke="#4a4a4a" stroke-width="0.12">N</text><text transform="translate(405.49 239.10) scale(0.82 1)" font-family="'Liberation Sans', sans-serif" font-size="6.9" fill="#4a4a4a" text-anchor="middle" stroke="#4a4a4a" stroke-width="0.12">N</text><text transform="translate(409.63 239.10) scale(0.82 1)" font-family="'Liberation Sans', sans-serif" font-size="6.9" fill="#4a4a4a" text-anchor="middle" stroke="#4a4a4a" stroke-width="0.12">N</text><text transform="translate(413.77 239.10) scale(0.82 1)" font-family="'Liberation Sans', sans-serif" font-size="6.9" fill="#4a4a4a" text-anchor="middle" stroke="#4a4a4a" stroke-width="0.12">N</text><text transform="translate(417.91 239.10) scale(0.82 1)" font-family="'Liberation Sans', sans-serif" font-size="6.9" fill="#4a4a4a" text-anchor="middle" stroke="#4a4a4a" stroke-width="0.12">N</text><text transform="translate(422.05 239.10) scale(0.82 1)" font-family="'Liberation Sans', sans-serif" font-size="6.9" fill="#4a4a4a" text-anchor="middle" stroke="#4a4a4a" stroke-width="0.12">N</text><text transform="translate(426.19 239.10) scale(0.82 1)" font-family="'Liberation Sans', sans-serif" font-size="6.9" fill="#4a4a4a" text-anchor="middle" stroke="#4a4a4a" stroke-width="0.12">N</text><text transform="translate(430.33 239.10) scale(0.82 1)" font-family="'Liberation Sans', sans-serif" font-size="6.9" fill="#4a4a4a" text-anchor="middle" stroke="#4a4a4a" stroke-width="0.12">N</text><text transform="translate(434.47 239.10) scale(0.82 1)" font-family="'Liberation Sans', sans-serif" font-size="6.9" fill="#4a4a4a" text-anchor="middle" stroke="#4a4a4a" stroke-width="0.12">N</text><text transform="translate(438.61 239.10) scale(0.82 1)" font-family="'Liberation Sans', sans-serif" font-size="6.9" fill="#4a4a4a" text-anchor="middle" stroke="#4a4a4a" stroke-width="0.12">N</text><text transform="translate(442.75 239.10) scale(0.82 1)" font-family="'Liberation Sans', sans-serif" font-size="6.9" fill="#4a4a4a" text-anchor="middle" stroke="#4a4a4a" stroke-width="0.12">N</text><text transform="translate(446.89 239.10) scale(0.82 1)" font-family="'Liberation Sans', sans-serif" font-size="6.9" fill="#4a4a4a" text-anchor="middle" stroke="#4a4a4a" stroke-width="0.12">N</text><text transform="translate(451.03 239.10) scale(0.82 1)" font-family="'Liberation Sans', sans-serif" font-size="6.9" fill="#4a4a4a" text-anchor="middle" stroke="#4a4a4a" stroke-width="0.12">N</text><text transform="translate(455.17 239.10) scale(0.82 1)" font-family="'Liberation Sans', sans-serif" font-size="6.9" fill="#4a4a4a" text-anchor="middle" stroke="#4a4a4a" stroke-width="0.12">N</text><text transform="translate(459.31 239.10) scale(0.82 1)" font-family="'Liberation Sans', sans-serif" font-size="6.9" fill="#4a4a4a" text-anchor="middle" stroke="#4a4a4a" stroke-width="0.12">N</text><text transform="translate(463.45 239.10) scale(0.82 1)" font-family="'Liberation Sans', sans-serif" font-size="6.9" fill="#4a4a4a" text-anchor="middle" stroke="#4a4a4a" stroke-width="0.12">N</text><text transform="translate(467.59 239.10) scale(0.82 1)" font-family="'Liberation Sans', sans-serif" font-size="6.9" fill="#4a4a4a" text-anchor="middle" stroke="#4a4a4a" stroke-width="0.12">N</text><text transform="translate(471.73 239.10) scale(0.82 1)" font-family="'Liberation Sans', sans-serif" font-size="6.9" fill="#4a4a4a" text-anchor="middle" stroke="#4a4a4a" stroke-width="0.12">N</text><text transform="translate(198.60 250.60)" font-family="'Liberation Sans', sans-serif" font-size="9.4" fill="#333333" textLength="127.4" lengthAdjust="spacingAndGlyphs" stroke="#333333" stroke-width="0.12">Sample type (L=Lesional, N=Normal)</text><text transform="translate(26.60 161.30) rotate(-90)" font-family="'Liberation Sans', sans-serif" font-size="8.8" fill="#333333" textLength="23.6" lengthAdjust="spacingAndGlyphs" stroke="#333333" stroke-width="0.05">miRNA</text><rect x="487.1" y="217.76" width="10.3" height="10.04" fill="#5a58a0"/><rect x="487.1" y="208.01" width="10.3" height="10.04" fill="#5880b8"/><rect x="487.1" y="198.27" width="10.3" height="10.04" fill="#6aa4b4"/><rect x="487.1" y="188.53" width="10.3" height="10.04" fill="#88c4a8"/><rect x="487.1" y="178.78" width="10.3" height="10.04" fill="#b0d8a8"/><rect x="487.1" y="169.04" width="10.3" height="10.04" fill="#d0e4a8"/><rect x="487.1" y="159.29" width="10.3" height="10.04" fill="#eef0a8"/><rect x="487.1" y="149.55" width="10.3" height="10.04" fill="#faf6b4"/><rect x="487.1" y="139.81" width="10.3" height="10.04" fill="#f8eaa0"/><rect x="487.1" y="130.06" width="10.3" height="10.04" fill="#f6d488"/><rect x="487.1" y="120.32" width="10.3" height="10.04" fill="#f2b470"/><rect x="487.1" y="110.57" width="10.3" height="10.04" fill="#ec9058"/><rect x="487.1" y="100.83" width="10.3" height="10.04" fill="#dc6a4c"/><rect x="487.1" y="91.09" width="10.3" height="10.04" fill="#c84a56"/><rect x="487.1" y="81.34" width="10.3" height="10.04" fill="#b42c56"/><rect x="487.1" y="71.60" width="10.3" height="10.04" fill="#8e1048"/><rect x="487.1" y="71.6" width="10.3" height="155.9" fill="none" stroke="#1a1a1a" stroke-width="1.2"/><text transform="translate(503.00 93.70) scale(0.93 1)" font-family="'Liberation Sans', sans-serif" font-size="8.8" fill="#333333" stroke="#333333" stroke-width="0.12">4</text><text transform="translate(503.00 117.40) scale(0.93 1)" font-family="'Liberation Sans', sans-serif" font-size="8.8" fill="#333333" stroke="#333333" stroke-width="0.12">2</text><text transform="translate(503.00 140.80) scale(0.93 1)" font-family="'Liberation Sans', sans-serif" font-size="8.8" fill="#333333" stroke="#333333" stroke-width="0.12">0</text><text transform="translate(503.00 164.40) scale(0.93 1)" font-family="'Liberation Sans', sans-serif" font-size="8.8" fill="#333333" stroke="#333333" stroke-width="0.12">−2</text><text transform="translate(503.00 188.10) scale(0.93 1)" font-family="'Liberation Sans', sans-serif" font-size="8.8" fill="#333333" stroke="#333333" stroke-width="0.12">−4</text><text transform="translate(503.00 211.90) scale(0.93 1)" font-family="'Liberation Sans', sans-serif" font-size="8.8" fill="#333333" stroke="#333333" stroke-width="0.12">−6</text><path d="M497.4 90.8H500.4M497.4 114.5H500.4M497.4 137.9H500.4M497.4 161.5H500.4M497.4 185.2H500.4M497.4 209.0H500.4" stroke="#1a1a1a" stroke-width="1.2" fill="none"/><path d="M70.13 58.50V45.70H74.27V58.50M65.99 58.50V42.40H72.20V45.70M61.85 58.50V38.50H69.10V42.40M82.55 58.50V48.10H86.69V58.50M78.41 58.50V46.20H84.62V48.10M99.11 58.50V48.40H103.25V58.50M94.97 58.50V47.20H101.18V48.40M107.39 58.50V49.50H111.53V58.50M119.81 58.50V50.27H123.95V58.50M121.88 50.27V50.19H128.09V58.50M115.67 58.50V49.47H124.99V50.19M109.46 49.50V46.80H120.33V49.47M98.08 47.20V44.80H114.90V46.80M90.83 58.50V43.40H106.49V44.80M81.52 46.20V40.30H98.66V43.40M136.37 58.50V47.50H140.51V58.50M132.23 58.50V43.90H138.44V47.50M148.79 58.50V46.75H152.93V58.50M144.65 58.50V43.40H150.86V46.75M135.34 43.90V42.40H147.76V43.40M157.08 58.50V43.60H161.22V58.50M186.06 58.50V48.60H190.20V58.50M181.92 58.50V48.00H188.13V48.60M177.78 58.50V47.20H185.02V48.00M173.64 58.50V46.30H181.40V47.20M169.50 58.50V45.50H177.52V46.30M165.36 58.50V44.60H173.51V45.50M159.15 43.60V43.10H169.43V44.60M198.48 58.50V46.70H202.62V58.50M194.34 58.50V45.50H200.55V46.70M210.90 58.50V47.00H215.04V58.50M206.76 58.50V45.00H212.97V47.00M223.32 58.50V47.00H227.46V58.50M231.60 58.50V48.20H235.74V58.50M239.88 58.50V48.80H244.02V58.50M233.67 48.20V47.30H241.95V48.80M225.39 47.00V46.50H237.81V47.30M219.18 58.50V46.10H231.60V46.50M209.86 45.00V42.70H225.39V46.10M197.44 45.50V41.50H217.63V42.70M164.29 43.10V39.50H207.53V41.50M141.55 42.40V38.30H185.91V39.50M90.09 40.30V34.70H163.73V38.30M65.47 38.50V31.50H126.91V34.70M57.71 58.50V26.50H96.19V31.50M252.30 58.50V44.90H256.44V58.50M260.58 58.50V49.10H264.72V58.50M273.00 58.50V48.80H277.14V58.50M268.86 58.50V47.49H275.07V48.80M262.65 49.10V46.95H271.97V47.49M267.31 46.95V44.15H281.28V58.50M254.37 44.90V41.20H274.29V44.15M289.56 58.50V47.14H293.70V58.50M285.42 58.50V46.25H291.63V47.14M297.84 58.50V47.06H301.98V58.50M299.91 47.06V47.01H306.12V58.50M310.26 58.50V46.11H314.40V58.50M312.33 46.11V44.15H318.54V58.50M322.68 58.50V49.99H326.82V58.50M324.75 49.99V46.38H330.96V58.50M335.10 58.50V49.21H339.24V58.50M343.38 58.50V50.37H347.52V58.50M345.45 50.37V47.70H351.66V58.50M337.17 49.21V46.32H348.56V47.70M355.80 58.50V47.16H359.94V58.50M342.87 46.32V44.30H357.87V47.16M327.86 46.38V44.00H350.37V44.30M364.08 58.50V45.31H368.23V58.50M372.37 58.50V45.53H376.51V58.50M366.15 45.31V45.00H374.44V45.53M380.65 58.50V48.42H384.79V58.50M388.93 58.50V46.73H393.07V58.50M382.72 48.42V44.94H391.00V46.73M370.30 45.00V44.43H386.86V44.94M339.11 44.00V43.70H378.58V44.43M315.44 44.15V43.00H358.84V43.70M303.02 47.01V41.80H337.14V43.00M288.53 46.25V40.50H320.08V41.80M264.33 41.20V38.90H304.30V40.50M248.16 58.50V37.10H284.32V38.90M397.21 58.50V49.65H401.35V58.50M405.49 58.50V51.63H409.63V58.50M407.56 51.63V51.49H413.77V58.50M399.28 49.65V47.60H410.66V51.49M417.91 58.50V50.99H422.05V58.50M426.19 58.50V51.89H430.33V58.50M434.47 58.50V51.86H438.61V58.50M428.26 51.89V51.41H436.54V51.86M419.98 50.99V49.71H432.40V51.41M446.89 58.50V51.46H451.03V58.50M459.31 58.50V51.87H463.45V58.50M455.17 58.50V51.66H461.38V51.87M448.96 51.46V51.40H458.27V51.66M442.75 58.50V50.45H453.62V51.40M467.59 58.50V51.80H471.73V58.50M448.18 50.45V50.42H469.66V51.80M426.19 49.71V49.30H458.92V50.42M404.97 47.60V45.30H442.55V49.30M266.24 37.10V33.20H423.76V45.30M76.95 26.50V23.60H345.00V33.20M53.57 58.50V17.40H210.98V23.60" stroke="#1a1a1a" stroke-width="1.1" fill="none"/><text transform="translate(7.20 16.80)" font-family="'Liberation Sans', sans-serif" font-size="11.8" fill="#111" font-weight="bold">A</text><text transform="translate(7.60 282.10)" font-family="'Liberation Sans', sans-serif" font-size="11.6" fill="#111" font-weight="bold">B</text><path d="M46.6 282.3V482.8H508.6" stroke="#222" stroke-width="1.3" fill="none"/><text transform="translate(40.90 310.10)" font-family="'Liberation Sans', sans-serif" font-size="9.0" fill="#333333" text-anchor="end" stroke="#333333" stroke-width="0.12">0.4</text><text transform="translate(40.90 367.25)" font-family="'Liberation Sans', sans-serif" font-size="9.0" fill="#333333" text-anchor="end" stroke="#333333" stroke-width="0.12">0.2</text><text transform="translate(40.90 424.40)" font-family="'Liberation Sans', sans-serif" font-size="9.0" fill="#333333" text-anchor="end" stroke="#333333" stroke-width="0.12">0.0</text><text transform="translate(40.90 481.55)" font-family="'Liberation Sans', sans-serif" font-size="9.0" fill="#333333" text-anchor="end" textLength="15.6" lengthAdjust="spacingAndGlyphs" stroke="#333333" stroke-width="0.12">−0.2</text><text transform="translate(67.30 495.70)" font-family="'Liberation Sans', sans-serif" font-size="9.0" fill="#333333" text-anchor="middle" stroke="#333333" stroke-width="0.12">0.000</text><text transform="translate(152.50 495.70)" font-family="'Liberation Sans', sans-serif" font-size="9.0" fill="#333333" text-anchor="middle" stroke="#333333" stroke-width="0.12">0.025</text><text transform="translate(237.70 495.70)" font-family="'Liberation Sans', sans-serif" font-size="9.0" fill="#333333" text-anchor="middle" stroke="#333333" stroke-width="0.12">0.050</text><text transform="translate(322.90 495.70)" font-family="'Liberation Sans', sans-serif" font-size="9.0" fill="#333333" text-anchor="middle" stroke="#333333" stroke-width="0.12">0.075</text><text transform="translate(408.10 495.70)" font-family="'Liberation Sans', sans-serif" font-size="9.0" fill="#333333" text-anchor="middle" stroke="#333333" stroke-width="0.12">0.100</text><text transform="translate(493.30 495.70)" font-family="'Liberation Sans', sans-serif" font-size="9.0" fill="#333333" text-anchor="middle" stroke="#333333" stroke-width="0.12">0.125</text><path d="M43.4 307.2H46.6M43.4 364.4H46.6M43.4 421.5H46.6M43.4 478.6H46.6M67.5 482.8V486.0M152.7 482.8V486.0M237.9 482.8V486.0M323.1 482.8V486.0M408.3 482.8V486.0M493.5 482.8V486.0" stroke="#1a1a1a" stroke-width="1.2" fill="none"/><text transform="translate(262.80 509.70)" font-family="'Liberation Sans', sans-serif" font-size="10.2" fill="#333333" textLength="29" lengthAdjust="spacingAndGlyphs" stroke="#333333" stroke-width="0.12">L1 Norm</text><text transform="translate(24.20 399.90) rotate(-90)" font-family="'Liberation Sans', sans-serif" font-size="9.6" fill="#3c3c3c" textLength="36.4" lengthAdjust="spacingAndGlyphs">Coefficient</text><path d="M243.9 282.0V482.8" stroke="#333" stroke-width="1.5" stroke-dasharray="3.4 1.6" stroke-dashoffset="2.1" fill="none"/><path d="M389.2 421.5 L420.0 421.6 L440.0 422.2 L457.4 423.6" stroke="#e0a53a" stroke-width="1.7" fill="none" stroke-linejoin="round"/><path d="M389.2 421.5 L401.5 426.2 L423.0 441.5 L457.4 464.6" stroke="#b4bf80" stroke-width="1.7" fill="none" stroke-linejoin="round"/><path d="M268.0 421.5 L300.0 434.8 L350.0 449.5 L392.3 461.5 L425.0 467.5 L457.4 473.6" stroke="#8c8cc8" stroke-width="1.7" fill="none" stroke-linejoin="round"/><path d="M389.2 421.5 L410.8 420.0 L432.3 413.8 L457.4 403.2" stroke="#5aa040" stroke-width="1.7" fill="none" stroke-linejoin="round"/><path d="M312.3 421.5 L360.0 406.0 L385.0 398.5 L400.0 396.4 L415.0 397.5 L457.4 403.2" stroke="#2b4a72" stroke-width="1.7" fill="none" stroke-linejoin="round"/><path d="M367.7 421.5 L389.2 421.5 L457.4 385.3" stroke="#80b6e0" stroke-width="1.7" fill="none" stroke-linejoin="round"/><path d="M232.4 421.5 L384.0 380.0 L405.0 373.8 L425.0 371.3 L457.4 370.6" stroke="#45225e" stroke-width="1.7" fill="none" stroke-linejoin="round"/><path d="M136.2 421.5 L168.3 406.9 L231.2 375.5 L267.0 361.6 L299.4 354.2 L315.6 350.5 L330.0 349.5 L360.0 348.5 L382.5 347.2 L400.0 348.6 L412.5 349.8 L435.0 349.6 L457.4 349.2" stroke="#2d5c4a" stroke-width="1.7" fill="none" stroke-linejoin="round"/><path d="M67.4 421.5 L135.2 382.1 L206.5 356.3 L230.8 347.7 L268.0 336.2 L320.0 325.1 L367.5 311.3 L457.4 290.8" stroke="#8e1a3c" stroke-width="1.7" fill="none" stroke-linejoin="round"/><path d="M67.4 421.5 L367.7 421.5 L386.2 413.2 L407.7 410.8 L435.0 409.6 L457.4 408.8" stroke="#c0187c" stroke-width="1.7" fill="none" stroke-linejoin="round"/><path d="M457.4 290.80L459.6 286.00H506.5V295.60H459.6Z" fill="#ae1340" stroke="#111" stroke-width="1.2"/><text transform="translate(461.10 293.40)" font-family="'Liberation Sans', sans-serif" font-size="7.8" fill="#cc3a60" textLength="42.6" lengthAdjust="spacingAndGlyphs" stroke="#cc3a60" stroke-width="0.12">miR-106b-5p</text><path d="M457.4 349.25L459.6 344.40H506.5V354.10H459.6Z" fill="#2f5d4b" stroke="#111" stroke-width="1.2"/><text transform="translate(461.10 351.85)" font-family="'Liberation Sans', sans-serif" font-size="7.8" fill="#d8ecdf" textLength="42.6" lengthAdjust="spacingAndGlyphs" stroke="#d8ecdf" stroke-width="0.12">miR-148a-3p</text><path d="M457.4 370.60L459.6 366.00H506.5V375.20H459.6Z" fill="#4d2166" stroke="#111" stroke-width="1.2"/><text transform="translate(461.10 373.20)" font-family="'Liberation Sans', sans-serif" font-size="7.8" fill="#e8d8f4" textLength="39.8" lengthAdjust="spacingAndGlyphs" stroke="#e8d8f4" stroke-width="0.12">miR-338-3p</text><path d="M457.4 385.05L459.6 380.30H506.5V389.80H459.6Z" fill="#80b8e6" stroke="#111" stroke-width="1.2"/><text transform="translate(461.10 387.65)" font-family="'Liberation Sans', sans-serif" font-size="7.8" fill="#1d3a6a" textLength="39.8" lengthAdjust="spacingAndGlyphs" stroke="#1d3a6a" stroke-width="0.12">miR-29c-3p</text><path d="M457.4 395.70L459.6 391.80H506.5V399.60H459.6Z" fill="#5aa83a" stroke="#111" stroke-width="1.2"/><text transform="translate(461.10 398.30)" font-family="'Liberation Sans', sans-serif" font-size="7.8" fill="#c4ec8c" textLength="39.8" lengthAdjust="spacingAndGlyphs" stroke="#c4ec8c" stroke-width="0.12">miR-145-5p</text><path d="M457.4 403.55L459.6 399.70H506.5V407.40H459.6Z" fill="#2b4a78" stroke="#111" stroke-width="1.2"/><text transform="translate(461.10 406.15)" font-family="'Liberation Sans', sans-serif" font-size="7.8" fill="#dfe6f4" textLength="42.6" lengthAdjust="spacingAndGlyphs" stroke="#dfe6f4" stroke-width="0.12">miR-199a-5p</text><path d="M457.4 412.20L459.6 407.80H506.5V416.60H459.6Z" fill="#c8117e" stroke="#111" stroke-width="1.2"/><text transform="translate(461.10 414.80)" font-family="'Liberation Sans', sans-serif" font-size="7.8" fill="#de4fa0" textLength="39.8" lengthAdjust="spacingAndGlyphs" stroke="#de4fa0" stroke-width="0.12">miR-34a-5p</text><path d="M457.4 424.00L459.6 419.30H506.5V428.70H459.6Z" fill="#eaa536" stroke="#111" stroke-width="1.2"/><text transform="translate(461.10 426.60)" font-family="'Liberation Sans', sans-serif" font-size="7.8" fill="#6a3a08" textLength="42.6" lengthAdjust="spacingAndGlyphs" stroke="#6a3a08" stroke-width="0.12">miR-125a-5p</text><path d="M457.4 464.80L459.6 461.00H506.5V468.60H459.6Z" fill="#cdd6a0" stroke="#111" stroke-width="1.2"/><text transform="translate(461.10 467.40)" font-family="'Liberation Sans', sans-serif" font-size="7.8" fill="#3a4420" textLength="39.8" lengthAdjust="spacingAndGlyphs" stroke="#3a4420" stroke-width="0.12">miR-140-3p</text><path d="M457.4 473.85L459.6 469.40H506.5V478.30H459.6Z" fill="#9594cf" stroke="#111" stroke-width="1.2"/><text transform="translate(461.10 476.45)" font-family="'Liberation Sans', sans-serif" font-size="7.8" fill="#25255e" textLength="39.8" lengthAdjust="spacingAndGlyphs" stroke="#25255e" stroke-width="0.12">miR-328-3p</text><path fill="#000" d="M0 0H520V1.35H0Z M0 0H1.35V519H0Z M518.55 0H520V519H518.55Z M0 517.4H520V519H0Z"/></svg></body></html>
